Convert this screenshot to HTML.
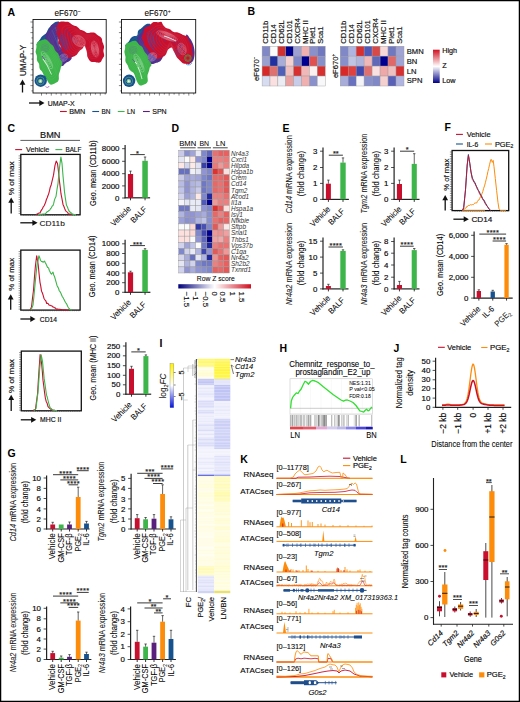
<!DOCTYPE html>
<html><head><meta charset="utf-8"><style>
html,body{margin:0;padding:0;background:#fff;}
svg{display:block;}
text{font-family:"Liberation Sans", sans-serif;}
</style></head><body>
<svg width="520" height="702" viewBox="0 0 520 702">
<rect x="0" y="0" width="520" height="702" fill="#fff"/>
<text x="7.50" y="15.80" font-size="10.5" fill="#000" font-weight="bold" >A</text>
<text x="67.50" y="15.90" font-size="8.2" text-anchor="middle" stroke="#222" stroke-width="0.08" >eF670<tspan font-size="5" dy="-3.2">−</tspan></text>
<text x="157.50" y="15.90" font-size="8.2" text-anchor="middle" stroke="#222" stroke-width="0.08" >eF670<tspan font-size="5" dy="-3.2">+</tspan></text>
<rect x="33.00" y="19.50" width="73.20" height="73.50" fill="#fff" stroke="#111" stroke-width="0.9" />
<line x1="30.40" y1="22.00" x2="33.00" y2="22.00" stroke="#111" stroke-width="0.5" />
<line x1="31.40" y1="27.30" x2="33.00" y2="27.30" stroke="#111" stroke-width="0.5" />
<line x1="30.40" y1="32.60" x2="33.00" y2="32.60" stroke="#111" stroke-width="0.5" />
<line x1="31.40" y1="37.90" x2="33.00" y2="37.90" stroke="#111" stroke-width="0.5" />
<line x1="30.40" y1="43.20" x2="33.00" y2="43.20" stroke="#111" stroke-width="0.5" />
<line x1="31.40" y1="48.50" x2="33.00" y2="48.50" stroke="#111" stroke-width="0.5" />
<line x1="30.40" y1="53.80" x2="33.00" y2="53.80" stroke="#111" stroke-width="0.5" />
<line x1="31.40" y1="59.10" x2="33.00" y2="59.10" stroke="#111" stroke-width="0.5" />
<line x1="30.40" y1="64.40" x2="33.00" y2="64.40" stroke="#111" stroke-width="0.5" />
<line x1="31.40" y1="69.70" x2="33.00" y2="69.70" stroke="#111" stroke-width="0.5" />
<line x1="30.40" y1="75.00" x2="33.00" y2="75.00" stroke="#111" stroke-width="0.5" />
<line x1="31.40" y1="80.30" x2="33.00" y2="80.30" stroke="#111" stroke-width="0.5" />
<line x1="30.40" y1="85.60" x2="33.00" y2="85.60" stroke="#111" stroke-width="0.5" />
<line x1="31.40" y1="90.90" x2="33.00" y2="90.90" stroke="#111" stroke-width="0.5" />
<line x1="41.50" y1="93.00" x2="41.50" y2="95.60" stroke="#111" stroke-width="0.5" />
<line x1="46.40" y1="93.00" x2="46.40" y2="94.60" stroke="#111" stroke-width="0.5" />
<line x1="51.30" y1="93.00" x2="51.30" y2="95.60" stroke="#111" stroke-width="0.5" />
<line x1="56.20" y1="93.00" x2="56.20" y2="94.60" stroke="#111" stroke-width="0.5" />
<line x1="61.10" y1="93.00" x2="61.10" y2="95.60" stroke="#111" stroke-width="0.5" />
<line x1="66.00" y1="93.00" x2="66.00" y2="94.60" stroke="#111" stroke-width="0.5" />
<line x1="70.90" y1="93.00" x2="70.90" y2="95.60" stroke="#111" stroke-width="0.5" />
<line x1="75.80" y1="93.00" x2="75.80" y2="94.60" stroke="#111" stroke-width="0.5" />
<line x1="80.70" y1="93.00" x2="80.70" y2="95.60" stroke="#111" stroke-width="0.5" />
<line x1="85.60" y1="93.00" x2="85.60" y2="94.60" stroke="#111" stroke-width="0.5" />
<line x1="90.50" y1="93.00" x2="90.50" y2="95.60" stroke="#111" stroke-width="0.5" />
<line x1="95.40" y1="93.00" x2="95.40" y2="94.60" stroke="#111" stroke-width="0.5" />
<line x1="100.30" y1="93.00" x2="100.30" y2="95.60" stroke="#111" stroke-width="0.5" />
<line x1="105.20" y1="93.00" x2="105.20" y2="94.60" stroke="#111" stroke-width="0.5" />
<path d="M36.68,45.20 C36.55,44.89 36.45,44.71 36.56,44.25 C36.67,43.79 36.88,43.48 37.24,42.91 C37.61,42.35 37.93,42.00 38.39,41.43 C38.85,40.86 39.15,40.56 39.53,40.05 C39.92,39.55 40.05,39.34 40.31,38.92 C40.58,38.50 40.60,38.34 40.85,37.95 C41.09,37.56 41.19,37.38 41.53,36.98 C41.87,36.59 42.08,36.37 42.55,35.97 C43.02,35.57 43.34,35.36 43.88,34.99 C44.41,34.61 44.74,34.45 45.21,34.09 C45.68,33.73 45.89,33.59 46.23,33.18 C46.57,32.77 46.66,32.55 46.90,32.04 C47.15,31.52 47.22,31.19 47.46,30.62 C47.71,30.04 47.84,29.69 48.13,29.19 C48.42,28.68 48.57,28.50 48.92,28.08 C49.27,27.66 49.52,27.45 49.88,27.09 C50.24,26.73 50.38,26.62 50.71,26.28 C51.04,25.93 51.17,25.77 51.52,25.38 C51.87,24.99 52.03,24.76 52.45,24.32 C52.86,23.88 53.11,23.60 53.60,23.18 C54.09,22.76 54.39,22.51 54.90,22.22 C55.40,21.92 55.68,21.81 56.11,21.69 C56.55,21.58 56.54,21.67 57.06,21.66 C57.59,21.64 58.19,21.38 58.73,21.62 C59.27,21.86 59.52,22.46 59.75,22.87 C59.97,23.27 59.82,23.32 59.87,23.65 C59.93,23.98 59.99,24.13 60.03,24.53 C60.08,24.93 60.12,25.13 60.10,25.65 C60.09,26.17 60.06,26.49 59.95,27.14 C59.83,27.78 59.72,28.19 59.52,28.89 C59.33,29.60 59.17,30.01 58.98,30.67 C58.80,31.33 58.68,31.66 58.60,32.20 C58.52,32.74 58.54,32.89 58.60,33.37 C58.66,33.84 58.78,34.06 58.91,34.57 C59.03,35.08 59.15,35.37 59.22,35.92 C59.29,36.47 59.30,36.79 59.24,37.33 C59.17,37.88 59.06,38.15 58.89,38.64 C58.72,39.12 58.57,39.32 58.39,39.75 C58.21,40.17 58.11,40.35 57.98,40.76 C57.85,41.17 57.87,41.31 57.74,41.80 C57.61,42.29 57.56,42.67 57.34,43.21 C57.13,43.75 57.01,44.06 56.67,44.52 C56.33,44.98 56.10,45.19 55.65,45.50 C55.19,45.80 54.90,45.88 54.39,46.03 C53.89,46.19 53.60,46.19 53.11,46.29 C52.62,46.39 52.41,46.42 51.94,46.56 C51.46,46.70 51.26,46.80 50.76,46.99 C50.26,47.17 50.00,47.32 49.44,47.49 C48.89,47.65 48.57,47.75 47.98,47.81 C47.40,47.86 47.08,47.84 46.53,47.74 C45.98,47.64 45.71,47.50 45.23,47.32 C44.75,47.13 44.58,46.97 44.12,46.80 C43.66,46.63 43.46,46.55 42.92,46.47 C42.39,46.39 42.07,46.40 41.44,46.39 C40.81,46.37 40.42,46.43 39.78,46.40 C39.15,46.38 38.78,46.39 38.27,46.28 C37.75,46.16 37.55,46.05 37.23,45.84 C36.91,45.62 36.82,45.52 36.68,45.20 Z" fill="#16528e" />
<path d="M41.55,41.85 C41.12,40.98 42.63,39.14 43.50,37.95 C44.37,36.76 45.77,35.84 46.75,34.70 C47.73,33.56 48.54,32.21 49.35,31.12 C50.16,30.04 50.76,28.93 51.62,28.20 C52.49,27.47 53.74,26.93 54.55,26.77 C55.36,26.61 56.28,26.12 56.50,27.23 C56.72,28.33 56.07,31.29 55.85,33.40 C55.63,35.51 55.96,38.27 55.20,39.90 C54.44,41.52 52.82,42.61 51.30,43.15 C49.78,43.69 47.73,43.37 46.10,43.15 C44.48,42.93 41.98,42.72 41.55,41.85 Z" fill="none" stroke="#fff" stroke-width="0.35" opacity="0.13"/>
<path d="M43.83,40.27 C43.51,39.64 44.62,38.30 45.25,37.42 C45.88,36.55 46.91,35.88 47.62,35.05 C48.34,34.22 48.93,33.23 49.52,32.44 C50.12,31.65 50.55,30.83 51.19,30.30 C51.82,29.77 52.73,29.37 53.33,29.25 C53.92,29.14 54.59,28.78 54.75,29.59 C54.91,30.39 54.43,32.56 54.27,34.10 C54.12,35.64 54.35,37.66 53.80,38.85 C53.25,40.04 52.06,40.83 50.95,41.23 C49.84,41.62 48.34,41.38 47.15,41.23 C45.96,41.07 44.14,40.91 43.83,40.27 Z" fill="none" stroke="#fff" stroke-width="0.35" opacity="0.13"/>
<path d="M46.10,38.70 C45.90,38.30 46.60,37.45 47.00,36.90 C47.40,36.35 48.05,35.92 48.50,35.40 C48.95,34.88 49.33,34.25 49.70,33.75 C50.08,33.25 50.35,32.73 50.75,32.40 C51.15,32.06 51.73,31.81 52.10,31.74 C52.48,31.66 52.90,31.44 53.00,31.95 C53.10,32.46 52.80,33.82 52.70,34.80 C52.60,35.77 52.75,37.05 52.40,37.80 C52.05,38.55 51.30,39.05 50.60,39.30 C49.90,39.55 48.95,39.40 48.20,39.30 C47.45,39.20 46.30,39.10 46.10,38.70 Z" fill="none" stroke="#fff" stroke-width="0.35" opacity="0.13"/>
<path d="M48.69,30.33 C48.93,29.90 49.13,29.65 49.37,29.15 C49.60,28.65 49.68,28.34 49.89,27.81 C50.10,27.27 50.17,26.94 50.41,26.46 C50.65,25.97 50.77,25.72 51.07,25.37 C51.37,25.01 51.49,24.93 51.92,24.69 C52.34,24.45 52.67,24.35 53.20,24.16 C53.73,23.97 54.04,23.93 54.58,23.75 C55.11,23.57 55.40,23.47 55.88,23.25 C56.37,23.03 56.40,22.88 57.00,22.65 C57.60,22.43 58.28,22.06 58.89,22.14 C59.50,22.22 59.81,22.68 60.06,23.06 C60.30,23.44 60.13,23.55 60.11,24.04 C60.09,24.53 60.04,24.89 59.96,25.51 C59.87,26.12 59.80,26.51 59.70,27.12 C59.59,27.74 59.53,28.05 59.42,28.57 C59.32,29.09 59.27,29.30 59.19,29.74 C59.11,30.18 59.09,30.36 59.03,30.77 C58.97,31.18 58.96,31.29 58.88,31.78 C58.80,32.27 58.74,32.58 58.64,33.20 C58.53,33.82 58.46,34.23 58.36,34.90 C58.25,35.58 58.19,35.97 58.11,36.58 C58.03,37.19 57.99,37.48 57.95,37.95 C57.91,38.43 57.90,38.60 57.92,38.96 C57.93,39.32 57.94,39.38 58.04,39.77 C58.13,40.15 58.22,40.37 58.38,40.88 C58.54,41.38 58.68,41.70 58.83,42.28 C58.99,42.86 59.04,43.25 59.15,43.77 C59.26,44.30 59.23,44.49 59.40,44.91 C59.57,45.32 59.69,45.44 59.99,45.85 C60.28,46.25 60.48,46.44 60.86,46.93 C61.25,47.42 61.52,47.77 61.91,48.29 C62.31,48.80 62.51,49.07 62.83,49.49 C63.15,49.92 63.27,50.09 63.52,50.41 C63.78,50.73 63.85,50.83 64.09,51.10 C64.33,51.37 64.40,51.46 64.72,51.75 C65.03,52.03 65.22,52.18 65.67,52.52 C66.11,52.86 66.42,53.06 66.96,53.43 C67.49,53.80 67.83,54.02 68.35,54.36 C68.86,54.70 69.14,54.87 69.52,55.14 C69.90,55.41 69.94,55.43 70.25,55.70 C70.56,55.98 70.81,56.19 71.08,56.51 C71.35,56.82 71.48,56.93 71.60,57.27 C71.72,57.61 71.74,57.84 71.68,58.21 C71.63,58.58 71.55,58.74 71.34,59.12 C71.12,59.50 70.96,59.73 70.59,60.11 C70.22,60.50 69.97,60.70 69.48,61.03 C69.00,61.37 68.66,61.52 68.18,61.77 C67.69,62.02 67.50,62.05 67.04,62.29 C66.59,62.52 66.34,62.64 65.91,62.95 C65.48,63.27 65.28,63.47 64.89,63.85 C64.50,64.24 64.33,64.52 63.97,64.89 C63.60,65.26 63.49,65.48 63.06,65.73 C62.64,65.97 62.35,66.08 61.85,66.10 C61.34,66.12 61.07,66.05 60.55,65.82 C60.03,65.58 59.76,65.36 59.25,64.92 C58.73,64.48 58.37,64.05 57.98,63.62 C57.59,63.20 57.57,63.10 57.29,62.79 C57.02,62.48 56.89,62.38 56.61,62.09 C56.33,61.81 56.18,61.71 55.89,61.36 C55.60,61.02 55.44,60.84 55.15,60.35 C54.86,59.87 54.71,59.56 54.44,58.94 C54.16,58.32 54.04,57.92 53.78,57.26 C53.52,56.60 53.38,56.18 53.14,55.65 C52.89,55.11 52.82,54.96 52.54,54.58 C52.26,54.20 52.09,54.08 51.74,53.74 C51.39,53.41 51.15,53.29 50.78,52.92 C50.40,52.55 50.18,52.35 49.86,51.89 C49.54,51.42 49.40,51.13 49.18,50.60 C48.97,50.07 48.93,49.76 48.78,49.24 C48.63,48.72 48.61,48.46 48.44,48.00 C48.27,47.55 48.17,47.35 47.91,46.95 C47.66,46.54 47.51,46.47 47.15,45.99 C46.80,45.50 46.49,45.12 46.14,44.54 C45.79,43.97 45.60,43.66 45.39,43.11 C45.18,42.56 45.14,42.29 45.09,41.79 C45.05,41.29 45.11,41.07 45.15,40.61 C45.20,40.14 45.27,39.95 45.31,39.47 C45.35,38.99 45.36,38.72 45.37,38.21 C45.38,37.70 45.33,37.46 45.34,36.92 C45.35,36.37 45.33,36.04 45.42,35.48 C45.51,34.92 45.58,34.61 45.79,34.11 C46.01,33.61 46.18,33.38 46.50,32.98 C46.81,32.58 47.03,32.44 47.37,32.10 C47.70,31.77 47.90,31.66 48.16,31.30 C48.42,30.95 48.45,30.76 48.69,30.33 Z" fill="#52308e" />
<path d="M50.48,33.27 C51.38,31.61 52.08,30.39 53.17,29.43 C54.25,28.47 55.98,27.71 57.00,27.52 C58.02,27.32 59.04,27.20 59.30,28.28 C59.56,29.37 58.79,31.92 58.53,34.03 C58.28,36.14 57.51,38.89 57.77,40.93 C58.02,42.98 59.17,44.77 60.07,46.30 C60.96,47.83 61.98,49.05 63.13,50.13 C64.28,51.22 66.07,51.99 66.97,52.82 C67.86,53.65 68.76,54.35 68.50,55.12 C68.24,55.88 66.58,56.52 65.43,57.42 C64.28,58.31 62.88,60.16 61.60,60.48 C60.32,60.80 59.04,60.55 57.77,59.33 C56.49,58.12 55.34,55.50 53.93,53.20 C52.53,50.90 50.36,47.83 49.33,45.53 C48.31,43.23 47.61,41.44 47.80,39.40 C47.99,37.36 49.59,34.93 50.48,33.27 Z" fill="none" stroke="#fff" stroke-width="0.35" opacity="0.13"/>
<path d="M51.48,34.90 C52.23,33.49 52.83,32.46 53.75,31.65 C54.67,30.84 56.13,30.19 57.00,30.02 C57.87,29.86 58.73,29.75 58.95,30.67 C59.17,31.60 58.52,33.76 58.30,35.55 C58.08,37.34 57.43,39.67 57.65,41.40 C57.87,43.13 58.84,44.65 59.60,45.95 C60.36,47.25 61.23,48.28 62.20,49.20 C63.18,50.12 64.69,50.77 65.45,51.48 C66.21,52.18 66.97,52.78 66.75,53.43 C66.53,54.08 65.12,54.62 64.15,55.38 C63.18,56.13 61.98,57.70 60.90,57.98 C59.82,58.25 58.73,58.03 57.65,57.00 C56.57,55.97 55.59,53.75 54.40,51.80 C53.21,49.85 51.37,47.25 50.50,45.30 C49.63,43.35 49.04,41.83 49.20,40.10 C49.36,38.37 50.72,36.31 51.48,34.90 Z" fill="none" stroke="#fff" stroke-width="0.35" opacity="0.13"/>
<path d="M52.47,36.53 C53.09,35.38 53.58,34.53 54.33,33.87 C55.09,33.20 56.29,32.67 57.00,32.53 C57.71,32.40 58.42,32.31 58.60,33.07 C58.78,33.82 58.24,35.60 58.07,37.07 C57.89,38.53 57.36,40.44 57.53,41.87 C57.71,43.29 58.51,44.53 59.13,45.60 C59.76,46.67 60.47,47.51 61.27,48.27 C62.07,49.02 63.31,49.56 63.93,50.13 C64.56,50.71 65.18,51.20 65.00,51.73 C64.82,52.27 63.67,52.71 62.87,53.33 C62.07,53.96 61.09,55.24 60.20,55.47 C59.31,55.69 58.42,55.51 57.53,54.67 C56.64,53.82 55.84,52.00 54.87,50.40 C53.89,48.80 52.38,46.67 51.67,45.07 C50.96,43.47 50.47,42.22 50.60,40.80 C50.73,39.38 51.84,37.69 52.47,36.53 Z" fill="none" stroke="#fff" stroke-width="0.35" opacity="0.13"/>
<path d="M53.46,38.17 C53.94,37.26 54.33,36.60 54.92,36.08 C55.51,35.56 56.44,35.15 57.00,35.04 C57.56,34.94 58.11,34.87 58.25,35.46 C58.39,36.05 57.97,37.44 57.83,38.58 C57.69,39.73 57.28,41.22 57.42,42.33 C57.56,43.44 58.18,44.42 58.67,45.25 C59.15,46.08 59.71,46.74 60.33,47.33 C60.96,47.92 61.93,48.34 62.42,48.79 C62.90,49.24 63.39,49.62 63.25,50.04 C63.11,50.46 62.21,50.81 61.58,51.29 C60.96,51.78 60.19,52.78 59.50,52.96 C58.81,53.13 58.11,52.99 57.42,52.33 C56.72,51.67 56.10,50.25 55.33,49.00 C54.57,47.75 53.39,46.08 52.83,44.83 C52.28,43.58 51.90,42.61 52.00,41.50 C52.10,40.39 52.97,39.07 53.46,38.17 Z" fill="none" stroke="#fff" stroke-width="0.35" opacity="0.13"/>
<path d="M54.45,39.80 C54.80,39.15 55.08,38.67 55.50,38.30 C55.92,37.92 56.60,37.62 57.00,37.55 C57.40,37.47 57.80,37.42 57.90,37.85 C58.00,38.27 57.70,39.27 57.60,40.10 C57.50,40.92 57.20,42.00 57.30,42.80 C57.40,43.60 57.85,44.30 58.20,44.90 C58.55,45.50 58.95,45.97 59.40,46.40 C59.85,46.83 60.55,47.12 60.90,47.45 C61.25,47.78 61.60,48.05 61.50,48.35 C61.40,48.65 60.75,48.90 60.30,49.25 C59.85,49.60 59.30,50.33 58.80,50.45 C58.30,50.58 57.80,50.48 57.30,50.00 C56.80,49.52 56.35,48.50 55.80,47.60 C55.25,46.70 54.40,45.50 54.00,44.60 C53.60,43.70 53.33,43.00 53.40,42.20 C53.47,41.40 54.10,40.45 54.45,39.80 Z" fill="none" stroke="#fff" stroke-width="0.35" opacity="0.13"/>
<path d="M52,30 C55,36 57,44 60,50" fill="none" stroke="#3a6fb5" stroke-width="0.6" opacity="0.8"/>
<path d="M55,27 C58,34 61,42 64,48" fill="none" stroke="#3a6fb5" stroke-width="0.6" opacity="0.8"/>
<path d="M57,40 C60,44 62,47 66,50" fill="none" stroke="#3a6fb5" stroke-width="0.6" opacity="0.8"/>
<path d="M56.73,27.16 C56.83,26.66 57.01,26.18 57.21,25.61 C57.41,25.04 57.49,24.79 57.72,24.31 C57.94,23.82 58.03,23.58 58.33,23.16 C58.62,22.74 58.82,22.51 59.21,22.22 C59.60,21.92 59.78,21.84 60.28,21.70 C60.78,21.57 61.12,21.56 61.72,21.54 C62.33,21.53 62.70,21.58 63.32,21.61 C63.94,21.64 64.26,21.68 64.83,21.71 C65.40,21.73 65.72,21.74 66.16,21.74 C66.59,21.73 66.63,21.67 66.99,21.69 C67.34,21.71 67.50,21.71 67.91,21.84 C68.32,21.97 68.55,22.08 69.02,22.35 C69.50,22.63 69.78,22.85 70.29,23.21 C70.80,23.58 71.09,23.84 71.58,24.19 C72.08,24.55 72.32,24.74 72.76,25.00 C73.20,25.25 73.39,25.32 73.80,25.47 C74.20,25.61 74.38,25.60 74.80,25.73 C75.22,25.86 75.43,25.90 75.89,26.11 C76.35,26.33 76.60,26.47 77.09,26.81 C77.57,27.15 77.83,27.40 78.30,27.81 C78.78,28.23 79.01,28.50 79.44,28.88 C79.87,29.25 80.07,29.44 80.45,29.68 C80.84,29.93 80.91,29.90 81.37,30.08 C81.84,30.26 82.25,30.38 82.77,30.57 C83.29,30.77 83.51,30.82 83.97,31.05 C84.42,31.27 84.61,31.41 85.03,31.68 C85.44,31.95 85.63,32.16 86.05,32.41 C86.47,32.66 86.67,32.79 87.14,32.91 C87.60,33.02 87.83,33.01 88.37,32.98 C88.91,32.95 89.22,32.84 89.84,32.75 C90.46,32.66 90.82,32.57 91.47,32.53 C92.12,32.49 92.49,32.49 93.10,32.55 C93.71,32.62 94.02,32.68 94.53,32.85 C95.04,33.03 95.24,33.16 95.65,33.42 C96.05,33.67 96.19,33.84 96.55,34.13 C96.92,34.43 97.07,34.59 97.49,34.89 C97.91,35.20 98.15,35.34 98.63,35.66 C99.11,35.98 99.41,36.13 99.89,36.47 C100.36,36.82 100.63,37.01 100.99,37.39 C101.36,37.78 101.50,37.98 101.71,38.39 C101.92,38.81 101.94,39.01 102.03,39.46 C102.13,39.92 102.10,40.14 102.18,40.65 C102.26,41.16 102.31,41.53 102.45,42.02 C102.59,42.51 102.66,42.64 102.86,43.11 C103.06,43.59 103.24,43.85 103.45,44.38 C103.66,44.92 103.80,45.22 103.91,45.78 C104.03,46.34 104.06,46.64 104.04,47.19 C104.03,47.74 103.94,48.01 103.84,48.52 C103.73,49.03 103.62,49.24 103.53,49.72 C103.45,50.20 103.40,50.42 103.42,50.92 C103.43,51.42 103.50,51.70 103.61,52.24 C103.71,52.79 103.84,53.09 103.95,53.65 C104.06,54.20 104.15,54.50 104.17,55.00 C104.19,55.51 104.16,55.75 104.05,56.16 C103.93,56.57 103.83,56.64 103.59,57.05 C103.35,57.47 103.14,57.78 102.86,58.24 C102.58,58.70 102.43,58.92 102.18,59.37 C101.94,59.82 101.86,60.07 101.63,60.51 C101.41,60.95 101.36,61.20 101.07,61.57 C100.79,61.93 100.64,62.11 100.22,62.32 C99.79,62.54 99.50,62.59 98.94,62.64 C98.37,62.68 98.00,62.62 97.38,62.55 C96.75,62.48 96.41,62.38 95.82,62.28 C95.24,62.19 94.96,62.14 94.43,62.09 C93.91,62.04 93.67,62.05 93.22,62.05 C92.76,62.04 92.56,62.10 92.16,62.06 C91.76,62.02 91.64,62.07 91.20,61.85 C90.77,61.62 90.45,61.41 89.98,60.93 C89.51,60.45 89.26,60.10 88.84,59.46 C88.42,58.83 88.17,58.36 87.87,57.75 C87.57,57.14 87.50,56.92 87.35,56.42 C87.20,55.92 87.18,55.69 87.12,55.25 C87.07,54.82 87.10,54.65 87.08,54.26 C87.06,53.88 87.11,53.89 87.02,53.34 C86.94,52.78 86.86,52.24 86.66,51.49 C86.47,50.74 86.32,50.30 86.07,49.58 C85.81,48.85 85.65,48.51 85.39,47.85 C85.12,47.20 84.96,46.74 84.74,46.30 C84.51,45.86 84.44,45.66 84.26,45.65 C84.09,45.63 84.08,45.84 83.87,46.22 C83.66,46.61 83.55,47.04 83.20,47.57 C82.85,48.10 82.50,48.52 82.13,48.89 C81.75,49.25 81.64,49.19 81.31,49.40 C80.99,49.61 80.82,49.67 80.50,49.94 C80.17,50.21 80.03,50.35 79.70,50.74 C79.38,51.12 79.21,51.38 78.87,51.86 C78.52,52.33 78.37,52.59 77.98,53.10 C77.59,53.60 77.32,53.94 76.91,54.39 C76.50,54.84 76.31,55.05 75.93,55.35 C75.55,55.66 75.39,55.74 75.03,55.92 C74.67,56.10 74.52,56.10 74.12,56.25 C73.72,56.39 73.51,56.44 73.03,56.63 C72.55,56.82 72.27,56.98 71.71,57.20 C71.15,57.41 70.81,57.58 70.22,57.71 C69.63,57.83 69.25,57.87 68.75,57.82 C68.25,57.77 68.09,57.68 67.71,57.45 C67.33,57.22 67.18,57.02 66.86,56.67 C66.53,56.31 66.42,56.07 66.10,55.68 C65.78,55.29 65.63,55.09 65.26,54.72 C64.88,54.35 64.64,54.16 64.23,53.84 C63.83,53.52 63.62,53.44 63.23,53.11 C62.85,52.78 62.63,52.61 62.33,52.18 C62.02,51.76 61.90,51.51 61.72,51.01 C61.54,50.50 61.53,50.20 61.44,49.65 C61.35,49.09 61.38,48.80 61.28,48.25 C61.18,47.70 61.12,47.40 60.94,46.91 C60.76,46.42 60.63,46.25 60.36,45.80 C60.09,45.34 59.88,45.12 59.59,44.64 C59.29,44.16 59.11,43.91 58.90,43.40 C58.69,42.88 58.62,42.61 58.54,42.09 C58.46,41.56 58.50,41.29 58.51,40.77 C58.52,40.24 58.59,39.99 58.57,39.45 C58.56,38.92 58.55,38.61 58.44,38.10 C58.33,37.59 58.24,37.42 58.04,36.90 C57.83,36.39 57.65,36.10 57.42,35.53 C57.19,34.97 57.04,34.66 56.88,34.10 C56.73,33.54 56.68,33.25 56.65,32.73 C56.61,32.21 56.67,31.98 56.71,31.51 C56.76,31.04 56.84,30.84 56.88,30.39 C56.91,29.94 56.93,29.73 56.90,29.27 C56.86,28.82 56.74,28.52 56.70,28.10 C56.67,27.68 56.63,27.65 56.73,27.16 Z" fill="#c8102e" />
<path d="M62.00,30.00 C62.20,27.93 63.13,27.13 64.40,26.40 C65.67,25.67 67.71,25.24 69.60,25.60 C71.49,25.96 73.71,27.45 75.76,28.56 C77.81,29.67 80.28,31.27 81.92,32.24 C83.56,33.21 84.27,34.03 85.60,34.40 C86.93,34.77 88.48,34.28 89.92,34.48 C91.36,34.68 93.01,34.95 94.24,35.60 C95.47,36.25 96.47,37.33 97.28,38.40 C98.09,39.47 98.69,40.36 99.12,42.00 C99.55,43.64 99.76,46.24 99.84,48.24 C99.92,50.24 99.97,52.44 99.60,54.00 C99.23,55.56 98.60,56.87 97.60,57.60 C96.60,58.33 94.93,58.40 93.60,58.40 C92.27,58.40 90.67,58.20 89.60,57.60 C88.53,57.00 87.76,55.93 87.20,54.80 C86.64,53.67 86.51,51.93 86.24,50.80 C85.97,49.67 85.91,48.96 85.60,48.00 C85.29,47.04 84.93,45.17 84.40,45.04 C83.87,44.91 83.27,46.24 82.40,47.20 C81.53,48.16 80.27,49.73 79.20,50.80 C78.13,51.87 77.20,53.00 76.00,53.60 C74.80,54.20 73.33,54.73 72.00,54.40 C70.67,54.07 69.13,53.00 68.00,51.60 C66.87,50.20 66.00,48.13 65.20,46.00 C64.40,43.87 63.73,41.47 63.20,38.80 C62.67,36.13 61.80,32.07 62.00,30.00 Z" fill="none" stroke="#fff" stroke-width="0.35" opacity="0.13"/>
<path d="M64.75,31.50 C64.92,29.69 65.74,28.99 66.85,28.35 C67.96,27.71 69.74,27.33 71.40,27.65 C73.06,27.96 74.99,29.27 76.79,30.24 C78.59,31.21 80.75,32.61 82.18,33.46 C83.62,34.31 84.23,35.02 85.40,35.35 C86.57,35.68 87.92,35.25 89.18,35.42 C90.44,35.59 91.89,35.83 92.96,36.40 C94.03,36.97 94.91,37.92 95.62,38.85 C96.33,39.78 96.86,40.56 97.23,42.00 C97.60,43.44 97.79,45.71 97.86,47.46 C97.93,49.21 97.98,51.13 97.65,52.50 C97.32,53.87 96.78,55.01 95.90,55.65 C95.03,56.29 93.57,56.35 92.40,56.35 C91.23,56.35 89.83,56.18 88.90,55.65 C87.97,55.13 87.29,54.19 86.80,53.20 C86.31,52.21 86.19,50.69 85.96,49.70 C85.73,48.71 85.67,48.09 85.40,47.25 C85.13,46.41 84.82,44.78 84.35,44.66 C83.88,44.54 83.36,45.71 82.60,46.55 C81.84,47.39 80.73,48.77 79.80,49.70 C78.87,50.63 78.05,51.62 77.00,52.15 C75.95,52.67 74.67,53.14 73.50,52.85 C72.33,52.56 70.99,51.62 70.00,50.40 C69.01,49.17 68.25,47.37 67.55,45.50 C66.85,43.63 66.27,41.53 65.80,39.20 C65.33,36.87 64.58,33.31 64.75,31.50 Z" fill="none" stroke="#fff" stroke-width="0.35" opacity="0.13"/>
<path d="M67.50,33.00 C67.65,31.45 68.35,30.85 69.30,30.30 C70.25,29.75 71.78,29.43 73.20,29.70 C74.62,29.97 76.28,31.09 77.82,31.92 C79.36,32.75 81.21,33.95 82.44,34.68 C83.67,35.41 84.20,36.02 85.20,36.30 C86.20,36.58 87.36,36.21 88.44,36.36 C89.52,36.51 90.76,36.71 91.68,37.20 C92.60,37.69 93.35,38.50 93.96,39.30 C94.57,40.10 95.02,40.77 95.34,42.00 C95.66,43.23 95.82,45.18 95.88,46.68 C95.94,48.18 95.98,49.83 95.70,51.00 C95.42,52.17 94.95,53.15 94.20,53.70 C93.45,54.25 92.20,54.30 91.20,54.30 C90.20,54.30 89.00,54.15 88.20,53.70 C87.40,53.25 86.82,52.45 86.40,51.60 C85.98,50.75 85.88,49.45 85.68,48.60 C85.48,47.75 85.43,47.22 85.20,46.50 C84.97,45.78 84.70,44.38 84.30,44.28 C83.90,44.18 83.45,45.18 82.80,45.90 C82.15,46.62 81.20,47.80 80.40,48.60 C79.60,49.40 78.90,50.25 78.00,50.70 C77.10,51.15 76.00,51.55 75.00,51.30 C74.00,51.05 72.85,50.25 72.00,49.20 C71.15,48.15 70.50,46.60 69.90,45.00 C69.30,43.40 68.80,41.60 68.40,39.60 C68.00,37.60 67.35,34.55 67.50,33.00 Z" fill="none" stroke="#fff" stroke-width="0.35" opacity="0.13"/>
<path d="M70.25,34.50 C70.38,33.21 70.96,32.71 71.75,32.25 C72.54,31.79 73.82,31.52 75.00,31.75 C76.18,31.98 77.57,32.91 78.85,33.60 C80.13,34.29 81.67,35.29 82.70,35.90 C83.73,36.51 84.17,37.02 85.00,37.25 C85.83,37.48 86.80,37.17 87.70,37.30 C88.60,37.42 89.63,37.59 90.40,38.00 C91.17,38.41 91.79,39.08 92.30,39.75 C92.81,40.42 93.18,40.98 93.45,42.00 C93.72,43.02 93.85,44.65 93.90,45.90 C93.95,47.15 93.98,48.52 93.75,49.50 C93.52,50.48 93.12,51.29 92.50,51.75 C91.88,52.21 90.83,52.25 90.00,52.25 C89.17,52.25 88.17,52.12 87.50,51.75 C86.83,51.38 86.35,50.71 86.00,50.00 C85.65,49.29 85.57,48.21 85.40,47.50 C85.23,46.79 85.19,46.35 85.00,45.75 C84.81,45.15 84.58,43.98 84.25,43.90 C83.92,43.82 83.54,44.65 83.00,45.25 C82.46,45.85 81.67,46.83 81.00,47.50 C80.33,48.17 79.75,48.88 79.00,49.25 C78.25,49.62 77.33,49.96 76.50,49.75 C75.67,49.54 74.71,48.88 74.00,48.00 C73.29,47.12 72.75,45.83 72.25,44.50 C71.75,43.17 71.33,41.67 71.00,40.00 C70.67,38.33 70.12,35.79 70.25,34.50 Z" fill="none" stroke="#fff" stroke-width="0.35" opacity="0.13"/>
<path d="M73.00,36.00 C73.10,34.97 73.57,34.57 74.20,34.20 C74.83,33.83 75.85,33.62 76.80,33.80 C77.75,33.98 78.85,34.73 79.88,35.28 C80.91,35.83 82.14,36.63 82.96,37.12 C83.78,37.61 84.13,38.01 84.80,38.20 C85.47,38.39 86.24,38.14 86.96,38.24 C87.68,38.34 88.51,38.47 89.12,38.80 C89.73,39.13 90.23,39.67 90.64,40.20 C91.05,40.73 91.35,41.18 91.56,42.00 C91.77,42.82 91.88,44.12 91.92,45.12 C91.96,46.12 91.99,47.22 91.80,48.00 C91.61,48.78 91.30,49.43 90.80,49.80 C90.30,50.17 89.47,50.20 88.80,50.20 C88.13,50.20 87.33,50.10 86.80,49.80 C86.27,49.50 85.88,48.97 85.60,48.40 C85.32,47.83 85.25,46.97 85.12,46.40 C84.99,45.83 84.95,45.48 84.80,45.00 C84.65,44.52 84.47,43.59 84.20,43.52 C83.93,43.45 83.63,44.12 83.20,44.60 C82.77,45.08 82.13,45.87 81.60,46.40 C81.07,46.93 80.60,47.50 80.00,47.80 C79.40,48.10 78.67,48.37 78.00,48.20 C77.33,48.03 76.57,47.50 76.00,46.80 C75.43,46.10 75.00,45.07 74.60,44.00 C74.20,42.93 73.87,41.73 73.60,40.40 C73.33,39.07 72.90,37.03 73.00,36.00 Z" fill="none" stroke="#fff" stroke-width="0.35" opacity="0.13"/>
<path d="M75.75,37.50 C75.83,36.73 76.18,36.42 76.65,36.15 C77.12,35.88 77.89,35.72 78.60,35.85 C79.31,35.98 80.14,36.55 80.91,36.96 C81.68,37.38 82.61,37.98 83.22,38.34 C83.83,38.71 84.10,39.01 84.60,39.15 C85.10,39.29 85.68,39.10 86.22,39.18 C86.76,39.26 87.38,39.36 87.84,39.60 C88.30,39.84 88.68,40.25 88.98,40.65 C89.28,41.05 89.51,41.38 89.67,42.00 C89.83,42.62 89.91,43.59 89.94,44.34 C89.97,45.09 89.99,45.91 89.85,46.50 C89.71,47.09 89.47,47.58 89.10,47.85 C88.72,48.12 88.10,48.15 87.60,48.15 C87.10,48.15 86.50,48.08 86.10,47.85 C85.70,47.62 85.41,47.22 85.20,46.80 C84.99,46.38 84.94,45.72 84.84,45.30 C84.74,44.88 84.71,44.61 84.60,44.25 C84.48,43.89 84.35,43.19 84.15,43.14 C83.95,43.09 83.73,43.59 83.40,43.95 C83.08,44.31 82.60,44.90 82.20,45.30 C81.80,45.70 81.45,46.12 81.00,46.35 C80.55,46.58 80.00,46.77 79.50,46.65 C79.00,46.52 78.42,46.12 78.00,45.60 C77.58,45.08 77.25,44.30 76.95,43.50 C76.65,42.70 76.40,41.80 76.20,40.80 C76.00,39.80 75.67,38.27 75.75,37.50 Z" fill="none" stroke="#fff" stroke-width="0.35" opacity="0.13"/>
<path d="M62,33 C63,40 65,46 69,50" fill="none" stroke="#4a3aa8" stroke-width="0.55" opacity="0.75"/>
<path d="M64,30 C66,38 68,44 72,48" fill="none" stroke="#4a3aa8" stroke-width="0.55" opacity="0.75"/>
<path d="M60,36 C61,42 63,46 67,50" fill="none" stroke="#4a3aa8" stroke-width="0.55" opacity="0.75"/>
<path d="M59,28 C61,36 62,44 66,52" fill="none" stroke="#4a3aa8" stroke-width="0.55" opacity="0.75"/>
<path d="M66,28 C69,34 71,40 75,44" fill="none" stroke="#4a3aa8" stroke-width="0.55" opacity="0.75"/>
<path d="M68,32 C72,36 74,40 78,42" fill="none" stroke="#4a3aa8" stroke-width="0.55" opacity="0.75"/>
<path d="M61,50 C64,54 68,56 72,56" fill="none" stroke="#4a3aa8" stroke-width="0.55" opacity="0.75"/>
<ellipse cx="79" cy="41" rx="1.17" ry="0.83" transform="rotate(35 79 41)" fill="none" stroke="#fff" stroke-width="0.5" opacity="0.4"/>
<ellipse cx="79" cy="41" rx="2.33" ry="1.67" transform="rotate(35 79 41)" fill="none" stroke="#fff" stroke-width="0.5" opacity="0.4"/>
<ellipse cx="79" cy="41" rx="3.50" ry="2.50" transform="rotate(35 79 41)" fill="none" stroke="#fff" stroke-width="0.5" opacity="0.4"/>
<ellipse cx="79" cy="41" rx="4.67" ry="3.33" transform="rotate(35 79 41)" fill="none" stroke="#fff" stroke-width="0.5" opacity="0.4"/>
<ellipse cx="79" cy="41" rx="5.83" ry="4.17" transform="rotate(35 79 41)" fill="none" stroke="#fff" stroke-width="0.5" opacity="0.4"/>
<ellipse cx="79" cy="41" rx="7.00" ry="5.00" transform="rotate(35 79 41)" fill="none" stroke="#fff" stroke-width="0.5" opacity="0.4"/>
<ellipse cx="95" cy="49" rx="0.70" ry="1.60" transform="rotate(-10 95 49)" fill="none" stroke="#fff" stroke-width="0.5" opacity="0.45"/>
<ellipse cx="95" cy="49" rx="1.40" ry="3.20" transform="rotate(-10 95 49)" fill="none" stroke="#fff" stroke-width="0.5" opacity="0.45"/>
<ellipse cx="95" cy="49" rx="2.10" ry="4.80" transform="rotate(-10 95 49)" fill="none" stroke="#fff" stroke-width="0.5" opacity="0.45"/>
<ellipse cx="95" cy="49" rx="2.80" ry="6.40" transform="rotate(-10 95 49)" fill="none" stroke="#fff" stroke-width="0.5" opacity="0.45"/>
<ellipse cx="95" cy="49" rx="3.50" ry="8.00" transform="rotate(-10 95 49)" fill="none" stroke="#fff" stroke-width="0.5" opacity="0.45"/>
<ellipse cx="64" cy="42" rx="0.75" ry="2.00" transform="rotate(-20 64 42)" fill="none" stroke="#4050b0" stroke-width="0.5" opacity="0.6"/>
<ellipse cx="64" cy="42" rx="1.50" ry="4.00" transform="rotate(-20 64 42)" fill="none" stroke="#4050b0" stroke-width="0.5" opacity="0.6"/>
<ellipse cx="64" cy="42" rx="2.25" ry="6.00" transform="rotate(-20 64 42)" fill="none" stroke="#4050b0" stroke-width="0.5" opacity="0.6"/>
<ellipse cx="64" cy="42" rx="3.00" ry="8.00" transform="rotate(-20 64 42)" fill="none" stroke="#4050b0" stroke-width="0.5" opacity="0.6"/>
<ellipse cx="63" cy="58" rx="1.25" ry="0.88" transform="rotate(-30 63 58)" fill="none" stroke="#d8c8e8" stroke-width="0.5" opacity="0.5"/>
<ellipse cx="63" cy="58" rx="2.50" ry="1.75" transform="rotate(-30 63 58)" fill="none" stroke="#d8c8e8" stroke-width="0.5" opacity="0.5"/>
<ellipse cx="63" cy="58" rx="3.75" ry="2.62" transform="rotate(-30 63 58)" fill="none" stroke="#d8c8e8" stroke-width="0.5" opacity="0.5"/>
<ellipse cx="63" cy="58" rx="5.00" ry="3.50" transform="rotate(-30 63 58)" fill="none" stroke="#d8c8e8" stroke-width="0.5" opacity="0.5"/>
<path d="M35.71,50.92 C35.80,50.47 35.90,50.11 36.01,49.55 C36.13,49.00 36.20,48.75 36.28,48.17 C36.37,47.59 36.38,47.27 36.43,46.65 C36.49,46.03 36.48,45.66 36.55,45.07 C36.62,44.47 36.57,44.26 36.78,43.67 C37.00,43.08 37.22,42.61 37.63,42.12 C38.03,41.64 38.31,41.52 38.81,41.24 C39.30,40.97 39.58,40.93 40.10,40.75 C40.62,40.56 40.88,40.50 41.40,40.31 C41.93,40.13 42.19,40.02 42.71,39.84 C43.22,39.66 43.47,39.52 43.98,39.42 C44.50,39.32 44.74,39.25 45.27,39.33 C45.80,39.41 46.08,39.50 46.63,39.81 C47.17,40.12 47.52,40.43 48.00,40.88 C48.47,41.33 48.60,41.59 49.00,42.04 C49.39,42.50 49.58,42.76 49.97,43.17 C50.36,43.58 50.55,43.74 50.96,44.09 C51.37,44.44 51.65,44.64 52.02,44.92 C52.38,45.20 52.48,45.19 52.77,45.50 C53.06,45.81 53.22,46.00 53.48,46.46 C53.74,46.91 53.85,47.22 54.07,47.76 C54.30,48.31 54.38,48.65 54.59,49.17 C54.80,49.69 54.89,49.95 55.14,50.37 C55.39,50.78 55.50,50.89 55.83,51.24 C56.16,51.60 56.41,51.76 56.80,52.13 C57.18,52.49 57.42,52.66 57.76,53.09 C58.11,53.52 58.27,53.77 58.51,54.29 C58.75,54.81 58.81,55.13 58.96,55.69 C59.11,56.25 59.13,56.59 59.26,57.11 C59.39,57.62 59.40,57.80 59.61,58.26 C59.81,58.72 59.98,58.94 60.30,59.40 C60.61,59.86 60.86,60.09 61.19,60.57 C61.53,61.04 61.74,61.31 61.98,61.77 C62.21,62.24 62.30,62.49 62.37,62.90 C62.44,63.31 62.41,63.31 62.32,63.82 C62.23,64.32 62.15,64.83 61.91,65.43 C61.66,66.03 61.32,66.32 61.08,66.83 C60.85,67.34 60.87,67.47 60.73,67.99 C60.59,68.50 60.55,68.82 60.40,69.42 C60.25,70.02 60.17,70.38 59.99,70.99 C59.80,71.61 59.67,71.97 59.49,72.49 C59.32,73.01 59.24,73.14 59.12,73.59 C58.99,74.04 58.92,74.24 58.86,74.73 C58.79,75.22 58.78,75.47 58.78,76.04 C58.78,76.60 58.83,76.94 58.84,77.55 C58.86,78.15 58.91,78.46 58.84,79.07 C58.77,79.68 58.69,80.08 58.47,80.61 C58.26,81.14 58.10,81.36 57.78,81.71 C57.46,82.06 57.24,82.14 56.87,82.35 C56.50,82.56 56.35,82.54 55.91,82.75 C55.48,82.96 55.18,83.12 54.69,83.38 C54.19,83.64 53.94,83.82 53.44,84.06 C52.95,84.30 52.71,84.46 52.21,84.58 C51.72,84.70 51.48,84.76 50.98,84.65 C50.47,84.55 50.21,84.45 49.69,84.04 C49.18,83.64 48.78,83.15 48.40,82.62 C48.01,82.09 48.02,81.89 47.77,81.41 C47.52,80.92 47.40,80.64 47.14,80.20 C46.88,79.76 46.76,79.58 46.49,79.21 C46.21,78.85 46.07,78.73 45.78,78.38 C45.50,78.04 45.34,77.90 45.06,77.50 C44.78,77.10 44.66,76.91 44.38,76.40 C44.11,75.88 43.95,75.51 43.68,74.92 C43.41,74.32 43.31,73.99 43.05,73.44 C42.80,72.89 42.69,72.63 42.40,72.16 C42.10,71.69 41.94,71.52 41.59,71.08 C41.24,70.64 40.97,70.34 40.64,69.96 C40.32,69.58 40.20,69.54 39.97,69.16 C39.74,68.78 39.63,68.55 39.51,68.07 C39.38,67.58 39.37,67.28 39.32,66.76 C39.28,66.23 39.32,65.94 39.27,65.43 C39.22,64.92 39.21,64.68 39.07,64.21 C38.93,63.74 38.81,63.53 38.56,63.07 C38.31,62.61 38.11,62.38 37.84,61.90 C37.57,61.42 37.40,61.16 37.20,60.66 C37.01,60.17 36.95,59.90 36.89,59.41 C36.82,58.92 36.86,58.68 36.87,58.21 C36.89,57.75 36.95,57.54 36.94,57.08 C36.94,56.62 36.93,56.40 36.84,55.91 C36.74,55.42 36.63,55.15 36.45,54.61 C36.27,54.07 36.12,53.75 35.94,53.20 C35.76,52.65 35.60,52.30 35.56,51.85 C35.51,51.39 35.62,51.38 35.71,50.92 Z" fill="#3db54a" />
<path d="M38.88,53.57 C38.80,51.43 39.26,49.54 39.80,48.20 C40.34,46.86 41.21,46.09 42.10,45.52 C42.99,44.94 44.14,44.69 45.17,44.75 C46.19,44.81 47.21,45.20 48.23,45.90 C49.26,46.60 50.28,47.69 51.30,48.97 C52.32,50.24 53.41,52.03 54.37,53.57 C55.33,55.10 56.26,56.53 57.05,58.17 C57.84,59.80 58.86,62.10 59.12,63.38 C59.38,64.66 58.97,64.76 58.58,65.83 C58.20,66.91 57.16,68.29 56.82,69.82 C56.48,71.35 56.92,73.65 56.51,75.03 C56.10,76.41 55.21,77.40 54.37,78.10 C53.52,78.80 52.42,79.31 51.45,79.25 C50.48,79.19 49.52,78.80 48.54,77.72 C47.56,76.63 46.53,74.34 45.55,72.73 C44.57,71.12 43.52,70.01 42.64,68.06 C41.76,66.10 40.89,63.42 40.26,61.00 C39.63,58.59 38.96,55.70 38.88,53.57 Z" fill="none" stroke="#fff" stroke-width="0.35" opacity="0.13"/>
<path d="M40.42,54.85 C40.35,53.04 40.74,51.44 41.20,50.30 C41.65,49.16 42.39,48.51 43.15,48.02 C43.91,47.54 44.88,47.32 45.75,47.38 C46.62,47.43 47.48,47.75 48.35,48.35 C49.22,48.95 50.08,49.87 50.95,50.95 C51.82,52.03 52.74,53.55 53.55,54.85 C54.36,56.15 55.15,57.36 55.83,58.75 C56.50,60.14 57.36,62.09 57.58,63.17 C57.80,64.25 57.45,64.34 57.12,65.25 C56.80,66.16 55.92,67.33 55.63,68.63 C55.34,69.93 55.72,71.88 55.37,73.05 C55.02,74.22 54.26,75.05 53.55,75.65 C52.84,76.25 51.90,76.68 51.08,76.62 C50.26,76.57 49.44,76.25 48.61,75.33 C47.78,74.40 46.91,72.46 46.08,71.10 C45.24,69.73 44.35,68.79 43.61,67.14 C42.86,65.48 42.12,63.20 41.59,61.16 C41.06,59.11 40.48,56.66 40.42,54.85 Z" fill="none" stroke="#fff" stroke-width="0.35" opacity="0.13"/>
<path d="M41.96,56.13 C41.91,54.65 42.23,53.33 42.60,52.40 C42.97,51.47 43.58,50.93 44.20,50.53 C44.82,50.13 45.62,49.96 46.33,50.00 C47.04,50.04 47.76,50.31 48.47,50.80 C49.18,51.29 49.89,52.04 50.60,52.93 C51.31,53.82 52.07,55.07 52.73,56.13 C53.40,57.20 54.05,58.20 54.60,59.33 C55.15,60.47 55.86,62.07 56.04,62.96 C56.22,63.85 55.93,63.92 55.67,64.67 C55.40,65.41 54.68,66.37 54.44,67.44 C54.20,68.51 54.51,70.11 54.23,71.07 C53.94,72.03 53.32,72.71 52.73,73.20 C52.15,73.69 51.38,74.04 50.71,74.00 C50.03,73.96 49.36,73.69 48.68,72.93 C48.00,72.18 47.28,70.59 46.60,69.47 C45.92,68.35 45.19,67.57 44.57,66.21 C43.96,64.85 43.36,62.99 42.92,61.31 C42.48,59.63 42.01,57.62 41.96,56.13 Z" fill="none" stroke="#fff" stroke-width="0.35" opacity="0.13"/>
<path d="M43.50,57.42 C43.46,56.26 43.71,55.23 44.00,54.50 C44.29,53.77 44.76,53.35 45.25,53.04 C45.74,52.73 46.36,52.59 46.92,52.62 C47.47,52.66 48.03,52.87 48.58,53.25 C49.14,53.63 49.69,54.22 50.25,54.92 C50.81,55.61 51.40,56.58 51.92,57.42 C52.44,58.25 52.94,59.03 53.38,59.92 C53.81,60.81 54.36,62.06 54.50,62.75 C54.64,63.44 54.42,63.50 54.21,64.08 C54.00,64.67 53.44,65.42 53.25,66.25 C53.06,67.08 53.31,68.33 53.08,69.08 C52.86,69.83 52.38,70.37 51.92,70.75 C51.46,71.13 50.86,71.41 50.33,71.38 C49.81,71.34 49.28,71.13 48.75,70.54 C48.22,69.95 47.66,68.71 47.12,67.83 C46.59,66.96 46.02,66.35 45.54,65.29 C45.06,64.23 44.59,62.77 44.25,61.46 C43.91,60.15 43.54,58.58 43.50,57.42 Z" fill="none" stroke="#fff" stroke-width="0.35" opacity="0.13"/>
<path d="M45.04,58.70 C45.01,57.86 45.19,57.12 45.40,56.60 C45.61,56.07 45.95,55.77 46.30,55.55 C46.65,55.32 47.10,55.23 47.50,55.25 C47.90,55.27 48.30,55.42 48.70,55.70 C49.10,55.97 49.50,56.40 49.90,56.90 C50.30,57.40 50.73,58.10 51.10,58.70 C51.48,59.30 51.84,59.86 52.15,60.50 C52.46,61.14 52.86,62.04 52.96,62.54 C53.06,63.04 52.90,63.08 52.75,63.50 C52.60,63.92 52.20,64.46 52.06,65.06 C51.93,65.66 52.10,66.56 51.94,67.10 C51.78,67.64 51.43,68.03 51.10,68.30 C50.77,68.57 50.34,68.78 49.96,68.75 C49.58,68.72 49.20,68.58 48.82,68.15 C48.44,67.73 48.03,66.83 47.65,66.20 C47.27,65.57 46.85,65.14 46.51,64.37 C46.16,63.61 45.82,62.55 45.58,61.61 C45.34,60.66 45.07,59.53 45.04,58.70 Z" fill="none" stroke="#fff" stroke-width="0.35" opacity="0.13"/>
<ellipse cx="47" cy="60" rx="0.75" ry="2.50" transform="rotate(-30 47 60)" fill="none" stroke="#fff" stroke-width="0.5" opacity="0.45"/>
<ellipse cx="47" cy="60" rx="1.50" ry="5.00" transform="rotate(-30 47 60)" fill="none" stroke="#fff" stroke-width="0.5" opacity="0.45"/>
<ellipse cx="47" cy="60" rx="2.25" ry="7.50" transform="rotate(-30 47 60)" fill="none" stroke="#fff" stroke-width="0.5" opacity="0.45"/>
<ellipse cx="47" cy="60" rx="3.00" ry="10.00" transform="rotate(-30 47 60)" fill="none" stroke="#fff" stroke-width="0.5" opacity="0.45"/>
<ellipse cx="45" cy="48" rx="1.33" ry="1.33" transform="rotate(0 45 48)" fill="none" stroke="#6a5aa8" stroke-width="0.5" opacity="0.5"/>
<ellipse cx="45" cy="48" rx="2.67" ry="2.67" transform="rotate(0 45 48)" fill="none" stroke="#6a5aa8" stroke-width="0.5" opacity="0.5"/>
<ellipse cx="45" cy="48" rx="4.00" ry="4.00" transform="rotate(0 45 48)" fill="none" stroke="#6a5aa8" stroke-width="0.5" opacity="0.5"/>
<path d="M43,59 L47,65 L51.5,74.5" fill="none" stroke="#fff" stroke-width="0.9" opacity="0.8"/>
<path d="M42,56 L45,60" fill="none" stroke="#5a3a9a" stroke-width="0.8" />
<circle cx="40.7" cy="80.7" r="6.2" fill="#16528e"/>
<circle cx="40.400000000000006" cy="80.9" r="3.844" fill="none" stroke="#7fbf8f" stroke-width="0.6" opacity="0.8"/>
<circle cx="40.400000000000006" cy="81.10000000000001" r="2.17" fill="#8fcf8f"/>
<circle cx="40.400000000000006" cy="81.10000000000001" r="0.9299999999999999" fill="#e8f8e8"/>
<path d="M45.5,86.5 C47,88 49,87.5 49,86" fill="none" stroke="#9a4ab0" stroke-width="0.7" />
<rect x="121.50" y="19.50" width="74.20" height="73.50" fill="#fff" stroke="#111" stroke-width="0.9" />
<line x1="118.90" y1="22.00" x2="121.50" y2="22.00" stroke="#111" stroke-width="0.5" />
<line x1="119.90" y1="27.30" x2="121.50" y2="27.30" stroke="#111" stroke-width="0.5" />
<line x1="118.90" y1="32.60" x2="121.50" y2="32.60" stroke="#111" stroke-width="0.5" />
<line x1="119.90" y1="37.90" x2="121.50" y2="37.90" stroke="#111" stroke-width="0.5" />
<line x1="118.90" y1="43.20" x2="121.50" y2="43.20" stroke="#111" stroke-width="0.5" />
<line x1="119.90" y1="48.50" x2="121.50" y2="48.50" stroke="#111" stroke-width="0.5" />
<line x1="118.90" y1="53.80" x2="121.50" y2="53.80" stroke="#111" stroke-width="0.5" />
<line x1="119.90" y1="59.10" x2="121.50" y2="59.10" stroke="#111" stroke-width="0.5" />
<line x1="118.90" y1="64.40" x2="121.50" y2="64.40" stroke="#111" stroke-width="0.5" />
<line x1="119.90" y1="69.70" x2="121.50" y2="69.70" stroke="#111" stroke-width="0.5" />
<line x1="118.90" y1="75.00" x2="121.50" y2="75.00" stroke="#111" stroke-width="0.5" />
<line x1="119.90" y1="80.30" x2="121.50" y2="80.30" stroke="#111" stroke-width="0.5" />
<line x1="118.90" y1="85.60" x2="121.50" y2="85.60" stroke="#111" stroke-width="0.5" />
<line x1="119.90" y1="90.90" x2="121.50" y2="90.90" stroke="#111" stroke-width="0.5" />
<line x1="130.00" y1="93.00" x2="130.00" y2="95.60" stroke="#111" stroke-width="0.5" />
<line x1="134.90" y1="93.00" x2="134.90" y2="94.60" stroke="#111" stroke-width="0.5" />
<line x1="139.80" y1="93.00" x2="139.80" y2="95.60" stroke="#111" stroke-width="0.5" />
<line x1="144.70" y1="93.00" x2="144.70" y2="94.60" stroke="#111" stroke-width="0.5" />
<line x1="149.60" y1="93.00" x2="149.60" y2="95.60" stroke="#111" stroke-width="0.5" />
<line x1="154.50" y1="93.00" x2="154.50" y2="94.60" stroke="#111" stroke-width="0.5" />
<line x1="159.40" y1="93.00" x2="159.40" y2="95.60" stroke="#111" stroke-width="0.5" />
<line x1="164.30" y1="93.00" x2="164.30" y2="94.60" stroke="#111" stroke-width="0.5" />
<line x1="169.20" y1="93.00" x2="169.20" y2="95.60" stroke="#111" stroke-width="0.5" />
<line x1="174.10" y1="93.00" x2="174.10" y2="94.60" stroke="#111" stroke-width="0.5" />
<line x1="179.00" y1="93.00" x2="179.00" y2="95.60" stroke="#111" stroke-width="0.5" />
<line x1="183.90" y1="93.00" x2="183.90" y2="94.60" stroke="#111" stroke-width="0.5" />
<line x1="188.80" y1="93.00" x2="188.80" y2="95.60" stroke="#111" stroke-width="0.5" />
<line x1="193.70" y1="93.00" x2="193.70" y2="94.60" stroke="#111" stroke-width="0.5" />
<path d="M125.23,46.22 C125.12,45.88 125.19,45.64 125.50,45.10 C125.80,44.56 126.21,44.17 126.77,43.53 C127.34,42.88 127.83,42.41 128.31,41.88 C128.80,41.35 128.88,41.28 129.18,40.88 C129.49,40.47 129.60,40.28 129.85,39.87 C130.09,39.47 130.16,39.27 130.41,38.86 C130.67,38.46 130.78,38.23 131.12,37.86 C131.47,37.49 131.62,37.30 132.13,37.00 C132.65,36.69 133.07,36.54 133.71,36.35 C134.36,36.15 134.78,36.15 135.37,36.04 C135.96,35.92 136.26,35.93 136.66,35.75 C137.07,35.57 137.18,35.55 137.38,35.11 C137.59,34.68 137.59,34.23 137.69,33.55 C137.78,32.87 137.66,32.39 137.84,31.71 C138.03,31.03 138.27,30.58 138.60,30.15 C138.93,29.71 139.12,29.78 139.50,29.53 C139.88,29.28 140.09,29.20 140.51,28.90 C140.93,28.60 141.14,28.43 141.59,28.03 C142.05,27.62 142.30,27.35 142.79,26.89 C143.28,26.43 143.53,26.16 144.05,25.73 C144.57,25.30 144.86,25.08 145.39,24.73 C145.93,24.39 146.24,24.23 146.75,24.02 C147.26,23.82 147.50,23.77 147.94,23.69 C148.37,23.62 148.57,23.63 148.93,23.66 C149.29,23.69 149.44,23.73 149.75,23.86 C150.05,23.99 150.19,24.07 150.45,24.31 C150.72,24.55 150.87,24.67 151.07,25.06 C151.26,25.46 151.37,25.69 151.44,26.27 C151.51,26.85 151.50,27.23 151.42,27.97 C151.33,28.71 151.18,29.34 151.02,29.99 C150.85,30.63 150.73,30.71 150.59,31.18 C150.46,31.66 150.39,31.90 150.34,32.37 C150.29,32.84 150.32,33.04 150.35,33.52 C150.38,34.00 150.47,34.23 150.50,34.75 C150.53,35.27 150.57,35.56 150.49,36.11 C150.42,36.67 150.33,36.99 150.12,37.53 C149.90,38.07 149.71,38.34 149.42,38.82 C149.13,39.30 148.92,39.50 148.67,39.91 C148.41,40.33 148.29,40.51 148.12,40.90 C147.96,41.29 147.99,41.44 147.82,41.88 C147.65,42.33 147.55,42.68 147.27,43.13 C146.99,43.59 146.82,43.82 146.41,44.15 C146.00,44.47 145.73,44.58 145.22,44.74 C144.70,44.90 144.38,44.89 143.84,44.94 C143.30,44.98 143.01,44.93 142.49,44.98 C141.98,45.04 141.75,45.05 141.25,45.21 C140.75,45.38 140.51,45.54 140.01,45.78 C139.52,46.03 139.30,46.23 138.78,46.45 C138.25,46.68 137.93,46.81 137.38,46.92 C136.82,47.03 136.52,47.03 136.00,47.02 C135.48,47.00 135.24,46.91 134.76,46.83 C134.29,46.75 134.09,46.67 133.62,46.63 C133.16,46.59 132.94,46.58 132.44,46.62 C131.94,46.66 131.66,46.74 131.14,46.84 C130.63,46.94 130.60,47.05 129.87,47.12 C129.15,47.19 128.29,47.25 127.52,47.19 C126.76,47.13 126.51,47.03 126.05,46.83 C125.59,46.64 125.34,46.57 125.23,46.22 Z" fill="#16528e" />
<path d="M130.64,42.50 C130.42,41.96 131.45,40.88 132.20,39.90 C132.95,38.92 134.13,37.41 135.12,36.65 C136.12,35.89 137.51,36.05 138.18,35.35 C138.85,34.65 138.42,33.41 139.16,32.42 C139.89,31.44 141.38,30.19 142.60,29.43 C143.82,28.68 145.74,27.43 146.50,27.88 C147.26,28.32 147.37,30.10 147.15,32.10 C146.93,34.10 146.39,38.17 145.20,39.90 C144.01,41.63 141.95,41.96 140.00,42.50 C138.05,43.04 135.06,43.15 133.50,43.15 C131.94,43.15 130.86,43.04 130.64,42.50 Z" fill="none" stroke="#fff" stroke-width="0.35" opacity="0.13"/>
<path d="M133.16,40.75 C133.00,40.35 133.75,39.56 134.30,38.85 C134.85,38.14 135.71,37.03 136.44,36.48 C137.17,35.92 138.18,36.04 138.67,35.52 C139.16,35.01 138.84,34.11 139.38,33.39 C139.92,32.67 141.01,31.76 141.90,31.20 C142.79,30.65 144.20,29.74 144.75,30.06 C145.30,30.39 145.38,31.69 145.22,33.15 C145.07,34.61 144.67,37.58 143.80,38.85 C142.93,40.12 141.43,40.35 140.00,40.75 C138.57,41.15 136.39,41.23 135.25,41.23 C134.11,41.23 133.32,41.15 133.16,40.75 Z" fill="none" stroke="#fff" stroke-width="0.35" opacity="0.13"/>
<path d="M135.68,39.00 C135.58,38.75 136.06,38.25 136.40,37.80 C136.75,37.35 137.29,36.65 137.75,36.30 C138.21,35.95 138.85,36.03 139.16,35.70 C139.47,35.38 139.27,34.80 139.61,34.35 C139.95,33.90 140.63,33.32 141.20,32.97 C141.76,32.62 142.65,32.05 143.00,32.25 C143.35,32.45 143.40,33.28 143.30,34.20 C143.20,35.12 142.95,37.00 142.40,37.80 C141.85,38.60 140.90,38.75 140.00,39.00 C139.10,39.25 137.72,39.30 137.00,39.30 C136.28,39.30 135.78,39.25 135.68,39.00 Z" fill="none" stroke="#fff" stroke-width="0.35" opacity="0.13"/>
<path d="M137.40,40.21 C137.52,39.79 137.33,39.33 137.36,38.75 C137.39,38.17 137.41,37.87 137.56,37.31 C137.70,36.75 137.82,36.46 138.10,35.96 C138.38,35.47 138.60,35.25 138.97,34.84 C139.35,34.44 139.60,34.26 139.96,33.93 C140.31,33.61 140.45,33.55 140.74,33.23 C141.03,32.91 141.17,32.74 141.41,32.31 C141.66,31.89 141.75,31.61 141.97,31.09 C142.19,30.57 142.28,30.23 142.52,29.70 C142.76,29.17 142.88,28.87 143.16,28.45 C143.44,28.04 143.55,27.92 143.92,27.61 C144.30,27.30 144.56,27.18 145.04,26.90 C145.51,26.62 145.80,26.51 146.28,26.23 C146.77,25.96 147.03,25.80 147.46,25.51 C147.89,25.22 148.11,25.01 148.42,24.78 C148.73,24.56 148.87,24.39 149.01,24.38 C149.14,24.37 149.14,24.42 149.09,24.74 C149.05,25.06 148.95,25.35 148.78,25.96 C148.60,26.57 148.45,27.03 148.21,27.80 C147.97,28.57 147.81,29.07 147.58,29.80 C147.34,30.53 147.23,30.93 147.02,31.45 C146.81,31.97 146.75,32.06 146.53,32.41 C146.31,32.77 146.17,32.87 145.91,33.22 C145.65,33.56 145.49,33.70 145.23,34.13 C144.97,34.55 144.83,34.80 144.63,35.34 C144.44,35.88 144.35,36.22 144.25,36.81 C144.15,37.39 144.16,37.70 144.13,38.27 C144.10,38.84 144.12,39.17 144.11,39.67 C144.10,40.16 144.09,40.34 144.08,40.73 C144.06,41.13 144.02,41.26 144.04,41.63 C144.06,42.01 144.04,42.18 144.16,42.61 C144.29,43.05 144.36,43.32 144.66,43.80 C144.95,44.29 145.20,44.63 145.65,45.05 C146.10,45.47 146.50,45.59 146.91,45.90 C147.31,46.22 147.31,46.23 147.68,46.60 C148.05,46.98 148.27,47.28 148.75,47.78 C149.23,48.28 149.58,48.61 150.07,49.10 C150.56,49.58 150.78,49.80 151.21,50.21 C151.64,50.61 151.85,50.80 152.22,51.12 C152.58,51.44 152.73,51.55 153.05,51.81 C153.38,52.07 153.50,52.16 153.84,52.41 C154.18,52.66 154.34,52.79 154.74,53.07 C155.13,53.35 155.27,53.51 155.81,53.81 C156.36,54.11 156.83,54.36 157.48,54.58 C158.13,54.80 158.50,54.84 159.07,54.92 C159.63,55.00 159.90,54.95 160.30,54.98 C160.70,55.00 160.66,54.86 161.07,55.05 C161.47,55.23 162.01,55.46 162.32,55.89 C162.64,56.33 162.66,56.75 162.65,57.22 C162.63,57.70 162.47,57.78 162.25,58.26 C162.02,58.73 161.88,59.06 161.52,59.58 C161.17,60.11 160.93,60.44 160.48,60.89 C160.02,61.33 159.76,61.52 159.23,61.82 C158.71,62.12 158.42,62.19 157.85,62.39 C157.28,62.59 156.95,62.65 156.40,62.83 C155.84,63.01 155.56,63.09 155.06,63.28 C154.57,63.46 154.43,63.59 153.91,63.75 C153.39,63.91 153.04,64.06 152.46,64.10 C151.87,64.13 151.57,64.17 150.98,63.93 C150.40,63.68 149.97,63.32 149.55,62.89 C149.13,62.47 149.13,62.29 148.88,61.79 C148.63,61.30 148.52,60.96 148.30,60.43 C148.08,59.90 147.98,59.60 147.77,59.14 C147.56,58.68 147.47,58.49 147.25,58.12 C147.02,57.75 146.91,57.63 146.65,57.29 C146.39,56.95 146.22,56.78 145.94,56.41 C145.66,56.04 145.53,55.88 145.27,55.43 C145.00,54.98 144.87,54.68 144.63,54.17 C144.38,53.66 144.28,53.35 144.04,52.87 C143.79,52.40 143.69,52.17 143.40,51.79 C143.11,51.41 142.94,51.29 142.58,50.96 C142.21,50.64 141.97,50.54 141.58,50.18 C141.19,49.83 140.95,49.62 140.64,49.20 C140.33,48.78 140.22,48.55 140.03,48.08 C139.84,47.61 139.81,47.32 139.69,46.83 C139.56,46.34 139.56,46.10 139.41,45.63 C139.27,45.16 139.19,44.95 138.95,44.49 C138.70,44.02 138.52,43.79 138.20,43.30 C137.89,42.81 137.66,42.54 137.37,42.05 C137.09,41.55 136.77,41.20 136.78,40.83 C136.78,40.46 137.28,40.62 137.40,40.21 Z" fill="#52308e" />
<path d="M139.57,41.87 C139.44,39.95 140.97,38.80 141.87,37.27 C142.76,35.73 143.78,33.88 144.93,32.67 C146.08,31.45 148.38,29.60 148.77,29.98 C149.15,30.37 147.87,33.24 147.23,34.97 C146.59,36.69 145.19,38.67 144.93,40.33 C144.68,41.99 144.93,43.53 145.70,44.93 C146.47,46.34 148.13,47.49 149.53,48.77 C150.94,50.04 152.73,51.83 154.13,52.60 C155.54,53.37 157.07,52.92 157.97,53.37 C158.86,53.81 159.76,54.45 159.50,55.28 C159.24,56.11 157.58,57.52 156.43,58.35 C155.28,59.18 153.81,60.14 152.60,60.27 C151.39,60.39 150.17,60.14 149.15,59.12 C148.13,58.09 147.55,55.86 146.47,54.13 C145.38,52.41 143.78,50.81 142.63,48.77 C141.48,46.72 139.69,43.78 139.57,41.87 Z" fill="none" stroke="#fff" stroke-width="0.35" opacity="0.13"/>
<path d="M140.85,42.80 C140.74,41.17 142.04,40.20 142.80,38.90 C143.56,37.60 144.43,36.03 145.40,35.00 C146.38,33.97 148.33,32.40 148.65,32.72 C148.97,33.05 147.89,35.49 147.35,36.95 C146.81,38.41 145.62,40.09 145.40,41.50 C145.18,42.91 145.40,44.21 146.05,45.40 C146.70,46.59 148.11,47.57 149.30,48.65 C150.49,49.73 152.01,51.25 153.20,51.90 C154.39,52.55 155.69,52.17 156.45,52.55 C157.21,52.93 157.97,53.47 157.75,54.18 C157.53,54.88 156.12,56.07 155.15,56.78 C154.18,57.48 152.93,58.29 151.90,58.40 C150.87,58.51 149.84,58.29 148.97,57.43 C148.11,56.56 147.62,54.66 146.70,53.20 C145.78,51.74 144.42,50.38 143.45,48.65 C142.47,46.92 140.96,44.42 140.85,42.80 Z" fill="none" stroke="#fff" stroke-width="0.35" opacity="0.13"/>
<path d="M142.13,43.73 C142.04,42.40 143.11,41.60 143.73,40.53 C144.36,39.47 145.07,38.18 145.87,37.33 C146.67,36.49 148.27,35.20 148.53,35.47 C148.80,35.73 147.91,37.73 147.47,38.93 C147.02,40.13 146.04,41.51 145.87,42.67 C145.69,43.82 145.87,44.89 146.40,45.87 C146.93,46.84 148.09,47.64 149.07,48.53 C150.04,49.42 151.29,50.67 152.27,51.20 C153.24,51.73 154.31,51.42 154.93,51.73 C155.56,52.04 156.18,52.49 156.00,53.07 C155.82,53.64 154.67,54.62 153.87,55.20 C153.07,55.78 152.04,56.44 151.20,56.53 C150.36,56.62 149.51,56.44 148.80,55.73 C148.09,55.02 147.69,53.47 146.93,52.27 C146.18,51.07 145.07,49.96 144.27,48.53 C143.47,47.11 142.22,45.07 142.13,43.73 Z" fill="none" stroke="#fff" stroke-width="0.35" opacity="0.13"/>
<path d="M143.42,44.67 C143.35,43.62 144.18,43.00 144.67,42.17 C145.15,41.33 145.71,40.33 146.33,39.67 C146.96,39.01 148.21,38.00 148.42,38.21 C148.62,38.42 147.93,39.98 147.58,40.92 C147.24,41.85 146.47,42.93 146.33,43.83 C146.19,44.74 146.33,45.57 146.75,46.33 C147.17,47.10 148.07,47.72 148.83,48.42 C149.60,49.11 150.57,50.08 151.33,50.50 C152.10,50.92 152.93,50.67 153.42,50.92 C153.90,51.16 154.39,51.51 154.25,51.96 C154.11,52.41 153.21,53.17 152.58,53.62 C151.96,54.08 151.16,54.60 150.50,54.67 C149.84,54.74 149.18,54.60 148.62,54.04 C148.07,53.49 147.76,52.27 147.17,51.33 C146.58,50.40 145.71,49.53 145.08,48.42 C144.46,47.31 143.49,45.71 143.42,44.67 Z" fill="none" stroke="#fff" stroke-width="0.35" opacity="0.13"/>
<path d="M144.70,45.60 C144.65,44.85 145.25,44.40 145.60,43.80 C145.95,43.20 146.35,42.48 146.80,42.00 C147.25,41.52 148.15,40.80 148.30,40.95 C148.45,41.10 147.95,42.22 147.70,42.90 C147.45,43.58 146.90,44.35 146.80,45.00 C146.70,45.65 146.80,46.25 147.10,46.80 C147.40,47.35 148.05,47.80 148.60,48.30 C149.15,48.80 149.85,49.50 150.40,49.80 C150.95,50.10 151.55,49.93 151.90,50.10 C152.25,50.27 152.60,50.52 152.50,50.85 C152.40,51.18 151.75,51.73 151.30,52.05 C150.85,52.38 150.28,52.75 149.80,52.80 C149.33,52.85 148.85,52.75 148.45,52.35 C148.05,51.95 147.82,51.08 147.40,50.40 C146.98,49.72 146.35,49.10 145.90,48.30 C145.45,47.50 144.75,46.35 144.70,45.60 Z" fill="none" stroke="#fff" stroke-width="0.35" opacity="0.13"/>
<path d="M186.00,36.00 C186.50,32.08 188.83,37.17 190.00,38.50 C191.17,39.83 192.23,41.75 193.00,44.00 C193.77,46.25 194.52,49.33 194.60,52.00 C194.68,54.67 194.27,58.08 193.50,60.00 C192.73,61.92 191.08,63.17 190.00,63.50 C188.92,63.83 187.67,66.58 187.00,62.00 C186.33,57.42 185.50,39.92 186.00,36.00 Z" fill="#52308e" />
<path d="M149.81,25.52 C150.26,25.17 150.39,24.90 150.75,24.42 C151.12,23.94 151.17,23.58 151.64,23.13 C152.10,22.67 152.54,22.39 153.06,22.15 C153.58,21.90 153.68,21.95 154.22,21.92 C154.75,21.88 155.11,21.93 155.74,21.97 C156.37,22.01 156.74,22.09 157.36,22.13 C157.98,22.17 158.30,22.19 158.83,22.17 C159.37,22.15 159.62,22.08 160.04,22.02 C160.46,21.96 160.57,21.75 160.95,21.85 C161.34,21.95 161.66,22.10 161.97,22.54 C162.28,22.97 162.17,23.36 162.52,24.02 C162.86,24.69 163.27,25.29 163.69,25.86 C164.11,26.43 164.22,26.50 164.61,26.86 C165.01,27.22 165.22,27.41 165.65,27.67 C166.07,27.93 166.29,28.01 166.75,28.17 C167.21,28.34 167.46,28.35 167.95,28.49 C168.44,28.64 168.71,28.69 169.20,28.91 C169.69,29.12 169.96,29.28 170.40,29.59 C170.84,29.90 170.97,30.09 171.41,30.46 C171.85,30.83 172.15,31.11 172.62,31.42 C173.10,31.74 173.31,31.86 173.80,32.02 C174.29,32.18 174.54,32.19 175.07,32.24 C175.60,32.29 175.90,32.25 176.44,32.29 C176.98,32.34 177.23,32.34 177.77,32.47 C178.32,32.60 178.67,32.74 179.18,32.95 C179.69,33.16 179.89,33.29 180.32,33.52 C180.76,33.76 180.92,33.88 181.36,34.11 C181.80,34.33 182.01,34.44 182.53,34.64 C183.04,34.85 183.35,34.93 183.94,35.14 C184.54,35.34 184.91,35.42 185.49,35.67 C186.08,35.92 186.40,36.05 186.88,36.39 C187.35,36.74 187.55,36.94 187.86,37.38 C188.17,37.81 188.23,38.08 188.42,38.57 C188.62,39.07 188.65,39.33 188.84,39.85 C189.04,40.37 189.13,40.63 189.42,41.16 C189.70,41.69 189.92,42.02 190.27,42.52 C190.62,43.02 190.83,43.19 191.16,43.66 C191.49,44.13 191.68,44.38 191.91,44.89 C192.14,45.39 192.21,45.65 192.29,46.18 C192.37,46.71 192.32,46.97 192.30,47.52 C192.28,48.07 192.21,48.42 192.18,48.94 C192.15,49.45 192.11,49.58 192.16,50.09 C192.21,50.59 192.29,50.88 192.42,51.45 C192.54,52.03 192.67,52.36 192.78,52.97 C192.89,53.58 192.97,53.92 192.98,54.49 C192.99,55.07 192.95,55.35 192.83,55.84 C192.71,56.34 192.58,56.55 192.40,56.95 C192.22,57.35 192.10,57.37 191.92,57.84 C191.73,58.30 191.61,58.72 191.47,59.27 C191.33,59.81 191.31,60.07 191.19,60.57 C191.08,61.07 191.08,61.33 190.90,61.77 C190.73,62.21 190.66,62.43 190.33,62.77 C190.00,63.12 189.77,63.27 189.26,63.49 C188.75,63.70 188.38,63.76 187.78,63.85 C187.17,63.94 186.80,63.93 186.23,63.93 C185.65,63.93 185.38,63.92 184.91,63.86 C184.44,63.80 184.27,63.76 183.87,63.62 C183.48,63.49 183.32,63.41 182.93,63.17 C182.55,62.94 182.37,62.80 181.95,62.46 C181.53,62.13 181.30,61.93 180.82,61.50 C180.35,61.08 180.07,60.82 179.58,60.34 C179.09,59.85 178.81,59.55 178.37,59.08 C177.93,58.61 177.72,58.37 177.38,57.98 C177.04,57.58 176.90,57.43 176.67,57.11 C176.44,56.78 176.39,56.68 176.23,56.35 C176.06,56.02 176.03,55.87 175.85,55.45 C175.67,55.02 175.58,54.77 175.32,54.23 C175.05,53.68 174.84,53.32 174.52,52.73 C174.21,52.15 174.03,51.86 173.73,51.29 C173.43,50.72 173.27,50.39 173.03,49.89 C172.78,49.39 172.69,49.15 172.52,48.78 C172.34,48.40 172.31,48.25 172.15,48.01 C171.99,47.77 172.03,47.66 171.71,47.59 C171.40,47.53 171.05,47.54 170.57,47.70 C170.09,47.86 169.78,48.06 169.32,48.38 C168.87,48.69 168.62,48.89 168.28,49.28 C167.95,49.66 167.90,49.76 167.64,50.28 C167.38,50.80 167.27,51.20 166.99,51.87 C166.71,52.55 166.57,53.01 166.25,53.66 C165.93,54.30 165.75,54.64 165.40,55.12 C165.05,55.59 164.84,55.74 164.47,56.03 C164.11,56.32 163.92,56.38 163.56,56.56 C163.19,56.74 163.02,56.77 162.65,56.93 C162.27,57.10 162.16,57.15 161.69,57.40 C161.23,57.65 160.90,57.89 160.33,58.18 C159.76,58.47 159.46,58.69 158.86,58.84 C158.27,59.00 157.87,59.03 157.35,58.95 C156.83,58.87 156.67,58.74 156.27,58.45 C155.87,58.15 155.71,57.90 155.34,57.47 C154.97,57.05 154.83,56.77 154.44,56.32 C154.04,55.87 153.77,55.57 153.36,55.23 C152.94,54.89 152.80,54.86 152.37,54.60 C151.94,54.34 151.65,54.24 151.19,53.94 C150.73,53.65 150.47,53.49 150.08,53.12 C149.69,52.76 149.53,52.53 149.26,52.11 C148.99,51.68 148.93,51.43 148.74,50.99 C148.55,50.55 148.52,50.32 148.31,49.91 C148.10,49.50 148.00,49.31 147.68,48.93 C147.37,48.54 147.14,48.37 146.73,48.00 C146.33,47.62 146.04,47.44 145.64,47.05 C145.23,46.66 145.00,46.46 144.70,46.05 C144.40,45.65 144.29,45.43 144.15,45.02 C144.00,44.61 144.03,44.44 143.96,44.00 C143.89,43.56 143.89,43.29 143.79,42.83 C143.69,42.37 143.64,42.16 143.46,41.69 C143.28,41.23 143.13,41.00 142.89,40.50 C142.65,40.01 142.46,39.76 142.26,39.23 C142.06,38.71 141.94,38.45 141.88,37.90 C141.83,37.35 141.86,37.06 141.97,36.50 C142.09,35.94 142.25,35.65 142.47,35.09 C142.69,34.53 142.88,34.26 143.09,33.72 C143.30,33.18 143.41,32.91 143.53,32.38 C143.66,31.86 143.60,31.70 143.70,31.11 C143.81,30.52 143.87,30.03 144.07,29.45 C144.26,28.87 144.36,28.64 144.69,28.21 C145.02,27.77 145.23,27.59 145.70,27.27 C146.17,26.96 146.49,26.85 147.05,26.63 C147.61,26.41 147.96,26.40 148.51,26.17 C149.07,25.95 149.36,25.87 149.81,25.52 Z" fill="#c8102e" />
<path d="M153.60,28.16 C154.57,27.49 155.11,26.43 156.64,26.00 C158.17,25.57 161.41,25.15 162.80,25.60 C164.19,26.05 163.57,27.59 164.96,28.72 C166.35,29.85 169.28,31.48 171.12,32.40 C172.96,33.32 174.47,33.72 176.00,34.24 C177.53,34.76 178.99,34.89 180.32,35.52 C181.65,36.15 182.99,36.92 184.00,38.00 C185.01,39.08 185.73,40.47 186.40,42.00 C187.07,43.53 187.77,45.13 188.00,47.20 C188.23,49.27 188.09,52.60 187.76,54.40 C187.43,56.20 186.93,57.17 186.00,58.00 C185.07,58.83 183.41,59.53 182.16,59.36 C180.91,59.19 179.60,57.88 178.48,56.96 C177.36,56.04 176.25,54.97 175.44,53.84 C174.63,52.71 174.32,51.49 173.60,50.16 C172.88,48.83 171.95,46.25 171.12,45.84 C170.29,45.43 169.43,46.69 168.64,47.68 C167.85,48.67 167.31,50.67 166.40,51.76 C165.49,52.85 164.25,53.72 163.20,54.24 C162.15,54.76 161.21,55.19 160.08,54.88 C158.95,54.57 157.68,53.55 156.40,52.40 C155.12,51.25 153.60,49.53 152.40,48.00 C151.20,46.47 149.96,44.80 149.20,43.20 C148.44,41.60 147.91,40.13 147.84,38.40 C147.77,36.67 148.31,34.20 148.80,32.80 C149.29,31.40 150.00,30.77 150.80,30.00 C151.60,29.23 152.63,28.83 153.60,28.16 Z" fill="none" stroke="#fff" stroke-width="0.35" opacity="0.13"/>
<path d="M155.65,29.64 C156.50,29.06 156.97,28.12 158.31,27.75 C159.65,27.38 162.49,27.00 163.70,27.40 C164.91,27.80 164.38,29.14 165.59,30.13 C166.80,31.12 169.37,32.55 170.98,33.35 C172.59,34.16 173.91,34.50 175.25,34.96 C176.59,35.41 177.86,35.53 179.03,36.08 C180.20,36.63 181.36,37.30 182.25,38.25 C183.14,39.20 183.77,40.41 184.35,41.75 C184.93,43.09 185.55,44.49 185.75,46.30 C185.95,48.11 185.83,51.02 185.54,52.60 C185.25,54.18 184.82,55.03 184.00,55.75 C183.18,56.47 181.74,57.09 180.64,56.94 C179.54,56.79 178.40,55.65 177.42,54.84 C176.44,54.04 175.47,53.10 174.76,52.11 C174.05,51.12 173.78,50.06 173.15,48.89 C172.52,47.72 171.70,45.47 170.98,45.11 C170.26,44.75 169.50,45.86 168.81,46.72 C168.12,47.58 167.64,49.33 166.85,50.29 C166.06,51.25 164.97,52.01 164.05,52.46 C163.13,52.91 162.31,53.29 161.32,53.02 C160.33,52.75 159.22,51.85 158.10,50.85 C156.98,49.85 155.65,48.34 154.60,47.00 C153.55,45.66 152.47,44.20 151.80,42.80 C151.14,41.40 150.67,40.12 150.61,38.60 C150.55,37.08 151.02,34.93 151.45,33.70 C151.88,32.48 152.50,31.93 153.20,31.25 C153.90,30.57 154.80,30.22 155.65,29.64 Z" fill="none" stroke="#fff" stroke-width="0.35" opacity="0.13"/>
<path d="M157.70,31.12 C158.43,30.62 158.83,29.82 159.98,29.50 C161.13,29.18 163.56,28.86 164.60,29.20 C165.64,29.54 165.18,30.69 166.22,31.54 C167.26,32.39 169.46,33.61 170.84,34.30 C172.22,34.99 173.35,35.29 174.50,35.68 C175.65,36.07 176.74,36.17 177.74,36.64 C178.74,37.11 179.74,37.69 180.50,38.50 C181.26,39.31 181.80,40.35 182.30,41.50 C182.80,42.65 183.33,43.85 183.50,45.40 C183.67,46.95 183.57,49.45 183.32,50.80 C183.07,52.15 182.70,52.88 182.00,53.50 C181.30,54.12 180.06,54.65 179.12,54.52 C178.18,54.39 177.20,53.41 176.36,52.72 C175.52,52.03 174.69,51.23 174.08,50.38 C173.47,49.53 173.24,48.62 172.70,47.62 C172.16,46.62 171.46,44.69 170.84,44.38 C170.22,44.07 169.57,45.02 168.98,45.76 C168.39,46.50 167.98,48.00 167.30,48.82 C166.62,49.64 165.69,50.29 164.90,50.68 C164.11,51.07 163.41,51.39 162.56,51.16 C161.71,50.93 160.76,50.16 159.80,49.30 C158.84,48.44 157.70,47.15 156.80,46.00 C155.90,44.85 154.97,43.60 154.40,42.40 C153.83,41.20 153.43,40.10 153.38,38.80 C153.33,37.50 153.73,35.65 154.10,34.60 C154.47,33.55 155.00,33.08 155.60,32.50 C156.20,31.92 156.97,31.62 157.70,31.12 Z" fill="none" stroke="#fff" stroke-width="0.35" opacity="0.13"/>
<path d="M159.75,32.60 C160.36,32.18 160.69,31.52 161.65,31.25 C162.61,30.98 164.63,30.72 165.50,31.00 C166.37,31.28 165.98,32.24 166.85,32.95 C167.72,33.66 169.55,34.67 170.70,35.25 C171.85,35.83 172.79,36.07 173.75,36.40 C174.71,36.73 175.62,36.81 176.45,37.20 C177.28,37.59 178.12,38.08 178.75,38.75 C179.38,39.42 179.83,40.29 180.25,41.25 C180.67,42.21 181.11,43.21 181.25,44.50 C181.39,45.79 181.31,47.88 181.10,49.00 C180.89,50.12 180.58,50.73 180.00,51.25 C179.42,51.77 178.38,52.21 177.60,52.10 C176.82,51.99 176.00,51.18 175.30,50.60 C174.60,50.02 173.91,49.36 173.40,48.65 C172.89,47.94 172.70,47.18 172.25,46.35 C171.80,45.52 171.22,43.91 170.70,43.65 C170.18,43.39 169.64,44.18 169.15,44.80 C168.66,45.42 168.32,46.67 167.75,47.35 C167.18,48.03 166.41,48.58 165.75,48.90 C165.09,49.22 164.51,49.49 163.80,49.30 C163.09,49.11 162.30,48.47 161.50,47.75 C160.70,47.03 159.75,45.96 159.00,45.00 C158.25,44.04 157.47,43.00 157.00,42.00 C156.53,41.00 156.19,40.08 156.15,39.00 C156.11,37.92 156.44,36.38 156.75,35.50 C157.06,34.62 157.50,34.23 158.00,33.75 C158.50,33.27 159.14,33.02 159.75,32.60 Z" fill="none" stroke="#fff" stroke-width="0.35" opacity="0.13"/>
<path d="M161.80,34.08 C162.29,33.75 162.55,33.21 163.32,33.00 C164.09,32.79 165.71,32.57 166.40,32.80 C167.09,33.03 166.79,33.79 167.48,34.36 C168.17,34.93 169.64,35.74 170.56,36.20 C171.48,36.66 172.23,36.86 173.00,37.12 C173.77,37.38 174.49,37.45 175.16,37.76 C175.83,38.07 176.49,38.46 177.00,39.00 C177.51,39.54 177.87,40.23 178.20,41.00 C178.53,41.77 178.89,42.57 179.00,43.60 C179.11,44.63 179.05,46.30 178.88,47.20 C178.71,48.10 178.47,48.59 178.00,49.00 C177.53,49.41 176.71,49.77 176.08,49.68 C175.45,49.59 174.80,48.94 174.24,48.48 C173.68,48.02 173.13,47.49 172.72,46.92 C172.31,46.35 172.16,45.75 171.80,45.08 C171.44,44.41 170.97,43.13 170.56,42.92 C170.15,42.71 169.71,43.35 169.32,43.84 C168.93,44.33 168.65,45.33 168.20,45.88 C167.75,46.43 167.13,46.86 166.60,47.12 C166.07,47.38 165.61,47.59 165.04,47.44 C164.47,47.29 163.84,46.77 163.20,46.20 C162.56,45.63 161.80,44.77 161.20,44.00 C160.60,43.23 159.98,42.40 159.60,41.60 C159.22,40.80 158.95,40.07 158.92,39.20 C158.89,38.33 159.15,37.10 159.40,36.40 C159.65,35.70 160.00,35.39 160.40,35.00 C160.80,34.61 161.31,34.41 161.80,34.08 Z" fill="none" stroke="#fff" stroke-width="0.35" opacity="0.13"/>
<path d="M163.85,35.56 C164.22,35.31 164.42,34.91 164.99,34.75 C165.56,34.59 166.78,34.43 167.30,34.60 C167.82,34.77 167.59,35.34 168.11,35.77 C168.63,36.19 169.73,36.80 170.42,37.15 C171.11,37.49 171.68,37.64 172.25,37.84 C172.82,38.03 173.37,38.09 173.87,38.32 C174.37,38.55 174.87,38.84 175.25,39.25 C175.63,39.66 175.90,40.17 176.15,40.75 C176.40,41.33 176.66,41.93 176.75,42.70 C176.84,43.48 176.78,44.73 176.66,45.40 C176.53,46.07 176.35,46.44 176.00,46.75 C175.65,47.06 175.03,47.33 174.56,47.26 C174.09,47.20 173.60,46.70 173.18,46.36 C172.76,46.02 172.34,45.61 172.04,45.19 C171.73,44.77 171.62,44.31 171.35,43.81 C171.08,43.31 170.73,42.34 170.42,42.19 C170.11,42.03 169.79,42.51 169.49,42.88 C169.19,43.25 168.99,44.00 168.65,44.41 C168.31,44.82 167.84,45.15 167.45,45.34 C167.05,45.54 166.70,45.70 166.28,45.58 C165.86,45.46 165.38,45.08 164.90,44.65 C164.42,44.22 163.85,43.58 163.40,43.00 C162.95,42.42 162.48,41.80 162.20,41.20 C161.91,40.60 161.72,40.05 161.69,39.40 C161.66,38.75 161.87,37.82 162.05,37.30 C162.24,36.77 162.50,36.54 162.80,36.25 C163.10,35.96 163.48,35.81 163.85,35.56 Z" fill="none" stroke="#fff" stroke-width="0.35" opacity="0.13"/>
<path d="M147,32 C148,38 150,44 153,50" fill="none" stroke="#4a3aa8" stroke-width="0.55" opacity="0.75"/>
<path d="M150,30 C152,36 154,42 158,47" fill="none" stroke="#4a3aa8" stroke-width="0.55" opacity="0.75"/>
<path d="M166,36 C172,38 178,42 184,46" fill="none" stroke="#4a3aa8" stroke-width="0.55" opacity="0.75"/>
<path d="M180,44 C182,48 184,52 186,54" fill="none" stroke="#4a3aa8" stroke-width="0.55" opacity="0.75"/>
<path d="M152,27 C155,33 157,40 161,46" fill="none" stroke="#4a3aa8" stroke-width="0.55" opacity="0.75"/>
<path d="M156,28 C160,33 163,38 166,42" fill="none" stroke="#4a3aa8" stroke-width="0.55" opacity="0.75"/>
<path d="M149,40 C151,46 154,52 158,56" fill="none" stroke="#4a3aa8" stroke-width="0.55" opacity="0.75"/>
<path d="M170,40 C174,43 178,45 182,48" fill="none" stroke="#4a3aa8" stroke-width="0.55" opacity="0.75"/>
<path d="M164,36 C168,37 172,39 176,41" fill="none" stroke="#fff" stroke-width="1.0" opacity="0.8"/>
<ellipse cx="167" cy="36" rx="1.83" ry="0.58" transform="rotate(22 167 36)" fill="none" stroke="#fff" stroke-width="0.5" opacity="0.4"/>
<ellipse cx="167" cy="36" rx="3.67" ry="1.17" transform="rotate(22 167 36)" fill="none" stroke="#fff" stroke-width="0.5" opacity="0.4"/>
<ellipse cx="167" cy="36" rx="5.50" ry="1.75" transform="rotate(22 167 36)" fill="none" stroke="#fff" stroke-width="0.5" opacity="0.4"/>
<ellipse cx="167" cy="36" rx="7.33" ry="2.33" transform="rotate(22 167 36)" fill="none" stroke="#fff" stroke-width="0.5" opacity="0.4"/>
<ellipse cx="167" cy="36" rx="9.17" ry="2.92" transform="rotate(22 167 36)" fill="none" stroke="#fff" stroke-width="0.5" opacity="0.4"/>
<ellipse cx="167" cy="36" rx="11.00" ry="3.50" transform="rotate(22 167 36)" fill="none" stroke="#fff" stroke-width="0.5" opacity="0.4"/>
<ellipse cx="182" cy="49" rx="1.00" ry="1.50" transform="rotate(-20 182 49)" fill="none" stroke="#fff" stroke-width="0.5" opacity="0.4"/>
<ellipse cx="182" cy="49" rx="2.00" ry="3.00" transform="rotate(-20 182 49)" fill="none" stroke="#fff" stroke-width="0.5" opacity="0.4"/>
<ellipse cx="182" cy="49" rx="3.00" ry="4.50" transform="rotate(-20 182 49)" fill="none" stroke="#fff" stroke-width="0.5" opacity="0.4"/>
<ellipse cx="182" cy="49" rx="4.00" ry="6.00" transform="rotate(-20 182 49)" fill="none" stroke="#fff" stroke-width="0.5" opacity="0.4"/>
<ellipse cx="151" cy="40" rx="0.75" ry="2.25" transform="rotate(-15 151 40)" fill="none" stroke="#4050b0" stroke-width="0.5" opacity="0.6"/>
<ellipse cx="151" cy="40" rx="1.50" ry="4.50" transform="rotate(-15 151 40)" fill="none" stroke="#4050b0" stroke-width="0.5" opacity="0.6"/>
<ellipse cx="151" cy="40" rx="2.25" ry="6.75" transform="rotate(-15 151 40)" fill="none" stroke="#4050b0" stroke-width="0.5" opacity="0.6"/>
<ellipse cx="151" cy="40" rx="3.00" ry="9.00" transform="rotate(-15 151 40)" fill="none" stroke="#4050b0" stroke-width="0.5" opacity="0.6"/>
<ellipse cx="152" cy="57" rx="1.00" ry="0.80" transform="rotate(-30 152 57)" fill="none" stroke="#e0d0ee" stroke-width="0.5" opacity="0.55"/>
<ellipse cx="152" cy="57" rx="2.00" ry="1.60" transform="rotate(-30 152 57)" fill="none" stroke="#e0d0ee" stroke-width="0.5" opacity="0.55"/>
<ellipse cx="152" cy="57" rx="3.00" ry="2.40" transform="rotate(-30 152 57)" fill="none" stroke="#e0d0ee" stroke-width="0.5" opacity="0.55"/>
<ellipse cx="152" cy="57" rx="4.00" ry="3.20" transform="rotate(-30 152 57)" fill="none" stroke="#e0d0ee" stroke-width="0.5" opacity="0.55"/>
<ellipse cx="152" cy="57" rx="5.00" ry="4.00" transform="rotate(-30 152 57)" fill="none" stroke="#e0d0ee" stroke-width="0.5" opacity="0.55"/>
<ellipse cx="178" cy="52" rx="1.00" ry="1.33" transform="rotate(0 178 52)" fill="none" stroke="#4050b0" stroke-width="0.5" opacity="0.5"/>
<ellipse cx="178" cy="52" rx="2.00" ry="2.67" transform="rotate(0 178 52)" fill="none" stroke="#4050b0" stroke-width="0.5" opacity="0.5"/>
<ellipse cx="178" cy="52" rx="3.00" ry="4.00" transform="rotate(0 178 52)" fill="none" stroke="#4050b0" stroke-width="0.5" opacity="0.5"/>
<path d="M124.78,49.98 C124.89,49.57 124.96,49.27 125.03,48.82 C125.10,48.36 125.10,48.18 125.13,47.70 C125.16,47.23 125.11,46.97 125.19,46.44 C125.26,45.92 125.31,45.56 125.50,45.06 C125.70,44.56 125.81,44.33 126.17,43.93 C126.53,43.53 126.79,43.35 127.29,43.06 C127.79,42.78 128.12,42.70 128.66,42.51 C129.21,42.32 129.52,42.28 130.02,42.13 C130.51,41.97 130.61,41.93 131.14,41.72 C131.66,41.51 132.06,41.29 132.64,41.08 C133.23,40.88 133.49,40.74 134.07,40.70 C134.65,40.66 135.07,40.73 135.56,40.87 C136.04,41.02 136.12,41.11 136.50,41.43 C136.87,41.74 137.07,42.00 137.44,42.44 C137.81,42.88 137.99,43.18 138.35,43.63 C138.71,44.07 138.88,44.30 139.24,44.66 C139.61,45.02 139.81,45.17 140.17,45.42 C140.52,45.67 140.67,45.68 141.02,45.92 C141.36,46.17 141.56,46.28 141.90,46.65 C142.24,47.02 142.41,47.26 142.71,47.76 C143.01,48.26 143.14,48.59 143.39,49.15 C143.64,49.71 143.73,50.04 143.97,50.55 C144.20,51.05 144.28,51.24 144.56,51.68 C144.85,52.11 145.04,52.32 145.39,52.72 C145.73,53.12 145.94,53.27 146.28,53.69 C146.62,54.10 146.82,54.31 147.09,54.79 C147.36,55.27 147.47,55.56 147.64,56.10 C147.81,56.64 147.82,56.95 147.93,57.49 C148.04,58.03 148.04,58.30 148.19,58.80 C148.34,59.29 148.43,59.52 148.69,59.97 C148.95,60.42 149.15,60.62 149.48,61.04 C149.82,61.46 150.07,61.67 150.38,62.07 C150.69,62.46 150.83,62.47 151.03,63.02 C151.23,63.56 151.38,64.20 151.38,64.80 C151.38,65.40 151.22,65.65 151.03,66.01 C150.84,66.37 150.70,66.29 150.45,66.60 C150.20,66.90 149.98,67.12 149.79,67.53 C149.60,67.94 149.61,68.12 149.49,68.63 C149.36,69.15 149.32,69.49 149.16,70.12 C149.01,70.75 148.91,71.13 148.71,71.78 C148.50,72.43 148.34,72.86 148.16,73.37 C147.97,73.87 147.90,73.92 147.77,74.32 C147.64,74.72 147.57,74.90 147.51,75.38 C147.45,75.85 147.45,76.11 147.47,76.68 C147.49,77.26 147.56,77.61 147.62,78.25 C147.67,78.88 147.74,79.27 147.76,79.86 C147.78,80.45 147.86,80.59 147.70,81.18 C147.54,81.77 147.33,82.29 146.96,82.80 C146.60,83.31 146.33,83.43 145.88,83.73 C145.42,84.02 145.17,84.07 144.70,84.28 C144.22,84.50 143.99,84.60 143.50,84.80 C143.02,85.01 142.76,85.16 142.26,85.32 C141.77,85.47 141.46,85.55 141.02,85.57 C140.58,85.59 140.46,85.59 140.06,85.42 C139.66,85.24 139.44,85.09 139.03,84.70 C138.63,84.31 138.42,84.01 138.05,83.46 C137.69,82.92 137.47,82.48 137.21,81.97 C136.95,81.46 136.93,81.30 136.76,80.90 C136.59,80.50 136.52,80.33 136.37,79.98 C136.21,79.62 136.14,79.49 135.98,79.11 C135.83,78.73 135.75,78.55 135.59,78.10 C135.44,77.64 135.36,77.36 135.20,76.82 C135.04,76.29 135.02,76.04 134.79,75.43 C134.56,74.82 134.38,74.36 134.05,73.79 C133.73,73.23 133.56,73.01 133.17,72.60 C132.78,72.20 132.55,72.10 132.10,71.76 C131.64,71.43 131.33,71.26 130.89,70.93 C130.45,70.60 130.26,70.49 129.90,70.11 C129.54,69.73 129.37,69.50 129.10,69.03 C128.83,68.56 128.75,68.28 128.56,67.78 C128.38,67.28 128.34,67.01 128.15,66.51 C127.96,66.01 127.87,65.74 127.63,65.28 C127.39,64.82 127.25,64.67 126.96,64.22 C126.67,63.76 126.45,63.52 126.17,63.01 C125.89,62.50 125.73,62.21 125.56,61.66 C125.39,61.12 125.35,60.82 125.32,60.29 C125.28,59.75 125.35,59.50 125.39,59.00 C125.43,58.51 125.50,58.30 125.51,57.82 C125.52,57.33 125.51,57.11 125.43,56.58 C125.34,56.04 125.24,55.74 125.10,55.14 C124.95,54.54 124.82,54.18 124.69,53.57 C124.56,52.96 124.48,52.63 124.45,52.09 C124.41,51.55 124.43,51.29 124.50,50.87 C124.57,50.45 124.67,50.39 124.78,49.98 Z" fill="#3db54a" />
<path d="M128.11,52.33 C128.16,50.74 127.93,49.77 128.73,48.65 C129.52,47.54 131.59,46.16 132.87,45.66 C134.14,45.16 135.22,45.16 136.39,45.66 C137.57,46.16 138.74,47.38 139.92,48.65 C141.10,49.93 142.46,51.76 143.45,53.33 C144.43,54.90 145.08,56.59 145.82,58.08 C146.56,59.58 147.50,61.21 147.89,62.30 C148.29,63.39 148.25,64.00 148.20,64.60 C148.15,65.20 147.98,65.00 147.59,65.90 C147.19,66.81 146.17,68.37 145.82,70.04 C145.48,71.72 145.91,74.48 145.52,75.95 C145.12,77.42 144.28,78.27 143.45,78.86 C142.62,79.45 141.50,79.77 140.53,79.47 C139.56,79.18 138.41,78.37 137.62,77.10 C136.83,75.82 136.57,73.28 135.78,71.81 C134.99,70.34 133.84,69.56 132.87,68.28 C131.90,67.00 130.69,65.81 129.95,64.14 C129.21,62.47 128.73,60.20 128.42,58.24 C128.11,56.27 128.06,53.93 128.11,52.33 Z" fill="none" stroke="#fff" stroke-width="0.35" opacity="0.13"/>
<path d="M129.77,53.50 C129.81,52.15 129.62,51.32 130.29,50.38 C130.96,49.44 132.72,48.27 133.80,47.84 C134.88,47.42 135.79,47.42 136.79,47.84 C137.79,48.27 138.78,49.30 139.78,50.38 C140.78,51.46 141.94,53.01 142.77,54.34 C143.60,55.68 144.16,57.11 144.78,58.38 C145.41,59.64 146.20,61.03 146.54,61.95 C146.88,62.87 146.84,63.39 146.80,63.90 C146.76,64.41 146.62,64.24 146.28,65.00 C145.94,65.77 145.08,67.10 144.78,68.52 C144.49,69.93 144.86,72.27 144.53,73.52 C144.19,74.77 143.47,75.49 142.77,75.99 C142.07,76.49 141.12,76.76 140.30,76.51 C139.48,76.26 138.50,75.58 137.83,74.50 C137.16,73.41 136.94,71.26 136.27,70.01 C135.60,68.76 134.62,68.10 133.80,67.02 C132.98,65.94 131.96,64.93 131.33,63.51 C130.70,62.09 130.29,60.17 130.03,58.51 C129.77,56.84 129.73,54.85 129.77,53.50 Z" fill="none" stroke="#fff" stroke-width="0.35" opacity="0.13"/>
<path d="M131.43,54.67 C131.46,53.56 131.30,52.88 131.85,52.11 C132.40,51.33 133.84,50.37 134.73,50.03 C135.62,49.68 136.37,49.68 137.19,50.03 C138.00,50.37 138.82,51.22 139.64,52.11 C140.46,53.00 141.41,54.27 142.09,55.36 C142.78,56.45 143.23,57.63 143.75,58.67 C144.26,59.71 144.91,60.84 145.19,61.60 C145.46,62.36 145.44,62.78 145.40,63.20 C145.36,63.62 145.25,63.48 144.97,64.11 C144.70,64.74 143.99,65.82 143.75,66.99 C143.51,68.15 143.81,70.07 143.53,71.09 C143.26,72.12 142.67,72.71 142.09,73.12 C141.52,73.53 140.74,73.75 140.07,73.55 C139.39,73.34 138.59,72.78 138.04,71.89 C137.49,71.00 137.31,69.24 136.76,68.21 C136.21,67.19 135.41,66.65 134.73,65.76 C134.06,64.87 133.22,64.04 132.71,62.88 C132.19,61.72 131.85,60.14 131.64,58.77 C131.43,57.40 131.39,55.78 131.43,54.67 Z" fill="none" stroke="#fff" stroke-width="0.35" opacity="0.13"/>
<path d="M133.08,55.83 C133.11,54.97 132.99,54.44 133.42,53.83 C133.85,53.23 134.97,52.48 135.67,52.21 C136.36,51.94 136.94,51.94 137.58,52.21 C138.22,52.48 138.86,53.14 139.50,53.83 C140.14,54.53 140.88,55.52 141.42,56.38 C141.95,57.23 142.31,58.15 142.71,58.96 C143.11,59.77 143.62,60.66 143.83,61.25 C144.05,61.84 144.03,62.17 144.00,62.50 C143.97,62.83 143.88,62.72 143.67,63.21 C143.45,63.70 142.90,64.55 142.71,65.46 C142.52,66.37 142.76,67.87 142.54,68.67 C142.33,69.47 141.87,69.93 141.42,70.25 C140.97,70.57 140.36,70.74 139.83,70.58 C139.31,70.42 138.68,69.99 138.25,69.29 C137.82,68.60 137.68,67.22 137.25,66.42 C136.82,65.62 136.19,65.19 135.67,64.50 C135.14,63.81 134.49,63.16 134.08,62.25 C133.68,61.34 133.42,60.11 133.25,59.04 C133.08,57.97 133.06,56.70 133.08,55.83 Z" fill="none" stroke="#fff" stroke-width="0.35" opacity="0.13"/>
<path d="M134.74,57.00 C134.76,56.38 134.67,56.00 134.98,55.56 C135.29,55.12 136.10,54.58 136.60,54.39 C137.10,54.19 137.52,54.19 137.98,54.39 C138.44,54.58 138.90,55.06 139.36,55.56 C139.82,56.06 140.36,56.77 140.74,57.39 C141.12,58.01 141.38,58.66 141.67,59.25 C141.96,59.84 142.32,60.47 142.48,60.90 C142.63,61.33 142.62,61.57 142.60,61.80 C142.58,62.04 142.51,61.96 142.36,62.31 C142.20,62.66 141.81,63.27 141.67,63.93 C141.54,64.59 141.71,65.67 141.55,66.24 C141.40,66.82 141.06,67.15 140.74,67.38 C140.42,67.61 139.98,67.73 139.60,67.62 C139.22,67.51 138.77,67.19 138.46,66.69 C138.15,66.19 138.05,65.20 137.74,64.62 C137.43,64.05 136.98,63.74 136.60,63.24 C136.22,62.74 135.75,62.28 135.46,61.62 C135.17,60.97 134.98,60.08 134.86,59.31 C134.74,58.54 134.72,57.62 134.74,57.00 Z" fill="none" stroke="#fff" stroke-width="0.35" opacity="0.13"/>
<ellipse cx="139" cy="63" rx="0.75" ry="2.50" transform="rotate(-25 139 63)" fill="none" stroke="#fff" stroke-width="0.5" opacity="0.45"/>
<ellipse cx="139" cy="63" rx="1.50" ry="5.00" transform="rotate(-25 139 63)" fill="none" stroke="#fff" stroke-width="0.5" opacity="0.45"/>
<ellipse cx="139" cy="63" rx="2.25" ry="7.50" transform="rotate(-25 139 63)" fill="none" stroke="#fff" stroke-width="0.5" opacity="0.45"/>
<ellipse cx="139" cy="63" rx="3.00" ry="10.00" transform="rotate(-25 139 63)" fill="none" stroke="#fff" stroke-width="0.5" opacity="0.45"/>
<ellipse cx="133" cy="50" rx="1.33" ry="1.33" transform="rotate(0 133 50)" fill="none" stroke="#6a5aa8" stroke-width="0.5" opacity="0.5"/>
<ellipse cx="133" cy="50" rx="2.67" ry="2.67" transform="rotate(0 133 50)" fill="none" stroke="#6a5aa8" stroke-width="0.5" opacity="0.5"/>
<ellipse cx="133" cy="50" rx="4.00" ry="4.00" transform="rotate(0 133 50)" fill="none" stroke="#6a5aa8" stroke-width="0.5" opacity="0.5"/>
<path d="M133,60 L137,64 M138,67 L140.5,73.5 L142,79" fill="none" stroke="#fff" stroke-width="0.9" opacity="0.8"/>
<path d="M132.5,59.5 L135,62" fill="none" stroke="#5a3a9a" stroke-width="0.8" />
<circle cx="129.1" cy="80.8" r="6.2" fill="#16528e"/>
<circle cx="128.79999999999998" cy="81.0" r="3.844" fill="none" stroke="#7fbf8f" stroke-width="0.6" opacity="0.8"/>
<circle cx="128.79999999999998" cy="81.2" r="2.17" fill="#8fcf8f"/>
<circle cx="128.79999999999998" cy="81.2" r="0.9299999999999999" fill="#e8f8e8"/>
<circle cx="187.9" cy="58.1" r="3.8" fill="#c8102e"/>
<circle cx="187.9" cy="58.1" r="3.3" fill="none" stroke="#3db54a" stroke-width="0.7"/>
<circle cx="187.9" cy="58.1" r="2.2" fill="none" stroke="#3db54a" stroke-width="0.5"/>
<path d="M186,64.3 C188,65.5 191,65 192,63" fill="none" stroke="#3a8fd0" stroke-width="0.7" />
<text x="25.60" y="60.50" font-size="8.2" text-anchor="middle" fill="#111" stroke="#111" stroke-width="0.18" textLength="31.00" lengthAdjust="spacingAndGlyphs" transform="rotate(-90 25.60 60.50)" >UMAP-Y</text>
<line x1="22.50" y1="92.50" x2="22.50" y2="82.50" stroke="#111" stroke-width="1.3" />
<path d="M22.50,79.50 L19.60,84.70 L25.40,84.70 Z" fill="#111" />
<line x1="29.00" y1="103.00" x2="41.50" y2="103.00" stroke="#111" stroke-width="1.3" />
<path d="M44.50,103.00 L39.30,100.10 L39.30,105.90 Z" fill="#111" />
<text x="47.70" y="105.80" font-size="7.6" fill="#111" stroke="#111" stroke-width="0.18" textLength="27.00" lengthAdjust="spacingAndGlyphs" >UMAP-X</text>
<line x1="60.00" y1="111.50" x2="66.80" y2="111.50" stroke="#c8102e" stroke-width="1.1" />
<text x="69.20" y="114.40" font-size="7.8" fill="#111" stroke="#111" stroke-width="0.18" textLength="16.20" lengthAdjust="spacingAndGlyphs" >BMN</text>
<line x1="92.30" y1="111.50" x2="99.10" y2="111.50" stroke="#16528e" stroke-width="1.1" />
<text x="101.50" y="114.40" font-size="7.8" fill="#111" stroke="#111" stroke-width="0.18" textLength="9.00" lengthAdjust="spacingAndGlyphs" >BN</text>
<line x1="117.80" y1="111.50" x2="124.60" y2="111.50" stroke="#3db54a" stroke-width="1.1" />
<text x="127.00" y="114.40" font-size="7.8" fill="#111" stroke="#111" stroke-width="0.18" textLength="8.00" lengthAdjust="spacingAndGlyphs" >LN</text>
<line x1="143.00" y1="111.50" x2="149.80" y2="111.50" stroke="#5a1f7c" stroke-width="1.1" />
<text x="152.20" y="114.40" font-size="7.8" fill="#111" stroke="#111" stroke-width="0.18" textLength="14.50" lengthAdjust="spacingAndGlyphs" >SPN</text>
<text x="247.40" y="15.30" font-size="10.5" fill="#000" font-weight="bold" >B</text>
<rect x="262.10" y="46.20" width="7.89" height="9.95" fill="#8088c8" stroke="#999" stroke-width="0.4" />
<rect x="269.99" y="46.20" width="7.89" height="9.95" fill="#fbfbfb" stroke="#999" stroke-width="0.4" />
<rect x="277.88" y="46.20" width="7.89" height="9.95" fill="#d23030" stroke="#999" stroke-width="0.4" />
<rect x="285.76" y="46.20" width="7.89" height="9.95" fill="#000090" stroke="#999" stroke-width="0.4" />
<rect x="293.65" y="46.20" width="7.89" height="9.95" fill="#9da0d0" stroke="#999" stroke-width="0.4" />
<rect x="301.54" y="46.20" width="7.89" height="9.95" fill="#f0b0b0" stroke="#999" stroke-width="0.4" />
<rect x="309.43" y="46.20" width="7.89" height="9.95" fill="#8a90cc" stroke="#999" stroke-width="0.4" />
<rect x="317.31" y="46.20" width="7.89" height="9.95" fill="#7078c0" stroke="#999" stroke-width="0.4" />
<rect x="262.10" y="56.15" width="7.89" height="9.95" fill="#9aa0d0" stroke="#999" stroke-width="0.4" />
<rect x="269.99" y="56.15" width="7.89" height="9.95" fill="#2030a0" stroke="#999" stroke-width="0.4" />
<rect x="277.88" y="56.15" width="7.89" height="9.95" fill="#a8acd8" stroke="#999" stroke-width="0.4" />
<rect x="285.76" y="56.15" width="7.89" height="9.95" fill="#f5d0d0" stroke="#999" stroke-width="0.4" />
<rect x="293.65" y="56.15" width="7.89" height="9.95" fill="#8088c8" stroke="#999" stroke-width="0.4" />
<rect x="301.54" y="56.15" width="7.89" height="9.95" fill="#000090" stroke="#999" stroke-width="0.4" />
<rect x="309.43" y="56.15" width="7.89" height="9.95" fill="#e05050" stroke="#999" stroke-width="0.4" />
<rect x="317.31" y="56.15" width="7.89" height="9.95" fill="#8890cc" stroke="#999" stroke-width="0.4" />
<rect x="262.10" y="66.10" width="7.89" height="9.95" fill="#d82828" stroke="#999" stroke-width="0.4" />
<rect x="269.99" y="66.10" width="7.89" height="9.95" fill="#e07070" stroke="#999" stroke-width="0.4" />
<rect x="277.88" y="66.10" width="7.89" height="9.95" fill="#5060b8" stroke="#999" stroke-width="0.4" />
<rect x="285.76" y="66.10" width="7.89" height="9.95" fill="#f0c0c0" stroke="#999" stroke-width="0.4" />
<rect x="293.65" y="66.10" width="7.89" height="9.95" fill="#d83030" stroke="#999" stroke-width="0.4" />
<rect x="301.54" y="66.10" width="7.89" height="9.95" fill="#f0b8b8" stroke="#999" stroke-width="0.4" />
<rect x="309.43" y="66.10" width="7.89" height="9.95" fill="#fdf0f0" stroke="#999" stroke-width="0.4" />
<rect x="317.31" y="66.10" width="7.89" height="9.95" fill="#d83030" stroke="#999" stroke-width="0.4" />
<rect x="262.10" y="76.05" width="7.89" height="9.95" fill="#d8dcf0" stroke="#999" stroke-width="0.4" />
<rect x="269.99" y="76.05" width="7.89" height="9.95" fill="#fae0e0" stroke="#999" stroke-width="0.4" />
<rect x="277.88" y="76.05" width="7.89" height="9.95" fill="#ececf5" stroke="#999" stroke-width="0.4" />
<rect x="285.76" y="76.05" width="7.89" height="9.95" fill="#eba0a0" stroke="#999" stroke-width="0.4" />
<rect x="293.65" y="76.05" width="7.89" height="9.95" fill="#c8cce8" stroke="#999" stroke-width="0.4" />
<rect x="301.54" y="76.05" width="7.89" height="9.95" fill="#f0b0b0" stroke="#999" stroke-width="0.4" />
<rect x="309.43" y="76.05" width="7.89" height="9.95" fill="#8a90cc" stroke="#999" stroke-width="0.4" />
<rect x="317.31" y="76.05" width="7.89" height="9.95" fill="#f8f8fa" stroke="#999" stroke-width="0.4" />
<text x="268.14" y="43.80" font-size="7.6" fill="#111" stroke="#111" stroke-width="0.18" transform="rotate(-90 268.14 43.80)" >CD11b</text>
<text x="276.03" y="43.80" font-size="7.6" fill="#111" stroke="#111" stroke-width="0.18" transform="rotate(-90 276.03 43.80)" >CD14</text>
<text x="283.92" y="43.80" font-size="7.6" fill="#111" stroke="#111" stroke-width="0.18" transform="rotate(-90 283.92 43.80)" >CD62L</text>
<text x="291.81" y="43.80" font-size="7.6" fill="#111" stroke="#111" stroke-width="0.18" transform="rotate(-90 291.81 43.80)" >CD101</text>
<text x="299.69" y="43.80" font-size="7.6" fill="#111" stroke="#111" stroke-width="0.18" transform="rotate(-90 299.69 43.80)" >CXCR4</text>
<text x="307.58" y="43.80" font-size="7.6" fill="#111" stroke="#111" stroke-width="0.18" transform="rotate(-90 307.58 43.80)" >MHC II</text>
<text x="315.47" y="43.80" font-size="7.6" fill="#111" stroke="#111" stroke-width="0.18" transform="rotate(-90 315.47 43.80)" >Plet1</text>
<text x="323.36" y="43.80" font-size="7.6" fill="#111" stroke="#111" stroke-width="0.18" transform="rotate(-90 323.36 43.80)" >Sca1</text>
<rect x="340.20" y="46.20" width="7.98" height="9.95" fill="#8088c8" stroke="#999" stroke-width="0.4" />
<rect x="348.18" y="46.20" width="7.98" height="9.95" fill="#b0b4e0" stroke="#999" stroke-width="0.4" />
<rect x="356.15" y="46.20" width="7.98" height="9.95" fill="#d83030" stroke="#999" stroke-width="0.4" />
<rect x="364.12" y="46.20" width="7.98" height="9.95" fill="#5058b8" stroke="#999" stroke-width="0.4" />
<rect x="372.10" y="46.20" width="7.98" height="9.95" fill="#d84848" stroke="#999" stroke-width="0.4" />
<rect x="380.07" y="46.20" width="7.98" height="9.95" fill="#f8d8d8" stroke="#999" stroke-width="0.4" />
<rect x="388.05" y="46.20" width="7.98" height="9.95" fill="#7078c0" stroke="#999" stroke-width="0.4" />
<rect x="396.02" y="46.20" width="7.98" height="9.95" fill="#a0a4d4" stroke="#999" stroke-width="0.4" />
<rect x="340.20" y="56.15" width="7.98" height="9.95" fill="#8890cc" stroke="#999" stroke-width="0.4" />
<rect x="348.18" y="56.15" width="7.98" height="9.95" fill="#c0c4e4" stroke="#999" stroke-width="0.4" />
<rect x="356.15" y="56.15" width="7.98" height="9.95" fill="#b0b4dc" stroke="#999" stroke-width="0.4" />
<rect x="364.12" y="56.15" width="7.98" height="9.95" fill="#f0b8b8" stroke="#999" stroke-width="0.4" />
<rect x="372.10" y="56.15" width="7.98" height="9.95" fill="#6068b8" stroke="#999" stroke-width="0.4" />
<rect x="380.07" y="56.15" width="7.98" height="9.95" fill="#000090" stroke="#999" stroke-width="0.4" />
<rect x="388.05" y="56.15" width="7.98" height="9.95" fill="#e06868" stroke="#999" stroke-width="0.4" />
<rect x="396.02" y="56.15" width="7.98" height="9.95" fill="#a0a4d4" stroke="#999" stroke-width="0.4" />
<rect x="340.20" y="66.10" width="7.98" height="9.95" fill="#d82828" stroke="#999" stroke-width="0.4" />
<rect x="348.18" y="66.10" width="7.98" height="9.95" fill="#e04040" stroke="#999" stroke-width="0.4" />
<rect x="356.15" y="66.10" width="7.98" height="9.95" fill="#4048b0" stroke="#999" stroke-width="0.4" />
<rect x="364.12" y="66.10" width="7.98" height="9.95" fill="#e07070" stroke="#999" stroke-width="0.4" />
<rect x="372.10" y="66.10" width="7.98" height="9.95" fill="#fae0e0" stroke="#999" stroke-width="0.4" />
<rect x="380.07" y="66.10" width="7.98" height="9.95" fill="#eea8a8" stroke="#999" stroke-width="0.4" />
<rect x="388.05" y="66.10" width="7.98" height="9.95" fill="#f0c0c0" stroke="#999" stroke-width="0.4" />
<rect x="396.02" y="66.10" width="7.98" height="9.95" fill="#d83030" stroke="#999" stroke-width="0.4" />
<rect x="340.20" y="76.05" width="7.98" height="9.95" fill="#a8acd8" stroke="#999" stroke-width="0.4" />
<rect x="348.18" y="76.05" width="7.98" height="9.95" fill="#6870c0" stroke="#999" stroke-width="0.4" />
<rect x="356.15" y="76.05" width="7.98" height="9.95" fill="#f4f4f8" stroke="#999" stroke-width="0.4" />
<rect x="364.12" y="76.05" width="7.98" height="9.95" fill="#8890cc" stroke="#999" stroke-width="0.4" />
<rect x="372.10" y="76.05" width="7.98" height="9.95" fill="#8088c8" stroke="#999" stroke-width="0.4" />
<rect x="380.07" y="76.05" width="7.98" height="9.95" fill="#f5d0d0" stroke="#999" stroke-width="0.4" />
<rect x="388.05" y="76.05" width="7.98" height="9.95" fill="#5860b8" stroke="#999" stroke-width="0.4" />
<rect x="396.02" y="76.05" width="7.98" height="9.95" fill="#b0b4e0" stroke="#999" stroke-width="0.4" />
<text x="346.29" y="43.80" font-size="7.6" fill="#111" stroke="#111" stroke-width="0.18" transform="rotate(-90 346.29 43.80)" >CD11b</text>
<text x="354.26" y="43.80" font-size="7.6" fill="#111" stroke="#111" stroke-width="0.18" transform="rotate(-90 354.26 43.80)" >CD14</text>
<text x="362.24" y="43.80" font-size="7.6" fill="#111" stroke="#111" stroke-width="0.18" transform="rotate(-90 362.24 43.80)" >CD62L</text>
<text x="370.21" y="43.80" font-size="7.6" fill="#111" stroke="#111" stroke-width="0.18" transform="rotate(-90 370.21 43.80)" >CD101</text>
<text x="378.19" y="43.80" font-size="7.6" fill="#111" stroke="#111" stroke-width="0.18" transform="rotate(-90 378.19 43.80)" >CXCR4</text>
<text x="386.16" y="43.80" font-size="7.6" fill="#111" stroke="#111" stroke-width="0.18" transform="rotate(-90 386.16 43.80)" >MHC II</text>
<text x="394.14" y="43.80" font-size="7.6" fill="#111" stroke="#111" stroke-width="0.18" transform="rotate(-90 394.14 43.80)" >Plet1</text>
<text x="402.11" y="43.80" font-size="7.6" fill="#111" stroke="#111" stroke-width="0.18" transform="rotate(-90 402.11 43.80)" >Sca1</text>
<text x="258.90" y="68.80" font-size="7.6" text-anchor="middle" fill="#111" stroke="#111" stroke-width="0.18" transform="rotate(-90 258.90 68.80)" >eF670<tspan font-size="4.5" dy="-3">−</tspan></text>
<text x="338.20" y="66.00" font-size="7.6" text-anchor="middle" fill="#111" stroke="#111" stroke-width="0.18" transform="rotate(-90 338.20 66.00)" >eF670<tspan font-size="4.5" dy="-3">+</tspan></text>
<text x="406.80" y="53.90" font-size="7.6" fill="#111" stroke="#111" stroke-width="0.18" >BMN</text>
<text x="406.80" y="63.90" font-size="7.6" fill="#111" stroke="#111" stroke-width="0.18" >BN</text>
<text x="406.80" y="73.70" font-size="7.6" fill="#111" stroke="#111" stroke-width="0.18" >LN</text>
<text x="406.80" y="83.30" font-size="7.6" fill="#111" stroke="#111" stroke-width="0.18" >SPN</text>
<defs><linearGradient id="gB" x1="0" y1="0" x2="0" y2="1"><stop offset="0" stop-color="#d01020"/><stop offset="0.5" stop-color="#ffffff"/><stop offset="1" stop-color="#000088"/></linearGradient></defs>
<rect x="433.00" y="49.70" width="6.70" height="33.30" fill="url(#gB)" />
<text x="442.30" y="52.60" font-size="7.2" fill="#111" stroke="#111" stroke-width="0.18" >High</text>
<text x="442.30" y="68.40" font-size="7.2" fill="#111" stroke="#111" stroke-width="0.18" >Z</text>
<text x="442.30" y="83.20" font-size="7.2" fill="#111" stroke="#111" stroke-width="0.18" >Low</text>
<text x="7.60" y="131.60" font-size="10.5" fill="#000" font-weight="bold" >C</text>
<text x="50.30" y="137.60" font-size="9.2" text-anchor="middle" fill="#111" stroke="#111" stroke-width="0.18" >BMN</text>
<line x1="20.40" y1="140.40" x2="80.00" y2="140.40" stroke="#333" stroke-width="0.8" />
<line x1="15.20" y1="149.60" x2="22.10" y2="149.60" stroke="#c8102e" stroke-width="1.1" />
<text x="26.00" y="152.20" font-size="7.4" fill="#111" stroke="#111" stroke-width="0.18" textLength="23.30" lengthAdjust="spacingAndGlyphs" >Vehicle</text>
<line x1="55.40" y1="149.60" x2="62.30" y2="149.60" stroke="#3db54a" stroke-width="1.1" />
<text x="65.40" y="152.20" font-size="7.4" fill="#111" stroke="#111" stroke-width="0.18" textLength="15.90" lengthAdjust="spacingAndGlyphs" >BALF</text>
<rect x="20.80" y="154.40" width="59.30" height="60.40" fill="#fff" stroke="#111" stroke-width="1.3" />
<line x1="18.60" y1="155.90" x2="20.80" y2="155.90" stroke="#333" stroke-width="0.55" />
<line x1="18.60" y1="158.20" x2="20.80" y2="158.20" stroke="#333" stroke-width="0.55" />
<line x1="18.60" y1="160.50" x2="20.80" y2="160.50" stroke="#333" stroke-width="0.55" />
<line x1="18.60" y1="162.80" x2="20.80" y2="162.80" stroke="#333" stroke-width="0.55" />
<line x1="18.60" y1="165.10" x2="20.80" y2="165.10" stroke="#333" stroke-width="0.55" />
<line x1="18.60" y1="167.40" x2="20.80" y2="167.40" stroke="#333" stroke-width="0.55" />
<line x1="18.60" y1="169.70" x2="20.80" y2="169.70" stroke="#333" stroke-width="0.55" />
<line x1="18.60" y1="172.00" x2="20.80" y2="172.00" stroke="#333" stroke-width="0.55" />
<line x1="18.60" y1="174.30" x2="20.80" y2="174.30" stroke="#333" stroke-width="0.55" />
<line x1="18.60" y1="176.60" x2="20.80" y2="176.60" stroke="#333" stroke-width="0.55" />
<line x1="18.60" y1="178.90" x2="20.80" y2="178.90" stroke="#333" stroke-width="0.55" />
<line x1="18.60" y1="181.20" x2="20.80" y2="181.20" stroke="#333" stroke-width="0.55" />
<line x1="18.60" y1="183.50" x2="20.80" y2="183.50" stroke="#333" stroke-width="0.55" />
<line x1="18.60" y1="185.80" x2="20.80" y2="185.80" stroke="#333" stroke-width="0.55" />
<line x1="18.60" y1="188.10" x2="20.80" y2="188.10" stroke="#333" stroke-width="0.55" />
<line x1="18.60" y1="190.40" x2="20.80" y2="190.40" stroke="#333" stroke-width="0.55" />
<line x1="18.60" y1="192.70" x2="20.80" y2="192.70" stroke="#333" stroke-width="0.55" />
<line x1="18.60" y1="195.00" x2="20.80" y2="195.00" stroke="#333" stroke-width="0.55" />
<line x1="18.60" y1="197.30" x2="20.80" y2="197.30" stroke="#333" stroke-width="0.55" />
<line x1="18.60" y1="199.60" x2="20.80" y2="199.60" stroke="#333" stroke-width="0.55" />
<line x1="18.60" y1="201.90" x2="20.80" y2="201.90" stroke="#333" stroke-width="0.55" />
<line x1="18.60" y1="204.20" x2="20.80" y2="204.20" stroke="#333" stroke-width="0.55" />
<line x1="18.60" y1="206.50" x2="20.80" y2="206.50" stroke="#333" stroke-width="0.55" />
<line x1="18.60" y1="208.80" x2="20.80" y2="208.80" stroke="#333" stroke-width="0.55" />
<line x1="18.60" y1="211.10" x2="20.80" y2="211.10" stroke="#333" stroke-width="0.55" />
<line x1="18.60" y1="213.40" x2="20.80" y2="213.40" stroke="#333" stroke-width="0.55" />
<line x1="23.80" y1="214.80" x2="23.80" y2="216.00" stroke="#333" stroke-width="0.4" />
<line x1="26.00" y1="214.80" x2="26.00" y2="216.00" stroke="#333" stroke-width="0.4" />
<line x1="28.20" y1="214.80" x2="28.20" y2="216.00" stroke="#333" stroke-width="0.4" />
<line x1="30.40" y1="214.80" x2="30.40" y2="216.00" stroke="#333" stroke-width="0.4" />
<line x1="32.60" y1="214.80" x2="32.60" y2="216.00" stroke="#333" stroke-width="0.4" />
<line x1="34.80" y1="214.80" x2="34.80" y2="216.00" stroke="#333" stroke-width="0.4" />
<line x1="37.00" y1="214.80" x2="37.00" y2="216.00" stroke="#333" stroke-width="0.4" />
<line x1="39.20" y1="214.80" x2="39.20" y2="216.00" stroke="#333" stroke-width="0.4" />
<line x1="41.40" y1="214.80" x2="41.40" y2="216.00" stroke="#333" stroke-width="0.4" />
<line x1="43.60" y1="214.80" x2="43.60" y2="216.00" stroke="#333" stroke-width="0.4" />
<line x1="45.80" y1="214.80" x2="45.80" y2="216.00" stroke="#333" stroke-width="0.4" />
<line x1="48.00" y1="214.80" x2="48.00" y2="216.00" stroke="#333" stroke-width="0.4" />
<line x1="50.20" y1="214.80" x2="50.20" y2="216.00" stroke="#333" stroke-width="0.4" />
<line x1="52.40" y1="214.80" x2="52.40" y2="216.00" stroke="#333" stroke-width="0.4" />
<line x1="54.60" y1="214.80" x2="54.60" y2="216.00" stroke="#333" stroke-width="0.4" />
<line x1="56.80" y1="214.80" x2="56.80" y2="216.00" stroke="#333" stroke-width="0.4" />
<line x1="59.00" y1="214.80" x2="59.00" y2="216.00" stroke="#333" stroke-width="0.4" />
<line x1="61.20" y1="214.80" x2="61.20" y2="216.00" stroke="#333" stroke-width="0.4" />
<line x1="63.40" y1="214.80" x2="63.40" y2="216.00" stroke="#333" stroke-width="0.4" />
<line x1="65.60" y1="214.80" x2="65.60" y2="216.00" stroke="#333" stroke-width="0.4" />
<line x1="67.80" y1="214.80" x2="67.80" y2="216.00" stroke="#333" stroke-width="0.4" />
<line x1="70.00" y1="214.80" x2="70.00" y2="216.00" stroke="#333" stroke-width="0.4" />
<line x1="72.20" y1="214.80" x2="72.20" y2="216.00" stroke="#333" stroke-width="0.4" />
<line x1="74.40" y1="214.80" x2="74.40" y2="216.00" stroke="#333" stroke-width="0.4" />
<line x1="76.60" y1="214.80" x2="76.60" y2="216.00" stroke="#333" stroke-width="0.4" />
<line x1="78.80" y1="214.80" x2="78.80" y2="216.00" stroke="#333" stroke-width="0.4" />
<path d="M36.00,214.60 L36.80,214.18 L37.60,213.76 L38.40,213.28 L39.20,212.99 L40.00,213.01 L40.80,211.16 L41.60,209.91 L42.40,208.70 L43.20,206.92 L44.00,206.01 L44.80,204.16 L45.60,202.35 L46.40,199.51 L47.20,197.76 L48.00,195.51 L48.75,193.62 L49.50,190.73 L50.25,187.20 L51.00,185.58 L51.83,182.22 L52.67,178.52 L53.50,175.14 L54.25,170.09 L55.00,165.42 L56.20,161.03 L57.50,163.47 L58.50,171.63 L59.50,181.69 L60.25,187.44 L61.00,193.96 L62.00,198.93 L63.00,204.41 L63.83,206.19 L64.67,208.50 L65.50,210.50 L66.20,211.39 L66.90,211.85 L67.60,212.33 L68.30,213.90 L69.00,214.00 L69.75,214.15 L70.50,214.30 L71.25,214.45 L72.00,214.60" fill="none" stroke="#c8102e" stroke-width="1.1" stroke-linejoin="round"/>
<path d="M38.00,214.60 L38.75,214.53 L39.50,214.45 L40.25,214.38 L41.00,214.30 L41.75,214.22 L42.50,214.15 L43.25,214.07 L44.00,214.00 L44.71,214.17 L45.43,213.55 L46.14,212.96 L46.86,212.06 L47.57,211.53 L48.29,211.18 L49.00,210.48 L49.80,210.12 L50.60,208.48 L51.40,207.82 L52.20,206.06 L53.00,205.55 L53.75,203.17 L54.50,199.90 L55.25,197.90 L56.00,196.49 L57.00,189.46 L58.00,183.58 L58.75,175.38 L59.50,167.49 L60.90,157.16 L62.00,163.33 L63.00,175.72 L63.75,183.50 L64.50,191.80 L65.50,199.06 L66.50,205.31 L67.33,206.71 L68.17,209.03 L69.00,211.02 L69.74,211.53 L70.48,212.98 L71.22,212.79 L71.96,213.74 L72.70,214.30 L73.53,214.38 L74.35,214.45 L75.17,214.53 L76.00,214.60" fill="none" stroke="#3db54a" stroke-width="1.1" stroke-linejoin="round"/>
<text x="14.10" y="178.40" font-size="8.0" text-anchor="middle" fill="#111" stroke="#111" stroke-width="0.18" textLength="33.80" lengthAdjust="spacingAndGlyphs" transform="rotate(-90 14.10 178.40)" >% of max</text>
<line x1="11.20" y1="213.60" x2="11.20" y2="200.50" stroke="#111" stroke-width="1.3" />
<path d="M11.20,197.50 L8.30,202.70 L14.10,202.70 Z" fill="#111" />
<line x1="20.30" y1="222.80" x2="34.60" y2="222.80" stroke="#111" stroke-width="1.3" />
<path d="M37.60,222.80 L32.40,219.90 L32.40,225.70 Z" fill="#111" />
<text x="39.60" y="225.60" font-size="7.8" fill="#111" stroke="#111" stroke-width="0.1" textLength="25.30" lengthAdjust="spacingAndGlyphs" >CD11b</text>
<rect x="20.80" y="250.10" width="59.30" height="60.00" fill="#fff" stroke="#111" stroke-width="1.3" />
<line x1="18.60" y1="251.60" x2="20.80" y2="251.60" stroke="#333" stroke-width="0.55" />
<line x1="18.60" y1="253.90" x2="20.80" y2="253.90" stroke="#333" stroke-width="0.55" />
<line x1="18.60" y1="256.20" x2="20.80" y2="256.20" stroke="#333" stroke-width="0.55" />
<line x1="18.60" y1="258.50" x2="20.80" y2="258.50" stroke="#333" stroke-width="0.55" />
<line x1="18.60" y1="260.80" x2="20.80" y2="260.80" stroke="#333" stroke-width="0.55" />
<line x1="18.60" y1="263.10" x2="20.80" y2="263.10" stroke="#333" stroke-width="0.55" />
<line x1="18.60" y1="265.40" x2="20.80" y2="265.40" stroke="#333" stroke-width="0.55" />
<line x1="18.60" y1="267.70" x2="20.80" y2="267.70" stroke="#333" stroke-width="0.55" />
<line x1="18.60" y1="270.00" x2="20.80" y2="270.00" stroke="#333" stroke-width="0.55" />
<line x1="18.60" y1="272.30" x2="20.80" y2="272.30" stroke="#333" stroke-width="0.55" />
<line x1="18.60" y1="274.60" x2="20.80" y2="274.60" stroke="#333" stroke-width="0.55" />
<line x1="18.60" y1="276.90" x2="20.80" y2="276.90" stroke="#333" stroke-width="0.55" />
<line x1="18.60" y1="279.20" x2="20.80" y2="279.20" stroke="#333" stroke-width="0.55" />
<line x1="18.60" y1="281.50" x2="20.80" y2="281.50" stroke="#333" stroke-width="0.55" />
<line x1="18.60" y1="283.80" x2="20.80" y2="283.80" stroke="#333" stroke-width="0.55" />
<line x1="18.60" y1="286.10" x2="20.80" y2="286.10" stroke="#333" stroke-width="0.55" />
<line x1="18.60" y1="288.40" x2="20.80" y2="288.40" stroke="#333" stroke-width="0.55" />
<line x1="18.60" y1="290.70" x2="20.80" y2="290.70" stroke="#333" stroke-width="0.55" />
<line x1="18.60" y1="293.00" x2="20.80" y2="293.00" stroke="#333" stroke-width="0.55" />
<line x1="18.60" y1="295.30" x2="20.80" y2="295.30" stroke="#333" stroke-width="0.55" />
<line x1="18.60" y1="297.60" x2="20.80" y2="297.60" stroke="#333" stroke-width="0.55" />
<line x1="18.60" y1="299.90" x2="20.80" y2="299.90" stroke="#333" stroke-width="0.55" />
<line x1="18.60" y1="302.20" x2="20.80" y2="302.20" stroke="#333" stroke-width="0.55" />
<line x1="18.60" y1="304.50" x2="20.80" y2="304.50" stroke="#333" stroke-width="0.55" />
<line x1="18.60" y1="306.80" x2="20.80" y2="306.80" stroke="#333" stroke-width="0.55" />
<line x1="18.60" y1="309.10" x2="20.80" y2="309.10" stroke="#333" stroke-width="0.55" />
<line x1="23.80" y1="310.10" x2="23.80" y2="311.30" stroke="#333" stroke-width="0.4" />
<line x1="26.00" y1="310.10" x2="26.00" y2="311.30" stroke="#333" stroke-width="0.4" />
<line x1="28.20" y1="310.10" x2="28.20" y2="311.30" stroke="#333" stroke-width="0.4" />
<line x1="30.40" y1="310.10" x2="30.40" y2="311.30" stroke="#333" stroke-width="0.4" />
<line x1="32.60" y1="310.10" x2="32.60" y2="311.30" stroke="#333" stroke-width="0.4" />
<line x1="34.80" y1="310.10" x2="34.80" y2="311.30" stroke="#333" stroke-width="0.4" />
<line x1="37.00" y1="310.10" x2="37.00" y2="311.30" stroke="#333" stroke-width="0.4" />
<line x1="39.20" y1="310.10" x2="39.20" y2="311.30" stroke="#333" stroke-width="0.4" />
<line x1="41.40" y1="310.10" x2="41.40" y2="311.30" stroke="#333" stroke-width="0.4" />
<line x1="43.60" y1="310.10" x2="43.60" y2="311.30" stroke="#333" stroke-width="0.4" />
<line x1="45.80" y1="310.10" x2="45.80" y2="311.30" stroke="#333" stroke-width="0.4" />
<line x1="48.00" y1="310.10" x2="48.00" y2="311.30" stroke="#333" stroke-width="0.4" />
<line x1="50.20" y1="310.10" x2="50.20" y2="311.30" stroke="#333" stroke-width="0.4" />
<line x1="52.40" y1="310.10" x2="52.40" y2="311.30" stroke="#333" stroke-width="0.4" />
<line x1="54.60" y1="310.10" x2="54.60" y2="311.30" stroke="#333" stroke-width="0.4" />
<line x1="56.80" y1="310.10" x2="56.80" y2="311.30" stroke="#333" stroke-width="0.4" />
<line x1="59.00" y1="310.10" x2="59.00" y2="311.30" stroke="#333" stroke-width="0.4" />
<line x1="61.20" y1="310.10" x2="61.20" y2="311.30" stroke="#333" stroke-width="0.4" />
<line x1="63.40" y1="310.10" x2="63.40" y2="311.30" stroke="#333" stroke-width="0.4" />
<line x1="65.60" y1="310.10" x2="65.60" y2="311.30" stroke="#333" stroke-width="0.4" />
<line x1="67.80" y1="310.10" x2="67.80" y2="311.30" stroke="#333" stroke-width="0.4" />
<line x1="70.00" y1="310.10" x2="70.00" y2="311.30" stroke="#333" stroke-width="0.4" />
<line x1="72.20" y1="310.10" x2="72.20" y2="311.30" stroke="#333" stroke-width="0.4" />
<line x1="74.40" y1="310.10" x2="74.40" y2="311.30" stroke="#333" stroke-width="0.4" />
<line x1="76.60" y1="310.10" x2="76.60" y2="311.30" stroke="#333" stroke-width="0.4" />
<line x1="78.80" y1="310.10" x2="78.80" y2="311.30" stroke="#333" stroke-width="0.4" />
<path d="M30.00,310.00 L30.75,308.57 L31.50,306.94 L32.50,298.13 L33.50,290.28 L34.35,278.56 L35.20,268.17 L35.95,261.44 L36.70,255.70 L37.45,260.06 L38.20,264.72 L39.10,274.07 L40.00,282.36 L40.75,286.11 L41.50,291.16 L42.33,292.79 L43.17,295.44 L44.00,298.43 L44.90,299.80 L45.80,300.79 L46.70,303.49 L47.53,303.21 L48.35,303.91 L49.17,305.18 L50.00,305.29 L50.70,305.61 L51.40,305.69 L52.10,306.06 L52.80,307.00 L53.50,306.94 L54.20,307.72 L54.90,307.80 L55.60,308.24 L56.30,309.20 L57.00,309.00 L57.75,309.10 L58.50,309.20 L59.25,309.30 L60.00,309.40 L60.75,309.50 L61.50,309.60 L62.25,309.70 L63.00,309.80 L63.77,309.82 L64.55,309.85 L65.33,309.88 L66.10,309.90 L66.88,309.93 L67.65,309.95 L68.42,309.98 L69.20,310.00" fill="none" stroke="#c8102e" stroke-width="1.1" stroke-linejoin="round"/>
<path d="M31.00,310.00 L32.00,307.48 L33.00,305.09 L34.00,295.44 L35.00,284.62 L36.00,274.58 L37.00,265.49 L37.95,260.93 L38.90,255.80 L39.70,257.68 L40.50,260.29 L41.45,261.53 L42.40,261.64 L43.10,262.21 L43.80,261.79 L44.50,261.12 L45.23,262.57 L45.97,263.86 L46.70,265.45 L47.60,267.56 L48.50,267.69 L49.25,270.25 L50.00,271.71 L50.75,273.39 L51.50,274.12 L52.25,273.00 L53.00,272.11 L53.75,275.01 L54.50,276.48 L55.33,279.34 L56.17,282.40 L57.00,285.42 L57.75,286.89 L58.50,288.24 L59.25,290.75 L60.00,291.64 L60.80,293.02 L61.60,294.92 L62.40,296.73 L63.20,297.87 L64.00,299.61 L64.75,301.09 L65.50,302.59 L66.25,303.31 L67.00,304.83 L67.75,306.59 L68.50,307.83 L69.25,308.56 L70.00,309.50 L71.00,309.75 L72.00,310.00" fill="none" stroke="#3db54a" stroke-width="1.1" stroke-linejoin="round"/>
<text x="14.10" y="274.30" font-size="8.0" text-anchor="middle" fill="#111" stroke="#111" stroke-width="0.18" textLength="32.80" lengthAdjust="spacingAndGlyphs" transform="rotate(-90 14.10 274.30)" >% of max</text>
<line x1="10.70" y1="309.80" x2="10.70" y2="297.20" stroke="#111" stroke-width="1.3" />
<path d="M10.70,294.20 L7.80,299.40 L13.60,299.40 Z" fill="#111" />
<line x1="20.40" y1="319.00" x2="32.50" y2="319.00" stroke="#111" stroke-width="1.3" />
<path d="M35.50,319.00 L30.30,316.10 L30.30,321.90 Z" fill="#111" />
<text x="39.80" y="321.60" font-size="7.4" fill="#111" stroke="#111" stroke-width="0.18" textLength="17.30" lengthAdjust="spacingAndGlyphs" >CD14</text>
<rect x="21.30" y="351.10" width="60.00" height="59.70" fill="#fff" stroke="#111" stroke-width="1.3" />
<line x1="19.10" y1="352.60" x2="21.30" y2="352.60" stroke="#333" stroke-width="0.55" />
<line x1="19.10" y1="354.90" x2="21.30" y2="354.90" stroke="#333" stroke-width="0.55" />
<line x1="19.10" y1="357.20" x2="21.30" y2="357.20" stroke="#333" stroke-width="0.55" />
<line x1="19.10" y1="359.50" x2="21.30" y2="359.50" stroke="#333" stroke-width="0.55" />
<line x1="19.10" y1="361.80" x2="21.30" y2="361.80" stroke="#333" stroke-width="0.55" />
<line x1="19.10" y1="364.10" x2="21.30" y2="364.10" stroke="#333" stroke-width="0.55" />
<line x1="19.10" y1="366.40" x2="21.30" y2="366.40" stroke="#333" stroke-width="0.55" />
<line x1="19.10" y1="368.70" x2="21.30" y2="368.70" stroke="#333" stroke-width="0.55" />
<line x1="19.10" y1="371.00" x2="21.30" y2="371.00" stroke="#333" stroke-width="0.55" />
<line x1="19.10" y1="373.30" x2="21.30" y2="373.30" stroke="#333" stroke-width="0.55" />
<line x1="19.10" y1="375.60" x2="21.30" y2="375.60" stroke="#333" stroke-width="0.55" />
<line x1="19.10" y1="377.90" x2="21.30" y2="377.90" stroke="#333" stroke-width="0.55" />
<line x1="19.10" y1="380.20" x2="21.30" y2="380.20" stroke="#333" stroke-width="0.55" />
<line x1="19.10" y1="382.50" x2="21.30" y2="382.50" stroke="#333" stroke-width="0.55" />
<line x1="19.10" y1="384.80" x2="21.30" y2="384.80" stroke="#333" stroke-width="0.55" />
<line x1="19.10" y1="387.10" x2="21.30" y2="387.10" stroke="#333" stroke-width="0.55" />
<line x1="19.10" y1="389.40" x2="21.30" y2="389.40" stroke="#333" stroke-width="0.55" />
<line x1="19.10" y1="391.70" x2="21.30" y2="391.70" stroke="#333" stroke-width="0.55" />
<line x1="19.10" y1="394.00" x2="21.30" y2="394.00" stroke="#333" stroke-width="0.55" />
<line x1="19.10" y1="396.30" x2="21.30" y2="396.30" stroke="#333" stroke-width="0.55" />
<line x1="19.10" y1="398.60" x2="21.30" y2="398.60" stroke="#333" stroke-width="0.55" />
<line x1="19.10" y1="400.90" x2="21.30" y2="400.90" stroke="#333" stroke-width="0.55" />
<line x1="19.10" y1="403.20" x2="21.30" y2="403.20" stroke="#333" stroke-width="0.55" />
<line x1="19.10" y1="405.50" x2="21.30" y2="405.50" stroke="#333" stroke-width="0.55" />
<line x1="19.10" y1="407.80" x2="21.30" y2="407.80" stroke="#333" stroke-width="0.55" />
<line x1="19.10" y1="410.10" x2="21.30" y2="410.10" stroke="#333" stroke-width="0.55" />
<line x1="24.30" y1="410.80" x2="24.30" y2="412.00" stroke="#333" stroke-width="0.4" />
<line x1="26.50" y1="410.80" x2="26.50" y2="412.00" stroke="#333" stroke-width="0.4" />
<line x1="28.70" y1="410.80" x2="28.70" y2="412.00" stroke="#333" stroke-width="0.4" />
<line x1="30.90" y1="410.80" x2="30.90" y2="412.00" stroke="#333" stroke-width="0.4" />
<line x1="33.10" y1="410.80" x2="33.10" y2="412.00" stroke="#333" stroke-width="0.4" />
<line x1="35.30" y1="410.80" x2="35.30" y2="412.00" stroke="#333" stroke-width="0.4" />
<line x1="37.50" y1="410.80" x2="37.50" y2="412.00" stroke="#333" stroke-width="0.4" />
<line x1="39.70" y1="410.80" x2="39.70" y2="412.00" stroke="#333" stroke-width="0.4" />
<line x1="41.90" y1="410.80" x2="41.90" y2="412.00" stroke="#333" stroke-width="0.4" />
<line x1="44.10" y1="410.80" x2="44.10" y2="412.00" stroke="#333" stroke-width="0.4" />
<line x1="46.30" y1="410.80" x2="46.30" y2="412.00" stroke="#333" stroke-width="0.4" />
<line x1="48.50" y1="410.80" x2="48.50" y2="412.00" stroke="#333" stroke-width="0.4" />
<line x1="50.70" y1="410.80" x2="50.70" y2="412.00" stroke="#333" stroke-width="0.4" />
<line x1="52.90" y1="410.80" x2="52.90" y2="412.00" stroke="#333" stroke-width="0.4" />
<line x1="55.10" y1="410.80" x2="55.10" y2="412.00" stroke="#333" stroke-width="0.4" />
<line x1="57.30" y1="410.80" x2="57.30" y2="412.00" stroke="#333" stroke-width="0.4" />
<line x1="59.50" y1="410.80" x2="59.50" y2="412.00" stroke="#333" stroke-width="0.4" />
<line x1="61.70" y1="410.80" x2="61.70" y2="412.00" stroke="#333" stroke-width="0.4" />
<line x1="63.90" y1="410.80" x2="63.90" y2="412.00" stroke="#333" stroke-width="0.4" />
<line x1="66.10" y1="410.80" x2="66.10" y2="412.00" stroke="#333" stroke-width="0.4" />
<line x1="68.30" y1="410.80" x2="68.30" y2="412.00" stroke="#333" stroke-width="0.4" />
<line x1="70.50" y1="410.80" x2="70.50" y2="412.00" stroke="#333" stroke-width="0.4" />
<line x1="72.70" y1="410.80" x2="72.70" y2="412.00" stroke="#333" stroke-width="0.4" />
<line x1="74.90" y1="410.80" x2="74.90" y2="412.00" stroke="#333" stroke-width="0.4" />
<line x1="77.10" y1="410.80" x2="77.10" y2="412.00" stroke="#333" stroke-width="0.4" />
<line x1="79.30" y1="410.80" x2="79.30" y2="412.00" stroke="#333" stroke-width="0.4" />
<path d="M33.00,410.60 L33.83,410.07 L34.67,409.76 L35.50,409.10 L36.50,401.57 L37.50,394.44 L38.25,381.92 L39.00,370.49 L40.10,354.64 L41.50,362.56 L42.25,370.43 L43.00,380.16 L43.77,385.98 L44.53,392.28 L45.30,397.78 L46.20,401.43 L47.10,403.16 L48.00,406.56 L48.80,407.48 L49.60,408.38 L50.40,408.88 L51.20,409.54 L52.00,410.00 L52.80,410.12 L53.60,410.24 L54.40,410.36 L55.20,410.48 L56.00,410.60" fill="none" stroke="#c8102e" stroke-width="1.1" stroke-linejoin="round"/>
<path d="M34.00,410.60 L35.00,409.65 L36.00,408.50 L37.00,399.82 L38.00,392.22 L38.85,380.48 L39.70,368.45 L40.45,361.10 L41.20,354.75 L42.50,361.44 L43.30,369.59 L44.10,378.15 L44.90,383.53 L45.70,389.43 L46.50,395.13 L47.24,397.04 L47.98,400.25 L48.72,403.21 L49.46,405.62 L50.20,407.97 L51.13,408.40 L52.07,409.65 L53.00,410.20 L53.80,410.28 L54.60,410.36 L55.40,410.44 L56.20,410.52 L57.00,410.60" fill="none" stroke="#3db54a" stroke-width="1.1" stroke-linejoin="round"/>
<text x="14.30" y="376.10" font-size="8.0" text-anchor="middle" fill="#111" stroke="#111" stroke-width="0.18" textLength="33.80" lengthAdjust="spacingAndGlyphs" transform="rotate(-90 14.30 376.10)" >% of max</text>
<line x1="11.20" y1="411.00" x2="11.20" y2="397.70" stroke="#111" stroke-width="1.3" />
<path d="M11.20,394.70 L8.30,399.90 L14.10,399.90 Z" fill="#111" />
<line x1="20.80" y1="419.80" x2="33.30" y2="419.80" stroke="#111" stroke-width="1.3" />
<path d="M36.30,419.80 L31.10,416.90 L31.10,422.70 Z" fill="#111" />
<text x="40.10" y="422.30" font-size="7.2" fill="#111" stroke="#111" stroke-width="0.18" textLength="21.30" lengthAdjust="spacingAndGlyphs" >MHC II</text>
<line x1="125.10" y1="145.00" x2="125.10" y2="198.30" stroke="#222" stroke-width="1.2" />
<line x1="124.60" y1="197.80" x2="150.10" y2="197.80" stroke="#222" stroke-width="1.2" />
<line x1="122.10" y1="148.70" x2="125.10" y2="148.70" stroke="#222" stroke-width="0.8" />
<text x="119.50" y="151.30" font-size="7.4" text-anchor="end" stroke="#222" stroke-width="0.18" textLength="17.61" lengthAdjust="spacingAndGlyphs" >8000</text>
<line x1="122.10" y1="161.30" x2="125.10" y2="161.30" stroke="#222" stroke-width="0.8" />
<text x="119.50" y="163.90" font-size="7.4" text-anchor="end" stroke="#222" stroke-width="0.18" textLength="17.61" lengthAdjust="spacingAndGlyphs" >6000</text>
<line x1="122.10" y1="173.70" x2="125.10" y2="173.70" stroke="#222" stroke-width="0.8" />
<text x="119.50" y="176.30" font-size="7.4" text-anchor="end" stroke="#222" stroke-width="0.18" textLength="17.61" lengthAdjust="spacingAndGlyphs" >4000</text>
<line x1="122.10" y1="185.90" x2="125.10" y2="185.90" stroke="#222" stroke-width="0.8" />
<text x="119.50" y="188.50" font-size="7.4" text-anchor="end" stroke="#222" stroke-width="0.18" textLength="17.61" lengthAdjust="spacingAndGlyphs" >2000</text>
<line x1="122.10" y1="198.00" x2="125.10" y2="198.00" stroke="#222" stroke-width="0.8" />
<text x="119.50" y="200.60" font-size="7.4" text-anchor="end" stroke="#222" stroke-width="0.18" textLength="4.40" lengthAdjust="spacingAndGlyphs" >0</text>
<rect x="127.90" y="174.00" width="5.20" height="23.80" fill="#c8102e" />
<line x1="130.50" y1="174.00" x2="130.50" y2="171.10" stroke="#222" stroke-width="0.7" />
<line x1="129.30" y1="171.10" x2="131.70" y2="171.10" stroke="#222" stroke-width="0.7" />
<line x1="130.50" y1="197.80" x2="130.50" y2="200.30" stroke="#222" stroke-width="0.9" />
<rect x="142.30" y="160.80" width="5.50" height="37.00" fill="#3db54a" />
<line x1="145.05" y1="160.80" x2="145.05" y2="157.00" stroke="#222" stroke-width="0.7" />
<line x1="143.85" y1="157.00" x2="146.25" y2="157.00" stroke="#222" stroke-width="0.7" />
<line x1="145.05" y1="197.80" x2="145.05" y2="200.30" stroke="#222" stroke-width="0.9" />
<line x1="130.20" y1="154.60" x2="144.80" y2="154.60" stroke="#222" stroke-width="0.9" />
<text x="137.50" y="155.50" font-size="7.4" text-anchor="middle" fill="#222" stroke="#222" stroke-width="0.2" textLength="2.40" lengthAdjust="spacing">*</text>
<text x="95.70" y="173.15" font-size="9.3" text-anchor="middle" stroke="#222" stroke-width="0.08" textLength="65.70" lengthAdjust="spacingAndGlyphs" transform="rotate(-90 95.70 173.15)" >Geo. mean (CD11b)</text>
<text x="131.60" y="209.30" font-size="8.2" text-anchor="end" stroke="#222" stroke-width="0.06" textLength="24.82" lengthAdjust="spacingAndGlyphs" transform="rotate(-45 131.60 209.30)" >Vehicle</text>
<text x="147.30" y="210.00" font-size="8.2" text-anchor="end" stroke="#222" stroke-width="0.06" textLength="19.25" lengthAdjust="spacingAndGlyphs" transform="rotate(-45 147.30 210.00)" >BALF</text>
<line x1="125.10" y1="239.70" x2="125.10" y2="292.80" stroke="#222" stroke-width="1.2" />
<line x1="124.60" y1="292.30" x2="150.40" y2="292.30" stroke="#222" stroke-width="1.2" />
<line x1="122.10" y1="243.80" x2="125.10" y2="243.80" stroke="#222" stroke-width="0.8" />
<text x="119.50" y="246.40" font-size="7.4" text-anchor="end" stroke="#222" stroke-width="0.18" textLength="17.61" lengthAdjust="spacingAndGlyphs" >1000</text>
<line x1="122.10" y1="253.50" x2="125.10" y2="253.50" stroke="#222" stroke-width="0.8" />
<text x="119.50" y="256.10" font-size="7.4" text-anchor="end" stroke="#222" stroke-width="0.18" textLength="13.21" lengthAdjust="spacingAndGlyphs" >800</text>
<line x1="122.10" y1="263.30" x2="125.10" y2="263.30" stroke="#222" stroke-width="0.8" />
<text x="119.50" y="265.90" font-size="7.4" text-anchor="end" stroke="#222" stroke-width="0.18" textLength="13.21" lengthAdjust="spacingAndGlyphs" >600</text>
<line x1="122.10" y1="273.00" x2="125.10" y2="273.00" stroke="#222" stroke-width="0.8" />
<text x="119.50" y="275.60" font-size="7.4" text-anchor="end" stroke="#222" stroke-width="0.18" textLength="13.21" lengthAdjust="spacingAndGlyphs" >400</text>
<line x1="122.10" y1="282.70" x2="125.10" y2="282.70" stroke="#222" stroke-width="0.8" />
<text x="119.50" y="285.30" font-size="7.4" text-anchor="end" stroke="#222" stroke-width="0.18" textLength="13.21" lengthAdjust="spacingAndGlyphs" >200</text>
<line x1="122.10" y1="292.30" x2="125.10" y2="292.30" stroke="#222" stroke-width="0.8" />
<text x="119.50" y="294.90" font-size="7.4" text-anchor="end" stroke="#222" stroke-width="0.18" textLength="4.40" lengthAdjust="spacingAndGlyphs" >0</text>
<rect x="127.90" y="272.30" width="5.20" height="20.00" fill="#c8102e" />
<line x1="130.50" y1="272.30" x2="130.50" y2="271.20" stroke="#222" stroke-width="0.7" />
<line x1="129.30" y1="271.20" x2="131.70" y2="271.20" stroke="#222" stroke-width="0.7" />
<line x1="130.50" y1="292.30" x2="130.50" y2="294.80" stroke="#222" stroke-width="0.9" />
<rect x="142.30" y="249.90" width="5.50" height="42.40" fill="#3db54a" />
<line x1="145.05" y1="249.90" x2="145.05" y2="248.70" stroke="#222" stroke-width="0.7" />
<line x1="143.85" y1="248.70" x2="146.25" y2="248.70" stroke="#222" stroke-width="0.7" />
<line x1="145.05" y1="292.30" x2="145.05" y2="294.80" stroke="#222" stroke-width="0.9" />
<line x1="130.00" y1="245.60" x2="145.00" y2="245.60" stroke="#222" stroke-width="0.9" />
<text x="137.50" y="246.50" font-size="7.4" text-anchor="middle" fill="#222" stroke="#222" stroke-width="0.2" textLength="9.20" lengthAdjust="spacing">***</text>
<text x="95.50" y="266.40" font-size="9.3" text-anchor="middle" stroke="#222" stroke-width="0.08" textLength="61.80" lengthAdjust="spacingAndGlyphs" transform="rotate(-90 95.50 266.40)" >Geo. mean (CD14)</text>
<text x="131.60" y="302.90" font-size="8.2" text-anchor="end" stroke="#222" stroke-width="0.06" textLength="24.82" lengthAdjust="spacingAndGlyphs" transform="rotate(-45 131.60 302.90)" >Vehicle</text>
<text x="146.50" y="305.20" font-size="8.2" text-anchor="end" stroke="#222" stroke-width="0.06" textLength="19.25" lengthAdjust="spacingAndGlyphs" transform="rotate(-45 146.50 305.20)" >BALF</text>
<line x1="125.90" y1="342.20" x2="125.90" y2="394.70" stroke="#222" stroke-width="1.2" />
<line x1="125.40" y1="394.20" x2="151.20" y2="394.20" stroke="#222" stroke-width="1.2" />
<line x1="122.90" y1="346.00" x2="125.90" y2="346.00" stroke="#222" stroke-width="0.8" />
<text x="120.30" y="348.60" font-size="7.4" text-anchor="end" stroke="#222" stroke-width="0.18" textLength="13.21" lengthAdjust="spacingAndGlyphs" >250</text>
<line x1="122.90" y1="355.80" x2="125.90" y2="355.80" stroke="#222" stroke-width="0.8" />
<text x="120.30" y="358.40" font-size="7.4" text-anchor="end" stroke="#222" stroke-width="0.18" textLength="13.21" lengthAdjust="spacingAndGlyphs" >200</text>
<line x1="122.90" y1="365.70" x2="125.90" y2="365.70" stroke="#222" stroke-width="0.8" />
<text x="120.30" y="368.30" font-size="7.4" text-anchor="end" stroke="#222" stroke-width="0.18" textLength="13.21" lengthAdjust="spacingAndGlyphs" >150</text>
<line x1="122.90" y1="375.30" x2="125.90" y2="375.30" stroke="#222" stroke-width="0.8" />
<text x="120.30" y="377.90" font-size="7.4" text-anchor="end" stroke="#222" stroke-width="0.18" textLength="13.21" lengthAdjust="spacingAndGlyphs" >100</text>
<line x1="122.90" y1="384.80" x2="125.90" y2="384.80" stroke="#222" stroke-width="0.8" />
<text x="120.30" y="387.40" font-size="7.4" text-anchor="end" stroke="#222" stroke-width="0.18" textLength="8.81" lengthAdjust="spacingAndGlyphs" >50</text>
<line x1="122.90" y1="394.20" x2="125.90" y2="394.20" stroke="#222" stroke-width="0.8" />
<text x="120.30" y="396.80" font-size="7.4" text-anchor="end" stroke="#222" stroke-width="0.18" textLength="4.40" lengthAdjust="spacingAndGlyphs" >0</text>
<rect x="129.00" y="368.80" width="5.00" height="25.40" fill="#c8102e" />
<line x1="131.50" y1="368.80" x2="131.50" y2="366.30" stroke="#222" stroke-width="0.7" />
<line x1="130.30" y1="366.30" x2="132.70" y2="366.30" stroke="#222" stroke-width="0.7" />
<line x1="131.50" y1="394.20" x2="131.50" y2="396.70" stroke="#222" stroke-width="0.9" />
<rect x="143.40" y="356.10" width="5.00" height="38.10" fill="#3db54a" />
<line x1="145.90" y1="356.10" x2="145.90" y2="354.90" stroke="#222" stroke-width="0.7" />
<line x1="144.70" y1="354.90" x2="147.10" y2="354.90" stroke="#222" stroke-width="0.7" />
<line x1="145.90" y1="394.20" x2="145.90" y2="396.70" stroke="#222" stroke-width="0.9" />
<line x1="131.30" y1="351.90" x2="145.70" y2="351.90" stroke="#222" stroke-width="0.9" />
<text x="138.50" y="352.80" font-size="7.4" text-anchor="middle" fill="#222" stroke="#222" stroke-width="0.2" textLength="2.40" lengthAdjust="spacing">*</text>
<text x="96.50" y="367.95" font-size="9.3" text-anchor="middle" stroke="#222" stroke-width="0.08" textLength="64.90" lengthAdjust="spacingAndGlyphs" transform="rotate(-90 96.50 367.95)" >Geo. mean (MHC II)</text>
<text x="132.40" y="405.20" font-size="8.2" text-anchor="end" stroke="#222" stroke-width="0.06" textLength="24.82" lengthAdjust="spacingAndGlyphs" transform="rotate(-45 132.40 405.20)" >Vehicle</text>
<text x="147.60" y="406.80" font-size="8.2" text-anchor="end" stroke="#222" stroke-width="0.06" textLength="19.25" lengthAdjust="spacingAndGlyphs" transform="rotate(-45 147.60 406.80)" >BALF</text>
<text x="171.60" y="131.60" font-size="10.5" fill="#000" font-weight="bold" >D</text>
<text x="187.70" y="145.60" font-size="7.6" text-anchor="middle" stroke="#222" stroke-width="0.06" textLength="17.00" lengthAdjust="spacingAndGlyphs" >BMN</text>
<text x="204.20" y="145.60" font-size="7.6" text-anchor="middle" stroke="#222" stroke-width="0.06" textLength="9.60" lengthAdjust="spacingAndGlyphs" >BN</text>
<text x="220.60" y="145.60" font-size="7.6" text-anchor="middle" stroke="#222" stroke-width="0.06" textLength="9.60" lengthAdjust="spacingAndGlyphs" >LN</text>
<line x1="180.20" y1="147.80" x2="195.60" y2="147.80" stroke="#333" stroke-width="0.9" />
<line x1="197.50" y1="147.80" x2="211.00" y2="147.80" stroke="#333" stroke-width="0.9" />
<line x1="212.90" y1="147.80" x2="227.70" y2="147.80" stroke="#333" stroke-width="0.9" />
<rect x="178.70" y="150.20" width="5.62" height="6.14" fill="#c8cae8" stroke="#9a9a9a" stroke-width="0.45" />
<rect x="184.32" y="150.20" width="5.62" height="6.14" fill="#8890d0" stroke="#9a9a9a" stroke-width="0.45" />
<rect x="189.94" y="150.20" width="5.62" height="6.14" fill="#a0a4d8" stroke="#9a9a9a" stroke-width="0.45" />
<rect x="195.57" y="150.20" width="5.62" height="6.14" fill="#e8e8f4" stroke="#9a9a9a" stroke-width="0.45" />
<rect x="201.19" y="150.20" width="5.62" height="6.14" fill="#8088cc" stroke="#9a9a9a" stroke-width="0.45" />
<rect x="206.81" y="150.20" width="5.62" height="6.14" fill="#6068bc" stroke="#9a9a9a" stroke-width="0.45" />
<rect x="212.43" y="150.20" width="5.62" height="6.14" fill="#e87070" stroke="#9a9a9a" stroke-width="0.45" />
<rect x="218.06" y="150.20" width="5.62" height="6.14" fill="#e86060" stroke="#9a9a9a" stroke-width="0.45" />
<rect x="223.68" y="150.20" width="5.62" height="6.14" fill="#e86060" stroke="#9a9a9a" stroke-width="0.45" />
<text x="231.00" y="155.67" font-size="6.9" fill="#333" font-style="italic" textLength="17.48" lengthAdjust="spacingAndGlyphs" >Nr4a3</text>
<rect x="178.70" y="156.34" width="5.62" height="6.14" fill="#e4e6f4" stroke="#9a9a9a" stroke-width="0.45" />
<rect x="184.32" y="156.34" width="5.62" height="6.14" fill="#fafafa" stroke="#9a9a9a" stroke-width="0.45" />
<rect x="189.94" y="156.34" width="5.62" height="6.14" fill="#fde8e6" stroke="#9a9a9a" stroke-width="0.45" />
<rect x="195.57" y="156.34" width="5.62" height="6.14" fill="#9094d4" stroke="#9a9a9a" stroke-width="0.45" />
<rect x="201.19" y="156.34" width="5.62" height="6.14" fill="#8088cc" stroke="#9a9a9a" stroke-width="0.45" />
<rect x="206.81" y="156.34" width="5.62" height="6.14" fill="#000090" stroke="#9a9a9a" stroke-width="0.45" />
<rect x="212.43" y="156.34" width="5.62" height="6.14" fill="#ec8080" stroke="#9a9a9a" stroke-width="0.45" />
<rect x="218.06" y="156.34" width="5.62" height="6.14" fill="#ec8080" stroke="#9a9a9a" stroke-width="0.45" />
<rect x="223.68" y="156.34" width="5.62" height="6.14" fill="#ec7878" stroke="#9a9a9a" stroke-width="0.45" />
<text x="231.00" y="161.81" font-size="6.9" fill="#333" font-style="italic" textLength="16.05" lengthAdjust="spacingAndGlyphs" >Cxcl1</text>
<rect x="178.70" y="162.48" width="5.62" height="6.14" fill="#fde8e6" stroke="#9a9a9a" stroke-width="0.45" />
<rect x="184.32" y="162.48" width="5.62" height="6.14" fill="#d4d6ee" stroke="#9a9a9a" stroke-width="0.45" />
<rect x="189.94" y="162.48" width="5.62" height="6.14" fill="#fdeae8" stroke="#9a9a9a" stroke-width="0.45" />
<rect x="195.57" y="162.48" width="5.62" height="6.14" fill="#e0e2f4" stroke="#9a9a9a" stroke-width="0.45" />
<rect x="201.19" y="162.48" width="5.62" height="6.14" fill="#3840a8" stroke="#9a9a9a" stroke-width="0.45" />
<rect x="206.81" y="162.48" width="5.62" height="6.14" fill="#000090" stroke="#9a9a9a" stroke-width="0.45" />
<rect x="212.43" y="162.48" width="5.62" height="6.14" fill="#ec7878" stroke="#9a9a9a" stroke-width="0.45" />
<rect x="218.06" y="162.48" width="5.62" height="6.14" fill="#f09898" stroke="#9a9a9a" stroke-width="0.45" />
<rect x="223.68" y="162.48" width="5.62" height="6.14" fill="#ec8080" stroke="#9a9a9a" stroke-width="0.45" />
<text x="231.00" y="167.95" font-size="6.9" fill="#333" font-style="italic" textLength="18.19" lengthAdjust="spacingAndGlyphs" >Hilpda</text>
<rect x="178.70" y="168.62" width="5.62" height="6.14" fill="#6870c0" stroke="#9a9a9a" stroke-width="0.45" />
<rect x="184.32" y="168.62" width="5.62" height="6.14" fill="#6870c0" stroke="#9a9a9a" stroke-width="0.45" />
<rect x="189.94" y="168.62" width="5.62" height="6.14" fill="#f0f0f8" stroke="#9a9a9a" stroke-width="0.45" />
<rect x="195.57" y="168.62" width="5.62" height="6.14" fill="#e4e6f4" stroke="#9a9a9a" stroke-width="0.45" />
<rect x="201.19" y="168.62" width="5.62" height="6.14" fill="#9094d4" stroke="#9a9a9a" stroke-width="0.45" />
<rect x="206.81" y="168.62" width="5.62" height="6.14" fill="#8088cc" stroke="#9a9a9a" stroke-width="0.45" />
<rect x="212.43" y="168.62" width="5.62" height="6.14" fill="#e03030" stroke="#9a9a9a" stroke-width="0.45" />
<rect x="218.06" y="168.62" width="5.62" height="6.14" fill="#e85050" stroke="#9a9a9a" stroke-width="0.45" />
<rect x="223.68" y="168.62" width="5.62" height="6.14" fill="#fbe0e0" stroke="#9a9a9a" stroke-width="0.45" />
<text x="231.00" y="174.09" font-size="6.9" fill="#333" font-style="italic" textLength="22.12" lengthAdjust="spacingAndGlyphs" >Hspa1b</text>
<rect x="178.70" y="174.76" width="5.62" height="6.14" fill="#c8cae8" stroke="#9a9a9a" stroke-width="0.45" />
<rect x="184.32" y="174.76" width="5.62" height="6.14" fill="#a0a4d8" stroke="#9a9a9a" stroke-width="0.45" />
<rect x="189.94" y="174.76" width="5.62" height="6.14" fill="#a8acdc" stroke="#9a9a9a" stroke-width="0.45" />
<rect x="195.57" y="174.76" width="5.62" height="6.14" fill="#a0a4d8" stroke="#9a9a9a" stroke-width="0.45" />
<rect x="201.19" y="174.76" width="5.62" height="6.14" fill="#8088cc" stroke="#9a9a9a" stroke-width="0.45" />
<rect x="206.81" y="174.76" width="5.62" height="6.14" fill="#7078c4" stroke="#9a9a9a" stroke-width="0.45" />
<rect x="212.43" y="174.76" width="5.62" height="6.14" fill="#e86868" stroke="#9a9a9a" stroke-width="0.45" />
<rect x="218.06" y="174.76" width="5.62" height="6.14" fill="#e86868" stroke="#9a9a9a" stroke-width="0.45" />
<rect x="223.68" y="174.76" width="5.62" height="6.14" fill="#e45858" stroke="#9a9a9a" stroke-width="0.45" />
<text x="231.00" y="180.23" font-size="6.9" fill="#333" font-style="italic" textLength="15.68" lengthAdjust="spacingAndGlyphs" >Crem</text>
<rect x="178.70" y="180.90" width="5.62" height="6.14" fill="#b8bce4" stroke="#9a9a9a" stroke-width="0.45" />
<rect x="184.32" y="180.90" width="5.62" height="6.14" fill="#9094d4" stroke="#9a9a9a" stroke-width="0.45" />
<rect x="189.94" y="180.90" width="5.62" height="6.14" fill="#b0b4e0" stroke="#9a9a9a" stroke-width="0.45" />
<rect x="195.57" y="180.90" width="5.62" height="6.14" fill="#b8bce4" stroke="#9a9a9a" stroke-width="0.45" />
<rect x="201.19" y="180.90" width="5.62" height="6.14" fill="#7078c4" stroke="#9a9a9a" stroke-width="0.45" />
<rect x="206.81" y="180.90" width="5.62" height="6.14" fill="#8088cc" stroke="#9a9a9a" stroke-width="0.45" />
<rect x="212.43" y="180.90" width="5.62" height="6.14" fill="#e86868" stroke="#9a9a9a" stroke-width="0.45" />
<rect x="218.06" y="180.90" width="5.62" height="6.14" fill="#ec7070" stroke="#9a9a9a" stroke-width="0.45" />
<rect x="223.68" y="180.90" width="5.62" height="6.14" fill="#e45858" stroke="#9a9a9a" stroke-width="0.45" />
<text x="231.00" y="186.37" font-size="6.9" fill="#333" font-style="italic" textLength="15.34" lengthAdjust="spacingAndGlyphs" >Cd14</text>
<rect x="178.70" y="187.04" width="5.62" height="6.14" fill="#c0c4e8" stroke="#9a9a9a" stroke-width="0.45" />
<rect x="184.32" y="187.04" width="5.62" height="6.14" fill="#9094d4" stroke="#9a9a9a" stroke-width="0.45" />
<rect x="189.94" y="187.04" width="5.62" height="6.14" fill="#b0b4e0" stroke="#9a9a9a" stroke-width="0.45" />
<rect x="195.57" y="187.04" width="5.62" height="6.14" fill="#c8cae8" stroke="#9a9a9a" stroke-width="0.45" />
<rect x="201.19" y="187.04" width="5.62" height="6.14" fill="#7078c4" stroke="#9a9a9a" stroke-width="0.45" />
<rect x="206.81" y="187.04" width="5.62" height="6.14" fill="#8088cc" stroke="#9a9a9a" stroke-width="0.45" />
<rect x="212.43" y="187.04" width="5.62" height="6.14" fill="#e86868" stroke="#9a9a9a" stroke-width="0.45" />
<rect x="218.06" y="187.04" width="5.62" height="6.14" fill="#ec7070" stroke="#9a9a9a" stroke-width="0.45" />
<rect x="223.68" y="187.04" width="5.62" height="6.14" fill="#e45858" stroke="#9a9a9a" stroke-width="0.45" />
<text x="231.00" y="192.51" font-size="6.9" fill="#333" font-style="italic" textLength="16.40" lengthAdjust="spacingAndGlyphs" >Tgm2</text>
<rect x="178.70" y="193.18" width="5.62" height="6.14" fill="#d0d2ee" stroke="#9a9a9a" stroke-width="0.45" />
<rect x="184.32" y="193.18" width="5.62" height="6.14" fill="#9ca0d8" stroke="#9a9a9a" stroke-width="0.45" />
<rect x="189.94" y="193.18" width="5.62" height="6.14" fill="#b0b4e0" stroke="#9a9a9a" stroke-width="0.45" />
<rect x="195.57" y="193.18" width="5.62" height="6.14" fill="#fde8e6" stroke="#9a9a9a" stroke-width="0.45" />
<rect x="201.19" y="193.18" width="5.62" height="6.14" fill="#8088cc" stroke="#9a9a9a" stroke-width="0.45" />
<rect x="206.81" y="193.18" width="5.62" height="6.14" fill="#2028a0" stroke="#9a9a9a" stroke-width="0.45" />
<rect x="212.43" y="193.18" width="5.62" height="6.14" fill="#ec8080" stroke="#9a9a9a" stroke-width="0.45" />
<rect x="218.06" y="193.18" width="5.62" height="6.14" fill="#ec8080" stroke="#9a9a9a" stroke-width="0.45" />
<rect x="223.68" y="193.18" width="5.62" height="6.14" fill="#e87070" stroke="#9a9a9a" stroke-width="0.45" />
<text x="231.00" y="198.65" font-size="6.9" fill="#333" font-style="italic" textLength="18.19" lengthAdjust="spacingAndGlyphs" >Acod1</text>
<rect x="178.70" y="199.32" width="5.62" height="6.14" fill="#f4f4fa" stroke="#9a9a9a" stroke-width="0.45" />
<rect x="184.32" y="199.32" width="5.62" height="6.14" fill="#e4e6f4" stroke="#9a9a9a" stroke-width="0.45" />
<rect x="189.94" y="199.32" width="5.62" height="6.14" fill="#e8eaf6" stroke="#9a9a9a" stroke-width="0.45" />
<rect x="195.57" y="199.32" width="5.62" height="6.14" fill="#e8eaf6" stroke="#9a9a9a" stroke-width="0.45" />
<rect x="201.19" y="199.32" width="5.62" height="6.14" fill="#5058b8" stroke="#9a9a9a" stroke-width="0.45" />
<rect x="206.81" y="199.32" width="5.62" height="6.14" fill="#000090" stroke="#9a9a9a" stroke-width="0.45" />
<rect x="212.43" y="199.32" width="5.62" height="6.14" fill="#f09898" stroke="#9a9a9a" stroke-width="0.45" />
<rect x="218.06" y="199.32" width="5.62" height="6.14" fill="#ec8080" stroke="#9a9a9a" stroke-width="0.45" />
<rect x="223.68" y="199.32" width="5.62" height="6.14" fill="#ec8080" stroke="#9a9a9a" stroke-width="0.45" />
<text x="231.00" y="204.79" font-size="6.9" fill="#333" font-style="italic" textLength="10.35" lengthAdjust="spacingAndGlyphs" >Il1a</text>
<rect x="178.70" y="205.46" width="5.62" height="6.14" fill="#7078c4" stroke="#9a9a9a" stroke-width="0.45" />
<rect x="184.32" y="205.46" width="5.62" height="6.14" fill="#7078c4" stroke="#9a9a9a" stroke-width="0.45" />
<rect x="189.94" y="205.46" width="5.62" height="6.14" fill="#e8eaf6" stroke="#9a9a9a" stroke-width="0.45" />
<rect x="195.57" y="205.46" width="5.62" height="6.14" fill="#e4e6f4" stroke="#9a9a9a" stroke-width="0.45" />
<rect x="201.19" y="205.46" width="5.62" height="6.14" fill="#9094d4" stroke="#9a9a9a" stroke-width="0.45" />
<rect x="206.81" y="205.46" width="5.62" height="6.14" fill="#8088cc" stroke="#9a9a9a" stroke-width="0.45" />
<rect x="212.43" y="205.46" width="5.62" height="6.14" fill="#e03030" stroke="#9a9a9a" stroke-width="0.45" />
<rect x="218.06" y="205.46" width="5.62" height="6.14" fill="#e85858" stroke="#9a9a9a" stroke-width="0.45" />
<rect x="223.68" y="205.46" width="5.62" height="6.14" fill="#fbe0e0" stroke="#9a9a9a" stroke-width="0.45" />
<text x="231.00" y="210.93" font-size="6.9" fill="#333" font-style="italic" textLength="22.12" lengthAdjust="spacingAndGlyphs" >Hspa1a</text>
<rect x="178.70" y="211.60" width="5.62" height="6.14" fill="#b0b4e0" stroke="#9a9a9a" stroke-width="0.45" />
<rect x="184.32" y="211.60" width="5.62" height="6.14" fill="#9094d4" stroke="#9a9a9a" stroke-width="0.45" />
<rect x="189.94" y="211.60" width="5.62" height="6.14" fill="#9094d4" stroke="#9a9a9a" stroke-width="0.45" />
<rect x="195.57" y="211.60" width="5.62" height="6.14" fill="#9ca0d8" stroke="#9a9a9a" stroke-width="0.45" />
<rect x="201.19" y="211.60" width="5.62" height="6.14" fill="#a8acdc" stroke="#9a9a9a" stroke-width="0.45" />
<rect x="206.81" y="211.60" width="5.62" height="6.14" fill="#8890d0" stroke="#9a9a9a" stroke-width="0.45" />
<rect x="212.43" y="211.60" width="5.62" height="6.14" fill="#e86868" stroke="#9a9a9a" stroke-width="0.45" />
<rect x="218.06" y="211.60" width="5.62" height="6.14" fill="#ec8080" stroke="#9a9a9a" stroke-width="0.45" />
<rect x="223.68" y="211.60" width="5.62" height="6.14" fill="#e86060" stroke="#9a9a9a" stroke-width="0.45" />
<text x="231.00" y="217.07" font-size="6.9" fill="#333" font-style="italic" textLength="11.77" lengthAdjust="spacingAndGlyphs" >Isy1</text>
<rect x="178.70" y="217.74" width="5.62" height="6.14" fill="#9ca0d8" stroke="#9a9a9a" stroke-width="0.45" />
<rect x="184.32" y="217.74" width="5.62" height="6.14" fill="#8890d0" stroke="#9a9a9a" stroke-width="0.45" />
<rect x="189.94" y="217.74" width="5.62" height="6.14" fill="#9094d4" stroke="#9a9a9a" stroke-width="0.45" />
<rect x="195.57" y="217.74" width="5.62" height="6.14" fill="#b0b4e0" stroke="#9a9a9a" stroke-width="0.45" />
<rect x="201.19" y="217.74" width="5.62" height="6.14" fill="#c0c4e8" stroke="#9a9a9a" stroke-width="0.45" />
<rect x="206.81" y="217.74" width="5.62" height="6.14" fill="#8890d0" stroke="#9a9a9a" stroke-width="0.45" />
<rect x="212.43" y="217.74" width="5.62" height="6.14" fill="#ec7070" stroke="#9a9a9a" stroke-width="0.45" />
<rect x="218.06" y="217.74" width="5.62" height="6.14" fill="#e86060" stroke="#9a9a9a" stroke-width="0.45" />
<rect x="223.68" y="217.74" width="5.62" height="6.14" fill="#e86868" stroke="#9a9a9a" stroke-width="0.45" />
<text x="231.00" y="223.21" font-size="6.9" fill="#333" font-style="italic" textLength="18.19" lengthAdjust="spacingAndGlyphs" >Nfkbie</text>
<rect x="178.70" y="223.88" width="5.62" height="6.14" fill="#fafafa" stroke="#9a9a9a" stroke-width="0.45" />
<rect x="184.32" y="223.88" width="5.62" height="6.14" fill="#fafafa" stroke="#9a9a9a" stroke-width="0.45" />
<rect x="189.94" y="223.88" width="5.62" height="6.14" fill="#fcd8d6" stroke="#9a9a9a" stroke-width="0.45" />
<rect x="195.57" y="223.88" width="5.62" height="6.14" fill="#3038a8" stroke="#9a9a9a" stroke-width="0.45" />
<rect x="201.19" y="223.88" width="5.62" height="6.14" fill="#4850b4" stroke="#9a9a9a" stroke-width="0.45" />
<rect x="206.81" y="223.88" width="5.62" height="6.14" fill="#8088cc" stroke="#9a9a9a" stroke-width="0.45" />
<rect x="212.43" y="223.88" width="5.62" height="6.14" fill="#e45858" stroke="#9a9a9a" stroke-width="0.45" />
<rect x="218.06" y="223.88" width="5.62" height="6.14" fill="#f09898" stroke="#9a9a9a" stroke-width="0.45" />
<rect x="223.68" y="223.88" width="5.62" height="6.14" fill="#fbe8e8" stroke="#9a9a9a" stroke-width="0.45" />
<text x="231.00" y="229.35" font-size="6.9" fill="#333" font-style="italic" textLength="14.98" lengthAdjust="spacingAndGlyphs" >Sftpb</text>
<rect x="178.70" y="230.02" width="5.62" height="6.14" fill="#fde0de" stroke="#9a9a9a" stroke-width="0.45" />
<rect x="184.32" y="230.02" width="5.62" height="6.14" fill="#fde0de" stroke="#9a9a9a" stroke-width="0.45" />
<rect x="189.94" y="230.02" width="5.62" height="6.14" fill="#fcd8d6" stroke="#9a9a9a" stroke-width="0.45" />
<rect x="195.57" y="230.02" width="5.62" height="6.14" fill="#8088cc" stroke="#9a9a9a" stroke-width="0.45" />
<rect x="201.19" y="230.02" width="5.62" height="6.14" fill="#4048b0" stroke="#9a9a9a" stroke-width="0.45" />
<rect x="206.81" y="230.02" width="5.62" height="6.14" fill="#000090" stroke="#9a9a9a" stroke-width="0.45" />
<rect x="212.43" y="230.02" width="5.62" height="6.14" fill="#f09898" stroke="#9a9a9a" stroke-width="0.45" />
<rect x="218.06" y="230.02" width="5.62" height="6.14" fill="#f09090" stroke="#9a9a9a" stroke-width="0.45" />
<rect x="223.68" y="230.02" width="5.62" height="6.14" fill="#f0a0a0" stroke="#9a9a9a" stroke-width="0.45" />
<text x="231.00" y="235.49" font-size="6.9" fill="#333" font-style="italic" textLength="16.41" lengthAdjust="spacingAndGlyphs" >Snai1</text>
<rect x="178.70" y="236.16" width="5.62" height="6.14" fill="#fde0de" stroke="#9a9a9a" stroke-width="0.45" />
<rect x="184.32" y="236.16" width="5.62" height="6.14" fill="#fde0de" stroke="#9a9a9a" stroke-width="0.45" />
<rect x="189.94" y="236.16" width="5.62" height="6.14" fill="#fafafa" stroke="#9a9a9a" stroke-width="0.45" />
<rect x="195.57" y="236.16" width="5.62" height="6.14" fill="#9094d4" stroke="#9a9a9a" stroke-width="0.45" />
<rect x="201.19" y="236.16" width="5.62" height="6.14" fill="#6068bc" stroke="#9a9a9a" stroke-width="0.45" />
<rect x="206.81" y="236.16" width="5.62" height="6.14" fill="#000080" stroke="#9a9a9a" stroke-width="0.45" />
<rect x="212.43" y="236.16" width="5.62" height="6.14" fill="#f0a0a0" stroke="#9a9a9a" stroke-width="0.45" />
<rect x="218.06" y="236.16" width="5.62" height="6.14" fill="#f0a8a8" stroke="#9a9a9a" stroke-width="0.45" />
<rect x="223.68" y="236.16" width="5.62" height="6.14" fill="#ec8080" stroke="#9a9a9a" stroke-width="0.45" />
<text x="231.00" y="241.63" font-size="6.9" fill="#333" font-style="italic" textLength="17.83" lengthAdjust="spacingAndGlyphs" >Thbs1</text>
<rect x="178.70" y="242.30" width="5.62" height="6.14" fill="#d0d2ee" stroke="#9a9a9a" stroke-width="0.45" />
<rect x="184.32" y="242.30" width="5.62" height="6.14" fill="#a0a4d8" stroke="#9a9a9a" stroke-width="0.45" />
<rect x="189.94" y="242.30" width="5.62" height="6.14" fill="#c0c4e8" stroke="#9a9a9a" stroke-width="0.45" />
<rect x="195.57" y="242.30" width="5.62" height="6.14" fill="#fafafa" stroke="#9a9a9a" stroke-width="0.45" />
<rect x="201.19" y="242.30" width="5.62" height="6.14" fill="#7078c4" stroke="#9a9a9a" stroke-width="0.45" />
<rect x="206.81" y="242.30" width="5.62" height="6.14" fill="#2028a0" stroke="#9a9a9a" stroke-width="0.45" />
<rect x="212.43" y="242.30" width="5.62" height="6.14" fill="#ec8080" stroke="#9a9a9a" stroke-width="0.45" />
<rect x="218.06" y="242.30" width="5.62" height="6.14" fill="#ec7070" stroke="#9a9a9a" stroke-width="0.45" />
<rect x="223.68" y="242.30" width="5.62" height="6.14" fill="#ec7070" stroke="#9a9a9a" stroke-width="0.45" />
<text x="231.00" y="247.77" font-size="6.9" fill="#333" font-style="italic" textLength="21.76" lengthAdjust="spacingAndGlyphs" >Vps37b</text>
<rect x="178.70" y="248.44" width="5.62" height="6.14" fill="#8088cc" stroke="#9a9a9a" stroke-width="0.45" />
<rect x="184.32" y="248.44" width="5.62" height="6.14" fill="#d0d2ee" stroke="#9a9a9a" stroke-width="0.45" />
<rect x="189.94" y="248.44" width="5.62" height="6.14" fill="#e8eaf6" stroke="#9a9a9a" stroke-width="0.45" />
<rect x="195.57" y="248.44" width="5.62" height="6.14" fill="#b0b4e0" stroke="#9a9a9a" stroke-width="0.45" />
<rect x="201.19" y="248.44" width="5.62" height="6.14" fill="#4048b0" stroke="#9a9a9a" stroke-width="0.45" />
<rect x="206.81" y="248.44" width="5.62" height="6.14" fill="#9094d4" stroke="#9a9a9a" stroke-width="0.45" />
<rect x="212.43" y="248.44" width="5.62" height="6.14" fill="#e45858" stroke="#9a9a9a" stroke-width="0.45" />
<rect x="218.06" y="248.44" width="5.62" height="6.14" fill="#ec7070" stroke="#9a9a9a" stroke-width="0.45" />
<rect x="223.68" y="248.44" width="5.62" height="6.14" fill="#f09898" stroke="#9a9a9a" stroke-width="0.45" />
<text x="231.00" y="253.91" font-size="6.9" fill="#333" font-style="italic" textLength="15.34" lengthAdjust="spacingAndGlyphs" >C1qa</text>
<rect x="178.70" y="254.58" width="5.62" height="6.14" fill="#d4d6ee" stroke="#9a9a9a" stroke-width="0.45" />
<rect x="184.32" y="254.58" width="5.62" height="6.14" fill="#a8acdc" stroke="#9a9a9a" stroke-width="0.45" />
<rect x="189.94" y="254.58" width="5.62" height="6.14" fill="#6870c0" stroke="#9a9a9a" stroke-width="0.45" />
<rect x="195.57" y="254.58" width="5.62" height="6.14" fill="#e4e6f4" stroke="#9a9a9a" stroke-width="0.45" />
<rect x="201.19" y="254.58" width="5.62" height="6.14" fill="#b0b4e0" stroke="#9a9a9a" stroke-width="0.45" />
<rect x="206.81" y="254.58" width="5.62" height="6.14" fill="#2028a0" stroke="#9a9a9a" stroke-width="0.45" />
<rect x="212.43" y="254.58" width="5.62" height="6.14" fill="#f09090" stroke="#9a9a9a" stroke-width="0.45" />
<rect x="218.06" y="254.58" width="5.62" height="6.14" fill="#e86060" stroke="#9a9a9a" stroke-width="0.45" />
<rect x="223.68" y="254.58" width="5.62" height="6.14" fill="#e45858" stroke="#9a9a9a" stroke-width="0.45" />
<text x="231.00" y="260.05" font-size="6.9" fill="#333" font-style="italic" textLength="17.48" lengthAdjust="spacingAndGlyphs" >Nr4a2</text>
<rect x="178.70" y="260.72" width="5.62" height="6.14" fill="#e4e6f4" stroke="#9a9a9a" stroke-width="0.45" />
<rect x="184.32" y="260.72" width="5.62" height="6.14" fill="#b0b4e0" stroke="#9a9a9a" stroke-width="0.45" />
<rect x="189.94" y="260.72" width="5.62" height="6.14" fill="#d0d2ee" stroke="#9a9a9a" stroke-width="0.45" />
<rect x="195.57" y="260.72" width="5.62" height="6.14" fill="#8088cc" stroke="#9a9a9a" stroke-width="0.45" />
<rect x="201.19" y="260.72" width="5.62" height="6.14" fill="#7078c4" stroke="#9a9a9a" stroke-width="0.45" />
<rect x="206.81" y="260.72" width="5.62" height="6.14" fill="#7078c4" stroke="#9a9a9a" stroke-width="0.45" />
<rect x="212.43" y="260.72" width="5.62" height="6.14" fill="#ec8080" stroke="#9a9a9a" stroke-width="0.45" />
<rect x="218.06" y="260.72" width="5.62" height="6.14" fill="#ec7070" stroke="#9a9a9a" stroke-width="0.45" />
<rect x="223.68" y="260.72" width="5.62" height="6.14" fill="#e86060" stroke="#9a9a9a" stroke-width="0.45" />
<text x="231.00" y="266.19" font-size="6.9" fill="#333" font-style="italic" textLength="18.55" lengthAdjust="spacingAndGlyphs" >Sh2b2</text>
<rect x="178.70" y="266.86" width="5.62" height="6.14" fill="#d0d2ee" stroke="#9a9a9a" stroke-width="0.45" />
<rect x="184.32" y="266.86" width="5.62" height="6.14" fill="#9094d4" stroke="#9a9a9a" stroke-width="0.45" />
<rect x="189.94" y="266.86" width="5.62" height="6.14" fill="#a8acdc" stroke="#9a9a9a" stroke-width="0.45" />
<rect x="195.57" y="266.86" width="5.62" height="6.14" fill="#9094d4" stroke="#9a9a9a" stroke-width="0.45" />
<rect x="201.19" y="266.86" width="5.62" height="6.14" fill="#8890d0" stroke="#9a9a9a" stroke-width="0.45" />
<rect x="206.81" y="266.86" width="5.62" height="6.14" fill="#8088cc" stroke="#9a9a9a" stroke-width="0.45" />
<rect x="212.43" y="266.86" width="5.62" height="6.14" fill="#e86060" stroke="#9a9a9a" stroke-width="0.45" />
<rect x="218.06" y="266.86" width="5.62" height="6.14" fill="#e86868" stroke="#9a9a9a" stroke-width="0.45" />
<rect x="223.68" y="266.86" width="5.62" height="6.14" fill="#e45858" stroke="#9a9a9a" stroke-width="0.45" />
<text x="231.00" y="272.33" font-size="6.9" fill="#333" font-style="italic" textLength="19.97" lengthAdjust="spacingAndGlyphs" >Txnrd1</text>
<text x="215.80" y="281.00" font-size="7.8" text-anchor="middle" stroke="#222" stroke-width="0.08" textLength="38.00" lengthAdjust="spacingAndGlyphs" >Row Z score</text>
<defs><linearGradient id="gD" x1="0" y1="0" x2="1" y2="0"><stop offset="0" stop-color="#00007a"/><stop offset="0.5" stop-color="#ffffff"/><stop offset="1" stop-color="#d01020"/></linearGradient></defs>
<rect x="178.30" y="284.20" width="72.70" height="4.30" fill="url(#gD)" />
<text x="184.30" y="291.60" font-size="7.8" stroke="#222" stroke-width="0.15" transform="rotate(90 184.30 291.60)" >−1.5</text>
<text x="193.30" y="291.60" font-size="7.8" stroke="#222" stroke-width="0.15" transform="rotate(90 193.30 291.60)" >−1</text>
<text x="202.80" y="291.60" font-size="7.8" stroke="#222" stroke-width="0.15" transform="rotate(90 202.80 291.60)" >−0.5</text>
<text x="211.90" y="291.60" font-size="7.8" stroke="#222" stroke-width="0.15" transform="rotate(90 211.90 291.60)" >0</text>
<text x="220.30" y="291.60" font-size="7.8" stroke="#222" stroke-width="0.15" transform="rotate(90 220.30 291.60)" >0.5</text>
<text x="229.60" y="291.60" font-size="7.8" stroke="#222" stroke-width="0.15" transform="rotate(90 229.60 291.60)" >1</text>
<text x="239.10" y="291.60" font-size="7.8" stroke="#222" stroke-width="0.15" transform="rotate(90 239.10 291.60)" >1.5</text>
<text x="282.50" y="131.60" font-size="10.5" fill="#000" font-weight="bold" >E</text>
<line x1="323.00" y1="147.40" x2="323.00" y2="199.90" stroke="#222" stroke-width="1.2" />
<line x1="322.50" y1="199.40" x2="348.90" y2="199.40" stroke="#222" stroke-width="1.2" />
<line x1="320.00" y1="151.20" x2="323.00" y2="151.20" stroke="#222" stroke-width="0.8" />
<text x="317.40" y="153.80" font-size="7.4" text-anchor="end" stroke="#222" stroke-width="0.18" textLength="4.40" lengthAdjust="spacingAndGlyphs" >3</text>
<line x1="320.00" y1="167.50" x2="323.00" y2="167.50" stroke="#222" stroke-width="0.8" />
<text x="317.40" y="170.10" font-size="7.4" text-anchor="end" stroke="#222" stroke-width="0.18" textLength="4.40" lengthAdjust="spacingAndGlyphs" >2</text>
<line x1="320.00" y1="183.40" x2="323.00" y2="183.40" stroke="#222" stroke-width="0.8" />
<text x="317.40" y="186.00" font-size="7.4" text-anchor="end" stroke="#222" stroke-width="0.18" textLength="4.40" lengthAdjust="spacingAndGlyphs" >1</text>
<line x1="320.00" y1="199.40" x2="323.00" y2="199.40" stroke="#222" stroke-width="0.8" />
<text x="317.40" y="202.00" font-size="7.4" text-anchor="end" stroke="#222" stroke-width="0.18" textLength="4.40" lengthAdjust="spacingAndGlyphs" >0</text>
<rect x="325.90" y="183.70" width="5.00" height="15.70" fill="#c8102e" />
<line x1="328.40" y1="183.70" x2="328.40" y2="180.10" stroke="#222" stroke-width="0.7" />
<line x1="327.20" y1="180.10" x2="329.60" y2="180.10" stroke="#222" stroke-width="0.7" />
<line x1="328.40" y1="199.40" x2="328.40" y2="201.90" stroke="#222" stroke-width="0.9" />
<rect x="340.30" y="162.60" width="5.40" height="36.80" fill="#3db54a" />
<line x1="343.00" y1="162.60" x2="343.00" y2="157.90" stroke="#222" stroke-width="0.7" />
<line x1="341.80" y1="157.90" x2="344.20" y2="157.90" stroke="#222" stroke-width="0.7" />
<line x1="343.00" y1="199.40" x2="343.00" y2="201.90" stroke="#222" stroke-width="0.9" />
<line x1="328.80" y1="155.20" x2="342.90" y2="155.20" stroke="#222" stroke-width="0.9" />
<text x="335.85" y="156.10" font-size="7.4" text-anchor="middle" fill="#222" stroke="#222" stroke-width="0.2" textLength="5.80" lengthAdjust="spacing">**</text>
<text x="330.90" y="209.60" font-size="8.2" text-anchor="end" stroke="#222" stroke-width="0.06" textLength="24.82" lengthAdjust="spacingAndGlyphs" transform="rotate(-45 330.90 209.60)" >Vehicle</text>
<text x="345.00" y="212.00" font-size="8.2" text-anchor="end" stroke="#222" stroke-width="0.06" textLength="19.25" lengthAdjust="spacingAndGlyphs" transform="rotate(-45 345.00 212.00)" >BALF</text>
<text x="291.80" y="174.35" font-size="9.3" text-anchor="middle" fill="#222" stroke="#222" stroke-width="0.08" transform="rotate(-90 291.80 174.35)" textLength="78.30" lengthAdjust="spacingAndGlyphs"><tspan font-style="italic">Cd14</tspan> mRNA expression</text>
<text x="304.30" y="173.55" font-size="9.3" text-anchor="middle" stroke="#222" stroke-width="0.08" textLength="45.30" lengthAdjust="spacingAndGlyphs" transform="rotate(-90 304.30 173.55)" >(fold change)</text>
<line x1="394.10" y1="147.40" x2="394.10" y2="199.90" stroke="#222" stroke-width="1.2" />
<line x1="393.60" y1="199.40" x2="419.50" y2="199.40" stroke="#222" stroke-width="1.2" />
<line x1="391.10" y1="151.20" x2="394.10" y2="151.20" stroke="#222" stroke-width="0.8" />
<text x="388.50" y="153.80" font-size="7.4" text-anchor="end" stroke="#222" stroke-width="0.18" textLength="4.40" lengthAdjust="spacingAndGlyphs" >3</text>
<line x1="391.10" y1="167.50" x2="394.10" y2="167.50" stroke="#222" stroke-width="0.8" />
<text x="388.50" y="170.10" font-size="7.4" text-anchor="end" stroke="#222" stroke-width="0.18" textLength="4.40" lengthAdjust="spacingAndGlyphs" >2</text>
<line x1="391.10" y1="183.40" x2="394.10" y2="183.40" stroke="#222" stroke-width="0.8" />
<text x="388.50" y="186.00" font-size="7.4" text-anchor="end" stroke="#222" stroke-width="0.18" textLength="4.40" lengthAdjust="spacingAndGlyphs" >1</text>
<line x1="391.10" y1="199.40" x2="394.10" y2="199.40" stroke="#222" stroke-width="0.8" />
<text x="388.50" y="202.00" font-size="7.4" text-anchor="end" stroke="#222" stroke-width="0.18" textLength="4.40" lengthAdjust="spacingAndGlyphs" >0</text>
<rect x="396.90" y="184.00" width="5.10" height="15.40" fill="#c8102e" />
<line x1="399.45" y1="184.00" x2="399.45" y2="180.10" stroke="#222" stroke-width="0.7" />
<line x1="398.25" y1="180.10" x2="400.65" y2="180.10" stroke="#222" stroke-width="0.7" />
<line x1="399.45" y1="199.40" x2="399.45" y2="201.90" stroke="#222" stroke-width="0.9" />
<rect x="411.70" y="163.90" width="5.10" height="35.50" fill="#3db54a" />
<line x1="414.25" y1="163.90" x2="414.25" y2="153.70" stroke="#222" stroke-width="0.7" />
<line x1="413.05" y1="153.70" x2="415.45" y2="153.70" stroke="#222" stroke-width="0.7" />
<line x1="414.25" y1="199.40" x2="414.25" y2="201.90" stroke="#222" stroke-width="0.9" />
<line x1="400.00" y1="151.20" x2="414.20" y2="151.20" stroke="#222" stroke-width="0.9" />
<text x="407.10" y="152.10" font-size="7.4" text-anchor="middle" fill="#222" stroke="#222" stroke-width="0.2" textLength="2.40" lengthAdjust="spacing">*</text>
<text x="402.00" y="209.60" font-size="8.2" text-anchor="end" stroke="#222" stroke-width="0.06" textLength="24.82" lengthAdjust="spacingAndGlyphs" transform="rotate(-45 402.00 209.60)" >Vehicle</text>
<text x="416.00" y="212.00" font-size="8.2" text-anchor="end" stroke="#222" stroke-width="0.06" textLength="19.25" lengthAdjust="spacingAndGlyphs" transform="rotate(-45 416.00 212.00)" >BALF</text>
<text x="366.80" y="173.55" font-size="9.3" text-anchor="middle" fill="#222" stroke="#222" stroke-width="0.08" transform="rotate(-90 366.80 173.55)" textLength="79.90" lengthAdjust="spacingAndGlyphs"><tspan font-style="italic">Tgm2</tspan> mRNA expression</text>
<text x="379.30" y="173.55" font-size="9.3" text-anchor="middle" stroke="#222" stroke-width="0.08" textLength="45.30" lengthAdjust="spacingAndGlyphs" transform="rotate(-90 379.30 173.55)" >(fold change)</text>
<line x1="323.00" y1="237.60" x2="323.00" y2="289.40" stroke="#222" stroke-width="1.2" />
<line x1="322.50" y1="288.90" x2="348.50" y2="288.90" stroke="#222" stroke-width="1.2" />
<line x1="320.00" y1="241.20" x2="323.00" y2="241.20" stroke="#222" stroke-width="0.8" />
<text x="317.40" y="243.80" font-size="7.4" text-anchor="end" stroke="#222" stroke-width="0.18" textLength="8.81" lengthAdjust="spacingAndGlyphs" >15</text>
<line x1="320.00" y1="257.10" x2="323.00" y2="257.10" stroke="#222" stroke-width="0.8" />
<text x="317.40" y="259.70" font-size="7.4" text-anchor="end" stroke="#222" stroke-width="0.18" textLength="8.81" lengthAdjust="spacingAndGlyphs" >10</text>
<line x1="320.00" y1="273.10" x2="323.00" y2="273.10" stroke="#222" stroke-width="0.8" />
<text x="317.40" y="275.70" font-size="7.4" text-anchor="end" stroke="#222" stroke-width="0.18" textLength="4.40" lengthAdjust="spacingAndGlyphs" >5</text>
<line x1="320.00" y1="288.90" x2="323.00" y2="288.90" stroke="#222" stroke-width="0.8" />
<text x="317.40" y="291.50" font-size="7.4" text-anchor="end" stroke="#222" stroke-width="0.18" textLength="4.40" lengthAdjust="spacingAndGlyphs" >0</text>
<rect x="325.90" y="286.00" width="5.00" height="2.90" fill="#c8102e" />
<line x1="328.40" y1="286.00" x2="328.40" y2="284.30" stroke="#222" stroke-width="0.7" />
<line x1="327.20" y1="284.30" x2="329.60" y2="284.30" stroke="#222" stroke-width="0.7" />
<line x1="328.40" y1="288.90" x2="328.40" y2="291.40" stroke="#222" stroke-width="0.9" />
<rect x="340.30" y="250.90" width="5.40" height="38.00" fill="#3db54a" />
<line x1="343.00" y1="250.90" x2="343.00" y2="249.80" stroke="#222" stroke-width="0.7" />
<line x1="341.80" y1="249.80" x2="344.20" y2="249.80" stroke="#222" stroke-width="0.7" />
<line x1="343.00" y1="288.90" x2="343.00" y2="291.40" stroke="#222" stroke-width="0.9" />
<line x1="328.50" y1="247.00" x2="342.90" y2="247.00" stroke="#222" stroke-width="0.9" />
<text x="335.70" y="247.90" font-size="7.4" text-anchor="middle" fill="#222" stroke="#222" stroke-width="0.2" textLength="12.60" lengthAdjust="spacing">****</text>
<text x="330.90" y="298.70" font-size="8.2" text-anchor="end" stroke="#222" stroke-width="0.06" textLength="24.82" lengthAdjust="spacingAndGlyphs" transform="rotate(-45 330.90 298.70)" >Vehicle</text>
<text x="345.00" y="301.00" font-size="8.2" text-anchor="end" stroke="#222" stroke-width="0.06" textLength="19.25" lengthAdjust="spacingAndGlyphs" transform="rotate(-45 345.00 301.00)" >BALF</text>
<text x="291.80" y="263.80" font-size="9.3" text-anchor="middle" fill="#222" stroke="#222" stroke-width="0.08" transform="rotate(-90 291.80 263.80)" textLength="82.20" lengthAdjust="spacingAndGlyphs"><tspan font-style="italic">Nr4a2</tspan> mRNA expression</text>
<text x="304.30" y="263.00" font-size="9.3" text-anchor="middle" stroke="#222" stroke-width="0.08" textLength="44.60" lengthAdjust="spacingAndGlyphs" transform="rotate(-90 304.30 263.00)" >(fold change)</text>
<line x1="394.10" y1="237.60" x2="394.10" y2="289.40" stroke="#222" stroke-width="1.2" />
<line x1="393.60" y1="288.90" x2="419.50" y2="288.90" stroke="#222" stroke-width="1.2" />
<line x1="391.10" y1="241.50" x2="394.10" y2="241.50" stroke="#222" stroke-width="0.8" />
<text x="388.50" y="244.10" font-size="7.4" text-anchor="end" stroke="#222" stroke-width="0.18" textLength="4.40" lengthAdjust="spacingAndGlyphs" >8</text>
<line x1="391.10" y1="253.20" x2="394.10" y2="253.20" stroke="#222" stroke-width="0.8" />
<text x="388.50" y="255.80" font-size="7.4" text-anchor="end" stroke="#222" stroke-width="0.18" textLength="4.40" lengthAdjust="spacingAndGlyphs" >6</text>
<line x1="391.10" y1="265.00" x2="394.10" y2="265.00" stroke="#222" stroke-width="0.8" />
<text x="388.50" y="267.60" font-size="7.4" text-anchor="end" stroke="#222" stroke-width="0.18" textLength="4.40" lengthAdjust="spacingAndGlyphs" >4</text>
<line x1="391.10" y1="277.20" x2="394.10" y2="277.20" stroke="#222" stroke-width="0.8" />
<text x="388.50" y="279.80" font-size="7.4" text-anchor="end" stroke="#222" stroke-width="0.18" textLength="4.40" lengthAdjust="spacingAndGlyphs" >2</text>
<line x1="391.10" y1="288.90" x2="394.10" y2="288.90" stroke="#222" stroke-width="0.8" />
<text x="388.50" y="291.50" font-size="7.4" text-anchor="end" stroke="#222" stroke-width="0.18" textLength="4.40" lengthAdjust="spacingAndGlyphs" >0</text>
<rect x="396.90" y="285.00" width="5.10" height="3.90" fill="#c8102e" />
<line x1="399.45" y1="285.00" x2="399.45" y2="281.40" stroke="#222" stroke-width="0.7" />
<line x1="398.25" y1="281.40" x2="400.65" y2="281.40" stroke="#222" stroke-width="0.7" />
<line x1="399.45" y1="288.90" x2="399.45" y2="291.40" stroke="#222" stroke-width="0.9" />
<rect x="411.70" y="250.10" width="5.10" height="38.80" fill="#3db54a" />
<line x1="414.25" y1="250.10" x2="414.25" y2="248.50" stroke="#222" stroke-width="0.7" />
<line x1="413.05" y1="248.50" x2="415.45" y2="248.50" stroke="#222" stroke-width="0.7" />
<line x1="414.25" y1="288.90" x2="414.25" y2="291.40" stroke="#222" stroke-width="0.9" />
<line x1="400.00" y1="246.20" x2="413.70" y2="246.20" stroke="#222" stroke-width="0.9" />
<text x="406.85" y="247.10" font-size="7.4" text-anchor="middle" fill="#222" stroke="#222" stroke-width="0.2" textLength="12.60" lengthAdjust="spacing">****</text>
<text x="402.00" y="298.70" font-size="8.2" text-anchor="end" stroke="#222" stroke-width="0.06" textLength="24.82" lengthAdjust="spacingAndGlyphs" transform="rotate(-45 402.00 298.70)" >Vehicle</text>
<text x="416.00" y="301.00" font-size="8.2" text-anchor="end" stroke="#222" stroke-width="0.06" textLength="19.25" lengthAdjust="spacingAndGlyphs" transform="rotate(-45 416.00 301.00)" >BALF</text>
<text x="366.80" y="263.80" font-size="9.3" text-anchor="middle" fill="#222" stroke="#222" stroke-width="0.08" transform="rotate(-90 366.80 263.80)" textLength="82.20" lengthAdjust="spacingAndGlyphs"><tspan font-style="italic">Nr4a3</tspan> mRNA expression</text>
<text x="379.30" y="263.00" font-size="9.3" text-anchor="middle" stroke="#222" stroke-width="0.08" textLength="44.60" lengthAdjust="spacingAndGlyphs" transform="rotate(-90 379.30 263.00)" >(fold change)</text>
<text x="444.40" y="131.20" font-size="10.5" fill="#000" font-weight="bold" >F</text>
<line x1="456.00" y1="134.40" x2="462.90" y2="134.40" stroke="#c8102e" stroke-width="1.1" />
<text x="466.70" y="137.00" font-size="7.4" fill="#111" stroke="#111" stroke-width="0.18" textLength="23.90" lengthAdjust="spacingAndGlyphs" >Vehicle</text>
<line x1="456.00" y1="144.00" x2="462.90" y2="144.00" stroke="#16528e" stroke-width="1.1" />
<text x="466.70" y="146.60" font-size="7.4" fill="#111" stroke="#111" stroke-width="0.18" textLength="11.70" lengthAdjust="spacingAndGlyphs" >IL-6</text>
<line x1="485.00" y1="144.00" x2="492.00" y2="144.00" stroke="#fd8c0a" stroke-width="1.1" />
<text x="494.90" y="146.60" font-size="7.4" fill="#111" stroke="#111" stroke-width="0.18" >PGE<tspan font-size="5" dy="1.8">2</tspan></text>
<rect x="452.10" y="150.50" width="56.60" height="60.10" fill="#fff" stroke="#111" stroke-width="1.3" />
<line x1="449.90" y1="152.00" x2="452.10" y2="152.00" stroke="#333" stroke-width="0.55" />
<line x1="449.90" y1="154.30" x2="452.10" y2="154.30" stroke="#333" stroke-width="0.55" />
<line x1="449.90" y1="156.60" x2="452.10" y2="156.60" stroke="#333" stroke-width="0.55" />
<line x1="449.90" y1="158.90" x2="452.10" y2="158.90" stroke="#333" stroke-width="0.55" />
<line x1="449.90" y1="161.20" x2="452.10" y2="161.20" stroke="#333" stroke-width="0.55" />
<line x1="449.90" y1="163.50" x2="452.10" y2="163.50" stroke="#333" stroke-width="0.55" />
<line x1="449.90" y1="165.80" x2="452.10" y2="165.80" stroke="#333" stroke-width="0.55" />
<line x1="449.90" y1="168.10" x2="452.10" y2="168.10" stroke="#333" stroke-width="0.55" />
<line x1="449.90" y1="170.40" x2="452.10" y2="170.40" stroke="#333" stroke-width="0.55" />
<line x1="449.90" y1="172.70" x2="452.10" y2="172.70" stroke="#333" stroke-width="0.55" />
<line x1="449.90" y1="175.00" x2="452.10" y2="175.00" stroke="#333" stroke-width="0.55" />
<line x1="449.90" y1="177.30" x2="452.10" y2="177.30" stroke="#333" stroke-width="0.55" />
<line x1="449.90" y1="179.60" x2="452.10" y2="179.60" stroke="#333" stroke-width="0.55" />
<line x1="449.90" y1="181.90" x2="452.10" y2="181.90" stroke="#333" stroke-width="0.55" />
<line x1="449.90" y1="184.20" x2="452.10" y2="184.20" stroke="#333" stroke-width="0.55" />
<line x1="449.90" y1="186.50" x2="452.10" y2="186.50" stroke="#333" stroke-width="0.55" />
<line x1="449.90" y1="188.80" x2="452.10" y2="188.80" stroke="#333" stroke-width="0.55" />
<line x1="449.90" y1="191.10" x2="452.10" y2="191.10" stroke="#333" stroke-width="0.55" />
<line x1="449.90" y1="193.40" x2="452.10" y2="193.40" stroke="#333" stroke-width="0.55" />
<line x1="449.90" y1="195.70" x2="452.10" y2="195.70" stroke="#333" stroke-width="0.55" />
<line x1="449.90" y1="198.00" x2="452.10" y2="198.00" stroke="#333" stroke-width="0.55" />
<line x1="449.90" y1="200.30" x2="452.10" y2="200.30" stroke="#333" stroke-width="0.55" />
<line x1="449.90" y1="202.60" x2="452.10" y2="202.60" stroke="#333" stroke-width="0.55" />
<line x1="449.90" y1="204.90" x2="452.10" y2="204.90" stroke="#333" stroke-width="0.55" />
<line x1="449.90" y1="207.20" x2="452.10" y2="207.20" stroke="#333" stroke-width="0.55" />
<line x1="449.90" y1="209.50" x2="452.10" y2="209.50" stroke="#333" stroke-width="0.55" />
<line x1="455.10" y1="210.60" x2="455.10" y2="211.80" stroke="#333" stroke-width="0.4" />
<line x1="457.30" y1="210.60" x2="457.30" y2="211.80" stroke="#333" stroke-width="0.4" />
<line x1="459.50" y1="210.60" x2="459.50" y2="211.80" stroke="#333" stroke-width="0.4" />
<line x1="461.70" y1="210.60" x2="461.70" y2="211.80" stroke="#333" stroke-width="0.4" />
<line x1="463.90" y1="210.60" x2="463.90" y2="211.80" stroke="#333" stroke-width="0.4" />
<line x1="466.10" y1="210.60" x2="466.10" y2="211.80" stroke="#333" stroke-width="0.4" />
<line x1="468.30" y1="210.60" x2="468.30" y2="211.80" stroke="#333" stroke-width="0.4" />
<line x1="470.50" y1="210.60" x2="470.50" y2="211.80" stroke="#333" stroke-width="0.4" />
<line x1="472.70" y1="210.60" x2="472.70" y2="211.80" stroke="#333" stroke-width="0.4" />
<line x1="474.90" y1="210.60" x2="474.90" y2="211.80" stroke="#333" stroke-width="0.4" />
<line x1="477.10" y1="210.60" x2="477.10" y2="211.80" stroke="#333" stroke-width="0.4" />
<line x1="479.30" y1="210.60" x2="479.30" y2="211.80" stroke="#333" stroke-width="0.4" />
<line x1="481.50" y1="210.60" x2="481.50" y2="211.80" stroke="#333" stroke-width="0.4" />
<line x1="483.70" y1="210.60" x2="483.70" y2="211.80" stroke="#333" stroke-width="0.4" />
<line x1="485.90" y1="210.60" x2="485.90" y2="211.80" stroke="#333" stroke-width="0.4" />
<line x1="488.10" y1="210.60" x2="488.10" y2="211.80" stroke="#333" stroke-width="0.4" />
<line x1="490.30" y1="210.60" x2="490.30" y2="211.80" stroke="#333" stroke-width="0.4" />
<line x1="492.50" y1="210.60" x2="492.50" y2="211.80" stroke="#333" stroke-width="0.4" />
<line x1="494.70" y1="210.60" x2="494.70" y2="211.80" stroke="#333" stroke-width="0.4" />
<line x1="496.90" y1="210.60" x2="496.90" y2="211.80" stroke="#333" stroke-width="0.4" />
<line x1="499.10" y1="210.60" x2="499.10" y2="211.80" stroke="#333" stroke-width="0.4" />
<line x1="501.30" y1="210.60" x2="501.30" y2="211.80" stroke="#333" stroke-width="0.4" />
<line x1="503.50" y1="210.60" x2="503.50" y2="211.80" stroke="#333" stroke-width="0.4" />
<line x1="505.70" y1="210.60" x2="505.70" y2="211.80" stroke="#333" stroke-width="0.4" />
<line x1="507.90" y1="210.60" x2="507.90" y2="211.80" stroke="#333" stroke-width="0.4" />
<path d="M485.00,210.40 L484.28,210.40 L483.56,210.40 L482.84,210.40 L482.12,210.40 L481.41,210.40 L480.69,210.40 L479.97,210.40 L479.25,210.40 L478.53,210.40 L477.81,210.40 L477.09,210.40 L476.38,210.40 L475.66,210.40 L474.94,210.40 L474.22,210.40 L473.50,210.40 L472.78,210.40 L472.06,210.40 L471.34,210.40 L470.62,210.40 L469.91,210.40 L469.19,210.40 L468.47,210.40 L467.75,210.40 L467.03,210.40 L466.31,210.40 L465.59,210.40 L464.88,210.40 L464.16,210.40 L463.44,210.40 L462.72,210.40 L462.00,210.40 L463.00,209.95 L464.00,209.50 L464.70,208.94 L465.40,208.11 L466.10,207.93 L466.80,206.36 L467.50,206.50 L468.25,205.34 L469.00,205.72 L469.75,205.28 L470.50,204.68 L471.20,205.04 L471.90,204.60 L472.60,204.54 L473.30,204.70 L474.00,203.71 L474.90,203.01 L475.80,202.96 L476.70,203.01 L477.47,201.34 L478.23,200.20 L479.00,199.99 L479.73,198.34 L480.45,196.73 L481.17,195.92 L481.90,193.89 L482.77,191.60 L483.63,188.34 L484.50,185.92 L485.37,182.73 L486.23,179.23 L487.10,175.56 L487.90,171.59 L488.70,168.47 L489.50,164.78 L490.80,159.56 L491.40,159.50 L492.30,162.40 L493.20,160.42 L494.00,166.65 L495.30,178.54 L496.60,190.43 L498.00,202.60 L499.00,208.94 L499.75,209.70 L500.50,210.40 L501.29,210.40 L502.07,210.40 L502.86,210.40 L503.64,210.40 L504.43,210.40 L505.21,210.40 L506.00,210.40" fill="none" stroke="#fd8c0a" stroke-width="1.0" stroke-linejoin="round"/>
<path d="M462.50,210.40 L463.70,207.73 L464.60,198.66 L465.50,189.90 L466.35,177.65 L467.20,164.99 L468.40,154.48 L469.10,159.26 L469.80,163.58 L471.00,171.94 L472.40,178.09 L473.27,179.50 L474.13,181.98 L475.00,182.45 L475.83,185.08 L476.67,186.75 L477.50,188.27 L478.40,190.72 L479.30,191.66 L480.20,193.66 L480.90,195.27 L481.60,195.98 L482.30,198.17 L483.00,198.68 L483.75,199.82 L484.50,200.96 L485.25,202.91 L486.00,203.94 L486.70,205.23 L487.40,206.34 L488.10,207.59 L488.80,208.85 L489.70,209.57 L490.60,210.40" fill="none" stroke="#16528e" stroke-width="1.0" stroke-linejoin="round"/>
<path d="M462.50,210.40 L463.70,207.64 L464.60,198.97 L465.50,189.61 L466.35,176.91 L467.20,164.97 L468.40,155.46 L469.10,158.96 L469.80,163.23 L471.00,172.31 L472.40,179.54 L473.27,180.72 L474.13,182.24 L475.00,183.81 L475.83,185.21 L476.67,187.52 L477.50,189.49 L478.40,190.37 L479.30,193.25 L480.20,194.87 L480.90,195.38 L481.60,196.99 L482.30,198.43 L483.00,199.99 L483.75,200.58 L484.50,202.03 L485.25,203.63 L486.00,204.76 L486.70,205.98 L487.40,206.46 L488.10,207.73 L488.80,208.25 L489.70,209.50 L490.60,210.40" fill="none" stroke="#c8102e" stroke-width="0.9" stroke-linejoin="round"/>
<text x="448.60" y="174.70" font-size="8.0" text-anchor="middle" fill="#111" stroke="#111" stroke-width="0.18" textLength="32.00" lengthAdjust="spacingAndGlyphs" transform="rotate(-90 448.60 174.70)" >% of max</text>
<line x1="445.20" y1="210.60" x2="445.20" y2="198.00" stroke="#111" stroke-width="1.3" />
<path d="M445.20,195.00 L442.30,200.20 L448.10,200.20 Z" fill="#111" />
<line x1="453.40" y1="219.20" x2="465.90" y2="219.20" stroke="#111" stroke-width="1.3" />
<path d="M468.90,219.20 L463.70,216.30 L463.70,222.10 Z" fill="#111" />
<text x="471.50" y="222.00" font-size="7.6" fill="#111" stroke="#111" stroke-width="0.18" textLength="20.80" lengthAdjust="spacingAndGlyphs" >CD14</text>
<line x1="474.10" y1="231.50" x2="474.10" y2="298.60" stroke="#222" stroke-width="1.2" />
<line x1="473.60" y1="298.10" x2="512.70" y2="298.10" stroke="#222" stroke-width="1.2" />
<line x1="471.10" y1="235.30" x2="474.10" y2="235.30" stroke="#222" stroke-width="0.8" />
<text x="468.50" y="237.90" font-size="7.4" text-anchor="end" stroke="#222" stroke-width="0.18" textLength="19.81" lengthAdjust="spacingAndGlyphs" >6,000</text>
<line x1="471.10" y1="256.40" x2="474.10" y2="256.40" stroke="#222" stroke-width="0.8" />
<text x="468.50" y="259.00" font-size="7.4" text-anchor="end" stroke="#222" stroke-width="0.18" textLength="19.81" lengthAdjust="spacingAndGlyphs" >4,000</text>
<line x1="471.10" y1="277.30" x2="474.10" y2="277.30" stroke="#222" stroke-width="0.8" />
<text x="468.50" y="279.90" font-size="7.4" text-anchor="end" stroke="#222" stroke-width="0.18" textLength="19.81" lengthAdjust="spacingAndGlyphs" >2,000</text>
<line x1="471.10" y1="298.10" x2="474.10" y2="298.10" stroke="#222" stroke-width="0.8" />
<text x="468.50" y="300.70" font-size="7.4" text-anchor="end" stroke="#222" stroke-width="0.18" textLength="4.40" lengthAdjust="spacingAndGlyphs" >0</text>
<rect x="476.70" y="291.00" width="4.30" height="7.10" fill="#c8102e" />
<line x1="478.85" y1="291.00" x2="478.85" y2="289.80" stroke="#222" stroke-width="0.7" />
<line x1="477.65" y1="289.80" x2="480.05" y2="289.80" stroke="#222" stroke-width="0.7" />
<line x1="478.85" y1="298.10" x2="478.85" y2="300.60" stroke="#222" stroke-width="0.9" />
<rect x="490.60" y="291.50" width="4.30" height="6.60" fill="#16528e" />
<line x1="492.75" y1="291.50" x2="492.75" y2="290.30" stroke="#222" stroke-width="0.7" />
<line x1="491.55" y1="290.30" x2="493.95" y2="290.30" stroke="#222" stroke-width="0.7" />
<line x1="492.75" y1="298.10" x2="492.75" y2="300.60" stroke="#222" stroke-width="0.9" />
<rect x="504.40" y="244.80" width="4.30" height="53.30" fill="#fd8c0a" />
<line x1="506.55" y1="244.80" x2="506.55" y2="243.60" stroke="#222" stroke-width="0.7" />
<line x1="505.35" y1="243.60" x2="507.75" y2="243.60" stroke="#222" stroke-width="0.7" />
<line x1="506.55" y1="298.10" x2="506.55" y2="300.60" stroke="#222" stroke-width="0.9" />
<line x1="479.30" y1="234.10" x2="506.10" y2="234.10" stroke="#222" stroke-width="0.9" />
<text x="492.70" y="235.00" font-size="7.4" text-anchor="middle" fill="#222" stroke="#222" stroke-width="0.2" textLength="12.60" lengthAdjust="spacing">****</text>
<line x1="492.60" y1="241.00" x2="506.10" y2="241.00" stroke="#222" stroke-width="0.9" />
<text x="499.35" y="241.90" font-size="7.4" text-anchor="middle" fill="#222" stroke="#222" stroke-width="0.2" textLength="12.60" lengthAdjust="spacing">****</text>
<text x="442.70" y="264.90" font-size="9.3" text-anchor="middle" stroke="#222" stroke-width="0.08" textLength="62.00" lengthAdjust="spacingAndGlyphs" transform="rotate(-90 442.70 264.90)" >Geo. mean (CD14)</text>
<text x="481.00" y="309.40" font-size="8.2" text-anchor="end" stroke="#222" stroke-width="0.06" textLength="24.82" lengthAdjust="spacingAndGlyphs" transform="rotate(-45 481.00 309.40)" >Vehicle</text>
<text x="494.90" y="309.40" font-size="8.2" text-anchor="end" stroke="#222" stroke-width="0.06" textLength="13.26" lengthAdjust="spacingAndGlyphs" transform="rotate(-45 494.90 309.40)" >IL-6</text>
<text x="511.3" y="313.7" font-size="8.2" fill="#222" stroke="#222" stroke-width="0.06" text-anchor="end" transform="rotate(-45 511.3 313.7)" textLength="19" lengthAdjust="spacingAndGlyphs">PGE<tspan font-size="5.5" dy="1.8">2</tspan></text>
<text x="7.60" y="456.60" font-size="10.5" fill="#000" font-weight="bold" >G</text>
<line x1="46.60" y1="475.60" x2="46.60" y2="529.50" stroke="#222" stroke-width="1.2" />
<line x1="46.10" y1="529.00" x2="89.60" y2="529.00" stroke="#222" stroke-width="1.2" />
<line x1="43.60" y1="478.00" x2="46.60" y2="478.00" stroke="#222" stroke-width="0.8" />
<text x="41.00" y="480.60" font-size="7.4" text-anchor="end" stroke="#222" stroke-width="0.18" textLength="8.81" lengthAdjust="spacingAndGlyphs" >10</text>
<line x1="43.60" y1="488.40" x2="46.60" y2="488.40" stroke="#222" stroke-width="0.8" />
<text x="41.00" y="491.00" font-size="7.4" text-anchor="end" stroke="#222" stroke-width="0.18" textLength="4.40" lengthAdjust="spacingAndGlyphs" >8</text>
<line x1="43.60" y1="498.50" x2="46.60" y2="498.50" stroke="#222" stroke-width="0.8" />
<text x="41.00" y="501.10" font-size="7.4" text-anchor="end" stroke="#222" stroke-width="0.18" textLength="4.40" lengthAdjust="spacingAndGlyphs" >6</text>
<line x1="43.60" y1="508.90" x2="46.60" y2="508.90" stroke="#222" stroke-width="0.8" />
<text x="41.00" y="511.50" font-size="7.4" text-anchor="end" stroke="#222" stroke-width="0.18" textLength="4.40" lengthAdjust="spacingAndGlyphs" >4</text>
<line x1="43.60" y1="519.00" x2="46.60" y2="519.00" stroke="#222" stroke-width="0.8" />
<text x="41.00" y="521.60" font-size="7.4" text-anchor="end" stroke="#222" stroke-width="0.18" textLength="4.40" lengthAdjust="spacingAndGlyphs" >2</text>
<line x1="43.60" y1="529.00" x2="46.60" y2="529.00" stroke="#222" stroke-width="0.8" />
<text x="41.00" y="531.60" font-size="7.4" text-anchor="end" stroke="#222" stroke-width="0.18" textLength="4.40" lengthAdjust="spacingAndGlyphs" >0</text>
<rect x="50.30" y="524.50" width="4.80" height="4.50" fill="#c8102e" />
<line x1="52.70" y1="524.50" x2="52.70" y2="522.30" stroke="#222" stroke-width="0.7" />
<line x1="51.50" y1="522.30" x2="53.90" y2="522.30" stroke="#222" stroke-width="0.7" />
<line x1="52.70" y1="529.00" x2="52.70" y2="531.50" stroke="#222" stroke-width="0.9" />
<rect x="58.80" y="524.50" width="4.80" height="4.50" fill="#3db54a" />
<line x1="61.20" y1="529.00" x2="61.20" y2="531.50" stroke="#222" stroke-width="0.9" />
<rect x="67.10" y="524.50" width="4.80" height="4.50" fill="#5a1f7c" />
<line x1="69.50" y1="524.50" x2="69.50" y2="522.00" stroke="#222" stroke-width="0.7" />
<line x1="68.30" y1="522.00" x2="70.70" y2="522.00" stroke="#222" stroke-width="0.7" />
<line x1="69.50" y1="529.00" x2="69.50" y2="531.50" stroke="#222" stroke-width="0.9" />
<rect x="75.80" y="497.00" width="4.80" height="32.00" fill="#fd8c0a" />
<line x1="78.20" y1="497.00" x2="78.20" y2="487.20" stroke="#222" stroke-width="0.7" />
<line x1="77.00" y1="487.20" x2="79.40" y2="487.20" stroke="#222" stroke-width="0.7" />
<line x1="78.20" y1="529.00" x2="78.20" y2="531.50" stroke="#222" stroke-width="0.9" />
<rect x="84.10" y="523.50" width="4.80" height="5.50" fill="#16528e" />
<line x1="86.50" y1="523.50" x2="86.50" y2="521.40" stroke="#222" stroke-width="0.7" />
<line x1="85.30" y1="521.40" x2="87.70" y2="521.40" stroke="#222" stroke-width="0.7" />
<line x1="86.50" y1="529.00" x2="86.50" y2="531.50" stroke="#222" stroke-width="0.9" />
<line x1="53.00" y1="474.70" x2="78.20" y2="474.70" stroke="#222" stroke-width="0.9" />
<text x="65.60" y="475.60" font-size="7.4" text-anchor="middle" fill="#222" stroke="#222" stroke-width="0.2" textLength="12.60" lengthAdjust="spacing">****</text>
<line x1="60.30" y1="479.90" x2="78.20" y2="479.90" stroke="#222" stroke-width="0.9" />
<text x="69.25" y="480.80" font-size="7.4" text-anchor="middle" fill="#222" stroke="#222" stroke-width="0.2" textLength="12.60" lengthAdjust="spacing">****</text>
<line x1="68.60" y1="484.80" x2="78.20" y2="484.80" stroke="#222" stroke-width="0.9" />
<text x="73.40" y="485.70" font-size="7.4" text-anchor="middle" fill="#222" stroke="#222" stroke-width="0.2" textLength="12.60" lengthAdjust="spacing">****</text>
<line x1="76.80" y1="470.70" x2="88.70" y2="470.70" stroke="#222" stroke-width="0.9" />
<text x="82.75" y="471.60" font-size="7.4" text-anchor="middle" fill="#222" stroke="#222" stroke-width="0.2" textLength="12.60" lengthAdjust="spacing">****</text>
<text x="16.00" y="502.20" font-size="9.3" text-anchor="middle" fill="#222" stroke="#222" stroke-width="0.08" transform="rotate(-90 16.00 502.20)" textLength="78.60" lengthAdjust="spacingAndGlyphs"><tspan font-style="italic">Cd14</tspan> mRNA expression</text>
<text x="27.90" y="502.10" font-size="9.3" text-anchor="middle" stroke="#222" stroke-width="0.08" textLength="42.20" lengthAdjust="spacingAndGlyphs" transform="rotate(-90 27.90 502.10)" >(fold change)</text>
<text x="55.20" y="533.30" font-size="8.2" text-anchor="end" stroke="#222" stroke-width="0.06" textLength="26.00" lengthAdjust="spacingAndGlyphs" transform="rotate(-90 55.20 533.30)" >Vehicle</text>
<text x="63.70" y="533.30" font-size="8.2" text-anchor="end" stroke="#222" stroke-width="0.06" textLength="29.30" lengthAdjust="spacingAndGlyphs" transform="rotate(-90 63.70 533.30)" >GM-CSF</text>
<text x="72.00" y="533.30" font-size="8.2" text-anchor="end" stroke="#222" stroke-width="0.06" textLength="22.00" lengthAdjust="spacingAndGlyphs" transform="rotate(-90 72.00 533.30)" >TGF-β</text>
<text x="80.70" y="533.30" font-size="8.2" fill="#222" stroke="#222" stroke-width="0.06" text-anchor="end" transform="rotate(-90 80.70 533.30)" textLength="18.2" lengthAdjust="spacingAndGlyphs">PGE<tspan font-size="5.5" dy="1.8">2</tspan></text>
<text x="89.00" y="533.30" font-size="8.2" text-anchor="end" stroke="#222" stroke-width="0.06" textLength="12.50" lengthAdjust="spacingAndGlyphs" transform="rotate(-90 89.00 533.30)" >IL-6</text>
<line x1="131.10" y1="473.80" x2="131.10" y2="529.50" stroke="#222" stroke-width="1.2" />
<line x1="130.60" y1="529.00" x2="175.90" y2="529.00" stroke="#222" stroke-width="1.2" />
<line x1="128.10" y1="478.40" x2="131.10" y2="478.40" stroke="#222" stroke-width="0.8" />
<text x="125.50" y="481.00" font-size="7.4" text-anchor="end" stroke="#222" stroke-width="0.18" textLength="4.40" lengthAdjust="spacingAndGlyphs" >5</text>
<line x1="128.10" y1="488.40" x2="131.10" y2="488.40" stroke="#222" stroke-width="0.8" />
<text x="125.50" y="491.00" font-size="7.4" text-anchor="end" stroke="#222" stroke-width="0.18" textLength="4.40" lengthAdjust="spacingAndGlyphs" >4</text>
<line x1="128.10" y1="498.90" x2="131.10" y2="498.90" stroke="#222" stroke-width="0.8" />
<text x="125.50" y="501.50" font-size="7.4" text-anchor="end" stroke="#222" stroke-width="0.18" textLength="4.40" lengthAdjust="spacingAndGlyphs" >3</text>
<line x1="128.10" y1="508.90" x2="131.10" y2="508.90" stroke="#222" stroke-width="0.8" />
<text x="125.50" y="511.50" font-size="7.4" text-anchor="end" stroke="#222" stroke-width="0.18" textLength="4.40" lengthAdjust="spacingAndGlyphs" >2</text>
<line x1="128.10" y1="519.00" x2="131.10" y2="519.00" stroke="#222" stroke-width="0.8" />
<text x="125.50" y="521.60" font-size="7.4" text-anchor="end" stroke="#222" stroke-width="0.18" textLength="4.40" lengthAdjust="spacingAndGlyphs" >1</text>
<line x1="128.10" y1="529.00" x2="131.10" y2="529.00" stroke="#222" stroke-width="0.8" />
<text x="125.50" y="531.60" font-size="7.4" text-anchor="end" stroke="#222" stroke-width="0.18" textLength="4.40" lengthAdjust="spacingAndGlyphs" >0</text>
<rect x="134.80" y="518.20" width="4.80" height="10.80" fill="#c8102e" />
<line x1="137.20" y1="518.20" x2="137.20" y2="514.60" stroke="#222" stroke-width="0.7" />
<line x1="136.00" y1="514.60" x2="138.40" y2="514.60" stroke="#222" stroke-width="0.7" />
<line x1="137.20" y1="529.00" x2="137.20" y2="531.50" stroke="#222" stroke-width="0.9" />
<rect x="143.20" y="519.30" width="4.80" height="9.70" fill="#3db54a" />
<line x1="145.60" y1="519.30" x2="145.60" y2="517.50" stroke="#222" stroke-width="0.7" />
<line x1="144.40" y1="517.50" x2="146.80" y2="517.50" stroke="#222" stroke-width="0.7" />
<line x1="145.60" y1="529.00" x2="145.60" y2="531.50" stroke="#222" stroke-width="0.9" />
<rect x="151.60" y="518.70" width="4.80" height="10.30" fill="#5a1f7c" />
<line x1="154.00" y1="518.70" x2="154.00" y2="514.60" stroke="#222" stroke-width="0.7" />
<line x1="152.80" y1="514.60" x2="155.20" y2="514.60" stroke="#222" stroke-width="0.7" />
<line x1="154.00" y1="529.00" x2="154.00" y2="531.50" stroke="#222" stroke-width="0.9" />
<rect x="160.20" y="494.00" width="4.80" height="35.00" fill="#fd8c0a" />
<line x1="162.60" y1="494.00" x2="162.60" y2="484.80" stroke="#222" stroke-width="0.7" />
<line x1="161.40" y1="484.80" x2="163.80" y2="484.80" stroke="#222" stroke-width="0.7" />
<line x1="162.60" y1="529.00" x2="162.60" y2="531.50" stroke="#222" stroke-width="0.9" />
<rect x="168.60" y="519.30" width="4.80" height="9.70" fill="#16528e" />
<line x1="171.00" y1="519.30" x2="171.00" y2="516.80" stroke="#222" stroke-width="0.7" />
<line x1="169.80" y1="516.80" x2="172.20" y2="516.80" stroke="#222" stroke-width="0.7" />
<line x1="171.00" y1="529.00" x2="171.00" y2="531.50" stroke="#222" stroke-width="0.9" />
<line x1="137.20" y1="473.30" x2="162.60" y2="473.30" stroke="#222" stroke-width="0.9" />
<text x="149.90" y="474.20" font-size="7.4" text-anchor="middle" fill="#222" stroke="#222" stroke-width="0.2" textLength="9.20" lengthAdjust="spacing">***</text>
<line x1="144.50" y1="478.40" x2="162.60" y2="478.40" stroke="#222" stroke-width="0.9" />
<text x="153.55" y="479.30" font-size="7.4" text-anchor="middle" fill="#222" stroke="#222" stroke-width="0.2" textLength="12.60" lengthAdjust="spacing">****</text>
<line x1="153.00" y1="483.50" x2="162.60" y2="483.50" stroke="#222" stroke-width="0.9" />
<text x="157.80" y="484.40" font-size="7.4" text-anchor="middle" fill="#222" stroke="#222" stroke-width="0.2" textLength="12.60" lengthAdjust="spacing">****</text>
<line x1="161.00" y1="468.90" x2="173.20" y2="468.90" stroke="#222" stroke-width="0.9" />
<text x="167.10" y="469.80" font-size="7.4" text-anchor="middle" fill="#222" stroke="#222" stroke-width="0.2" textLength="12.60" lengthAdjust="spacing">****</text>
<text x="104.50" y="501.55" font-size="9.3" text-anchor="middle" fill="#222" stroke="#222" stroke-width="0.08" transform="rotate(-90 104.50 501.55)" textLength="79.90" lengthAdjust="spacingAndGlyphs"><tspan font-style="italic">Tgm2</tspan> mRNA expression</text>
<text x="116.60" y="501.25" font-size="9.3" text-anchor="middle" stroke="#222" stroke-width="0.08" textLength="43.90" lengthAdjust="spacingAndGlyphs" transform="rotate(-90 116.60 501.25)" >(fold change)</text>
<text x="139.70" y="533.30" font-size="8.2" text-anchor="end" stroke="#222" stroke-width="0.06" textLength="26.00" lengthAdjust="spacingAndGlyphs" transform="rotate(-90 139.70 533.30)" >Vehicle</text>
<text x="148.10" y="533.30" font-size="8.2" text-anchor="end" stroke="#222" stroke-width="0.06" textLength="29.30" lengthAdjust="spacingAndGlyphs" transform="rotate(-90 148.10 533.30)" >GM-CSF</text>
<text x="156.50" y="533.30" font-size="8.2" text-anchor="end" stroke="#222" stroke-width="0.06" textLength="22.00" lengthAdjust="spacingAndGlyphs" transform="rotate(-90 156.50 533.30)" >TGF-β</text>
<text x="165.10" y="533.30" font-size="8.2" fill="#222" stroke="#222" stroke-width="0.06" text-anchor="end" transform="rotate(-90 165.10 533.30)" textLength="18.2" lengthAdjust="spacingAndGlyphs">PGE<tspan font-size="5.5" dy="1.8">2</tspan></text>
<text x="173.50" y="533.30" font-size="8.2" text-anchor="end" stroke="#222" stroke-width="0.06" textLength="12.50" lengthAdjust="spacingAndGlyphs" transform="rotate(-90 173.50 533.30)" >IL-6</text>
<line x1="46.60" y1="606.50" x2="46.60" y2="660.00" stroke="#222" stroke-width="1.2" />
<line x1="46.10" y1="659.50" x2="91.40" y2="659.50" stroke="#222" stroke-width="1.2" />
<line x1="43.60" y1="608.30" x2="46.60" y2="608.30" stroke="#222" stroke-width="0.8" />
<text x="41.00" y="610.90" font-size="7.4" text-anchor="end" stroke="#222" stroke-width="0.18" textLength="8.81" lengthAdjust="spacingAndGlyphs" >10</text>
<line x1="43.60" y1="618.80" x2="46.60" y2="618.80" stroke="#222" stroke-width="0.8" />
<text x="41.00" y="621.40" font-size="7.4" text-anchor="end" stroke="#222" stroke-width="0.18" textLength="4.40" lengthAdjust="spacingAndGlyphs" >8</text>
<line x1="43.60" y1="629.00" x2="46.60" y2="629.00" stroke="#222" stroke-width="0.8" />
<text x="41.00" y="631.60" font-size="7.4" text-anchor="end" stroke="#222" stroke-width="0.18" textLength="4.40" lengthAdjust="spacingAndGlyphs" >6</text>
<line x1="43.60" y1="639.00" x2="46.60" y2="639.00" stroke="#222" stroke-width="0.8" />
<text x="41.00" y="641.60" font-size="7.4" text-anchor="end" stroke="#222" stroke-width="0.18" textLength="4.40" lengthAdjust="spacingAndGlyphs" >4</text>
<line x1="43.60" y1="649.10" x2="46.60" y2="649.10" stroke="#222" stroke-width="0.8" />
<text x="41.00" y="651.70" font-size="7.4" text-anchor="end" stroke="#222" stroke-width="0.18" textLength="4.40" lengthAdjust="spacingAndGlyphs" >2</text>
<line x1="43.60" y1="659.50" x2="46.60" y2="659.50" stroke="#222" stroke-width="0.8" />
<text x="41.00" y="662.10" font-size="7.4" text-anchor="end" stroke="#222" stroke-width="0.18" textLength="4.40" lengthAdjust="spacingAndGlyphs" >0</text>
<rect x="50.30" y="653.10" width="4.80" height="6.40" fill="#c8102e" />
<line x1="52.70" y1="653.10" x2="52.70" y2="651.30" stroke="#222" stroke-width="0.7" />
<line x1="51.50" y1="651.30" x2="53.90" y2="651.30" stroke="#222" stroke-width="0.7" />
<line x1="52.70" y1="659.50" x2="52.70" y2="662.00" stroke="#222" stroke-width="0.9" />
<rect x="58.80" y="657.70" width="4.80" height="1.80" fill="#3db54a" />
<line x1="61.20" y1="657.70" x2="61.20" y2="656.00" stroke="#222" stroke-width="0.7" />
<line x1="60.00" y1="656.00" x2="62.40" y2="656.00" stroke="#222" stroke-width="0.7" />
<line x1="61.20" y1="659.50" x2="61.20" y2="662.00" stroke="#222" stroke-width="0.9" />
<rect x="67.10" y="656.80" width="4.80" height="2.70" fill="#5a1f7c" />
<line x1="69.50" y1="656.80" x2="69.50" y2="654.60" stroke="#222" stroke-width="0.7" />
<line x1="68.30" y1="654.60" x2="70.70" y2="654.60" stroke="#222" stroke-width="0.7" />
<line x1="69.50" y1="659.50" x2="69.50" y2="662.00" stroke="#222" stroke-width="0.9" />
<rect x="75.80" y="620.60" width="4.80" height="38.90" fill="#fd8c0a" />
<line x1="78.20" y1="620.60" x2="78.20" y2="612.00" stroke="#222" stroke-width="0.7" />
<line x1="77.00" y1="612.00" x2="79.40" y2="612.00" stroke="#222" stroke-width="0.7" />
<line x1="78.20" y1="659.50" x2="78.20" y2="662.00" stroke="#222" stroke-width="0.9" />
<rect x="84.10" y="654.00" width="4.80" height="5.50" fill="#16528e" />
<line x1="86.50" y1="654.00" x2="86.50" y2="652.20" stroke="#222" stroke-width="0.7" />
<line x1="85.30" y1="652.20" x2="87.70" y2="652.20" stroke="#222" stroke-width="0.7" />
<line x1="86.50" y1="659.50" x2="86.50" y2="662.00" stroke="#222" stroke-width="0.9" />
<line x1="53.00" y1="596.10" x2="78.20" y2="596.10" stroke="#222" stroke-width="0.9" />
<text x="65.60" y="597.00" font-size="7.4" text-anchor="middle" fill="#222" stroke="#222" stroke-width="0.2" textLength="12.60" lengthAdjust="spacing">****</text>
<line x1="60.30" y1="602.90" x2="78.20" y2="602.90" stroke="#222" stroke-width="0.9" />
<text x="69.25" y="603.80" font-size="7.4" text-anchor="middle" fill="#222" stroke="#222" stroke-width="0.2" textLength="12.60" lengthAdjust="spacing">****</text>
<line x1="68.60" y1="607.40" x2="78.20" y2="607.40" stroke="#222" stroke-width="0.9" />
<text x="73.40" y="608.30" font-size="7.4" text-anchor="middle" fill="#222" stroke="#222" stroke-width="0.2" textLength="12.60" lengthAdjust="spacing">****</text>
<line x1="76.80" y1="592.40" x2="88.70" y2="592.40" stroke="#222" stroke-width="0.9" />
<text x="82.75" y="593.30" font-size="7.4" text-anchor="middle" fill="#222" stroke="#222" stroke-width="0.2" textLength="12.60" lengthAdjust="spacing">****</text>
<text x="16.00" y="632.55" font-size="9.3" text-anchor="middle" fill="#222" stroke="#222" stroke-width="0.08" transform="rotate(-90 16.00 632.55)" textLength="79.50" lengthAdjust="spacingAndGlyphs"><tspan font-style="italic">Nr4a2</tspan> mRNA expression</text>
<text x="27.90" y="633.00" font-size="9.3" text-anchor="middle" stroke="#222" stroke-width="0.08" textLength="44.00" lengthAdjust="spacingAndGlyphs" transform="rotate(-90 27.90 633.00)" >(fold change)</text>
<text x="55.20" y="664.00" font-size="8.2" text-anchor="end" stroke="#222" stroke-width="0.06" textLength="26.00" lengthAdjust="spacingAndGlyphs" transform="rotate(-90 55.20 664.00)" >Vehicle</text>
<text x="63.70" y="664.00" font-size="8.2" text-anchor="end" stroke="#222" stroke-width="0.06" textLength="29.30" lengthAdjust="spacingAndGlyphs" transform="rotate(-90 63.70 664.00)" >GM-CSF</text>
<text x="72.00" y="664.00" font-size="8.2" text-anchor="end" stroke="#222" stroke-width="0.06" textLength="22.00" lengthAdjust="spacingAndGlyphs" transform="rotate(-90 72.00 664.00)" >TGF-β</text>
<text x="80.70" y="664.00" font-size="8.2" fill="#222" stroke="#222" stroke-width="0.06" text-anchor="end" transform="rotate(-90 80.70 664.00)" textLength="18.2" lengthAdjust="spacingAndGlyphs">PGE<tspan font-size="5.5" dy="1.8">2</tspan></text>
<text x="89.00" y="664.00" font-size="8.2" text-anchor="end" stroke="#222" stroke-width="0.06" textLength="12.50" lengthAdjust="spacingAndGlyphs" transform="rotate(-90 89.00 664.00)" >IL-6</text>
<line x1="130.60" y1="606.50" x2="130.60" y2="660.00" stroke="#222" stroke-width="1.2" />
<line x1="130.10" y1="659.50" x2="175.90" y2="659.50" stroke="#222" stroke-width="1.2" />
<line x1="127.60" y1="608.90" x2="130.60" y2="608.90" stroke="#222" stroke-width="0.8" />
<text x="125.00" y="611.50" font-size="7.4" text-anchor="end" stroke="#222" stroke-width="0.18" textLength="4.40" lengthAdjust="spacingAndGlyphs" >4</text>
<line x1="127.60" y1="621.70" x2="130.60" y2="621.70" stroke="#222" stroke-width="0.8" />
<text x="125.00" y="624.30" font-size="7.4" text-anchor="end" stroke="#222" stroke-width="0.18" textLength="4.40" lengthAdjust="spacingAndGlyphs" >3</text>
<line x1="127.60" y1="634.30" x2="130.60" y2="634.30" stroke="#222" stroke-width="0.8" />
<text x="125.00" y="636.90" font-size="7.4" text-anchor="end" stroke="#222" stroke-width="0.18" textLength="4.40" lengthAdjust="spacingAndGlyphs" >2</text>
<line x1="127.60" y1="646.70" x2="130.60" y2="646.70" stroke="#222" stroke-width="0.8" />
<text x="125.00" y="649.30" font-size="7.4" text-anchor="end" stroke="#222" stroke-width="0.18" textLength="4.40" lengthAdjust="spacingAndGlyphs" >1</text>
<line x1="127.60" y1="659.50" x2="130.60" y2="659.50" stroke="#222" stroke-width="0.8" />
<text x="125.00" y="662.10" font-size="7.4" text-anchor="end" stroke="#222" stroke-width="0.18" textLength="4.40" lengthAdjust="spacingAndGlyphs" >0</text>
<rect x="134.80" y="641.80" width="4.80" height="17.70" fill="#c8102e" />
<line x1="137.20" y1="641.80" x2="137.20" y2="630.30" stroke="#222" stroke-width="0.7" />
<line x1="136.00" y1="630.30" x2="138.40" y2="630.30" stroke="#222" stroke-width="0.7" />
<line x1="137.20" y1="659.50" x2="137.20" y2="662.00" stroke="#222" stroke-width="0.9" />
<rect x="143.20" y="646.70" width="4.80" height="12.80" fill="#3db54a" />
<line x1="145.60" y1="646.70" x2="145.60" y2="644.00" stroke="#222" stroke-width="0.7" />
<line x1="144.40" y1="644.00" x2="146.80" y2="644.00" stroke="#222" stroke-width="0.7" />
<line x1="145.60" y1="659.50" x2="145.60" y2="662.00" stroke="#222" stroke-width="0.9" />
<rect x="151.60" y="642.70" width="4.80" height="16.80" fill="#5a1f7c" />
<line x1="154.00" y1="642.70" x2="154.00" y2="636.30" stroke="#222" stroke-width="0.7" />
<line x1="152.80" y1="636.30" x2="155.20" y2="636.30" stroke="#222" stroke-width="0.7" />
<line x1="154.00" y1="659.50" x2="154.00" y2="662.00" stroke="#222" stroke-width="0.9" />
<rect x="160.20" y="621.70" width="4.80" height="37.80" fill="#fd8c0a" />
<line x1="162.60" y1="621.70" x2="162.60" y2="615.60" stroke="#222" stroke-width="0.7" />
<line x1="161.40" y1="615.60" x2="163.80" y2="615.60" stroke="#222" stroke-width="0.7" />
<line x1="162.60" y1="659.50" x2="162.60" y2="662.00" stroke="#222" stroke-width="0.9" />
<rect x="168.60" y="639.00" width="4.80" height="20.50" fill="#16528e" />
<line x1="171.00" y1="639.00" x2="171.00" y2="630.30" stroke="#222" stroke-width="0.7" />
<line x1="169.80" y1="630.30" x2="172.20" y2="630.30" stroke="#222" stroke-width="0.7" />
<line x1="171.00" y1="659.50" x2="171.00" y2="662.00" stroke="#222" stroke-width="0.9" />
<line x1="137.20" y1="602.90" x2="162.60" y2="602.90" stroke="#222" stroke-width="0.9" />
<text x="149.90" y="603.80" font-size="7.4" text-anchor="middle" fill="#222" stroke="#222" stroke-width="0.2" textLength="2.40" lengthAdjust="spacing">*</text>
<line x1="144.50" y1="608.00" x2="162.60" y2="608.00" stroke="#222" stroke-width="0.9" />
<text x="153.55" y="608.90" font-size="7.4" text-anchor="middle" fill="#222" stroke="#222" stroke-width="0.2" textLength="5.80" lengthAdjust="spacing">**</text>
<line x1="154.00" y1="612.90" x2="162.60" y2="612.90" stroke="#222" stroke-width="0.9" />
<text x="158.30" y="613.80" font-size="7.4" text-anchor="middle" fill="#222" stroke="#222" stroke-width="0.2" textLength="5.80" lengthAdjust="spacing">**</text>
<line x1="163.10" y1="598.80" x2="171.00" y2="598.80" stroke="#222" stroke-width="0.9" />
<text x="167.05" y="599.70" font-size="7.4" text-anchor="middle" fill="#222" stroke="#222" stroke-width="0.2" textLength="2.40" lengthAdjust="spacing">*</text>
<text x="104.50" y="633.00" font-size="9.3" text-anchor="middle" fill="#222" stroke="#222" stroke-width="0.08" transform="rotate(-90 104.50 633.00)" textLength="80.40" lengthAdjust="spacingAndGlyphs"><tspan font-style="italic">Nr4a3</tspan> mRNA expression</text>
<text x="116.60" y="633.00" font-size="9.3" text-anchor="middle" stroke="#222" stroke-width="0.08" textLength="44.00" lengthAdjust="spacingAndGlyphs" transform="rotate(-90 116.60 633.00)" >(fold change)</text>
<text x="139.70" y="664.00" font-size="8.2" text-anchor="end" stroke="#222" stroke-width="0.06" textLength="26.00" lengthAdjust="spacingAndGlyphs" transform="rotate(-90 139.70 664.00)" >Vehicle</text>
<text x="148.10" y="664.00" font-size="8.2" text-anchor="end" stroke="#222" stroke-width="0.06" textLength="29.30" lengthAdjust="spacingAndGlyphs" transform="rotate(-90 148.10 664.00)" >GM-CSF</text>
<text x="156.50" y="664.00" font-size="8.2" text-anchor="end" stroke="#222" stroke-width="0.06" textLength="22.00" lengthAdjust="spacingAndGlyphs" transform="rotate(-90 156.50 664.00)" >TGF-β</text>
<text x="165.10" y="664.00" font-size="8.2" fill="#222" stroke="#222" stroke-width="0.06" text-anchor="end" transform="rotate(-90 165.10 664.00)" textLength="18.2" lengthAdjust="spacingAndGlyphs">PGE<tspan font-size="5.5" dy="1.8">2</tspan></text>
<text x="173.50" y="664.00" font-size="8.2" text-anchor="end" stroke="#222" stroke-width="0.06" textLength="12.50" lengthAdjust="spacingAndGlyphs" transform="rotate(-90 173.50 664.00)" >IL-6</text>
<text x="279.50" y="352.00" font-size="10.5" fill="#000" font-weight="bold" >H</text>
<text x="331.90" y="366.50" font-size="8.2" text-anchor="middle" stroke="#222" stroke-width="0.1" textLength="85.40" lengthAdjust="spacingAndGlyphs" >Chemnitz_response_to_</text>
<text x="332.90" y="375.30" font-size="8.2" text-anchor="middle" stroke="#222" stroke-width="0.1" textLength="75.00" lengthAdjust="spacingAndGlyphs" >prostaglandin_E2_up</text>
<rect x="290.00" y="378.80" width="82.70" height="35.20" fill="#fff" stroke="#bbb" stroke-width="0.5" />
<line x1="300.30" y1="379.00" x2="300.30" y2="414.00" stroke="#eee" stroke-width="0.4" />
<line x1="310.60" y1="379.00" x2="310.60" y2="414.00" stroke="#eee" stroke-width="0.4" />
<line x1="321.00" y1="379.00" x2="321.00" y2="414.00" stroke="#eee" stroke-width="0.4" />
<line x1="331.30" y1="379.00" x2="331.30" y2="414.00" stroke="#eee" stroke-width="0.4" />
<line x1="341.60" y1="379.00" x2="341.60" y2="414.00" stroke="#eee" stroke-width="0.4" />
<line x1="352.00" y1="379.00" x2="352.00" y2="414.00" stroke="#eee" stroke-width="0.4" />
<line x1="362.30" y1="379.00" x2="362.30" y2="414.00" stroke="#eee" stroke-width="0.4" />
<line x1="290.00" y1="408.30" x2="372.70" y2="408.30" stroke="#999" stroke-width="0.5" />
<path d="M290.60,408.30 L291.30,401.00 L292.50,397.70 L294.00,395.50 L296.30,392.90 L298.00,393.50 L299.50,391.00 L301.20,389.00 L303.00,385.00 L305.00,381.30 L306.50,382.00 L308.50,384.20 L310.50,381.50 L312.70,380.40 L315.00,381.00 L318.50,382.70 L323.00,386.50 L328.00,390.40 L333.00,394.50 L337.70,397.70 L341.00,400.00 L343.50,401.20 L345.50,400.20 L347.30,400.00 L350.00,401.00 L353.00,402.50 L356.00,405.50 L359.80,410.80 L362.00,411.50 L363.70,412.10 L365.00,410.50 L366.50,409.20 L368.00,410.80 L369.40,410.20 L370.50,408.50 L372.00,407.00" fill="none" stroke="#30e030" stroke-width="1.3" stroke-linejoin="round"/>
<rect x="290.00" y="414.50" width="82.70" height="12.00" fill="#fff" stroke="#ccc" stroke-width="0.4" />
<line x1="290.50" y1="415.00" x2="290.50" y2="426.50" stroke="#666" stroke-width="0.4" />
<line x1="291.25" y1="415.00" x2="291.25" y2="426.50" stroke="#aaa" stroke-width="0.4" />
<line x1="292.00" y1="415.00" x2="292.00" y2="426.50" stroke="#888" stroke-width="0.4" />
<line x1="292.75" y1="415.00" x2="292.75" y2="426.50" stroke="#666" stroke-width="0.7" />
<line x1="294.25" y1="415.00" x2="294.25" y2="426.50" stroke="#aaa" stroke-width="0.4" />
<line x1="295.00" y1="415.00" x2="295.00" y2="426.50" stroke="#444" stroke-width="0.4" />
<line x1="296.50" y1="415.00" x2="296.50" y2="426.50" stroke="#666" stroke-width="0.4" />
<line x1="297.25" y1="415.00" x2="297.25" y2="426.50" stroke="#666" stroke-width="0.4" />
<line x1="298.75" y1="415.00" x2="298.75" y2="426.50" stroke="#666" stroke-width="0.4" />
<line x1="300.25" y1="415.00" x2="300.25" y2="426.50" stroke="#222" stroke-width="0.4" />
<line x1="301.75" y1="415.00" x2="301.75" y2="426.50" stroke="#222" stroke-width="0.4" />
<line x1="304.00" y1="415.00" x2="304.00" y2="426.50" stroke="#666" stroke-width="0.7" />
<line x1="306.25" y1="415.00" x2="306.25" y2="426.50" stroke="#666" stroke-width="0.4" />
<line x1="307.75" y1="415.00" x2="307.75" y2="426.50" stroke="#666" stroke-width="0.4" />
<line x1="308.50" y1="415.00" x2="308.50" y2="426.50" stroke="#444" stroke-width="0.4" />
<line x1="309.25" y1="415.00" x2="309.25" y2="426.50" stroke="#666" stroke-width="0.4" />
<line x1="310.75" y1="415.00" x2="310.75" y2="426.50" stroke="#666" stroke-width="0.7" />
<line x1="314.50" y1="415.00" x2="314.50" y2="426.50" stroke="#888" stroke-width="0.4" />
<line x1="316.00" y1="415.00" x2="316.00" y2="426.50" stroke="#222" stroke-width="0.4" />
<line x1="318.25" y1="415.00" x2="318.25" y2="426.50" stroke="#444" stroke-width="0.7" />
<line x1="319.00" y1="415.00" x2="319.00" y2="426.50" stroke="#444" stroke-width="0.4" />
<line x1="319.75" y1="415.00" x2="319.75" y2="426.50" stroke="#666" stroke-width="0.4" />
<line x1="321.25" y1="415.00" x2="321.25" y2="426.50" stroke="#444" stroke-width="0.4" />
<line x1="322.75" y1="415.00" x2="322.75" y2="426.50" stroke="#222" stroke-width="0.4" />
<line x1="323.50" y1="415.00" x2="323.50" y2="426.50" stroke="#666" stroke-width="0.4" />
<line x1="324.25" y1="415.00" x2="324.25" y2="426.50" stroke="#444" stroke-width="0.7" />
<line x1="325.00" y1="415.00" x2="325.00" y2="426.50" stroke="#444" stroke-width="0.4" />
<line x1="325.75" y1="415.00" x2="325.75" y2="426.50" stroke="#444" stroke-width="0.4" />
<line x1="326.50" y1="415.00" x2="326.50" y2="426.50" stroke="#888" stroke-width="0.7" />
<line x1="331.75" y1="415.00" x2="331.75" y2="426.50" stroke="#222" stroke-width="0.4" />
<line x1="334.75" y1="415.00" x2="334.75" y2="426.50" stroke="#444" stroke-width="0.4" />
<line x1="336.25" y1="415.00" x2="336.25" y2="426.50" stroke="#aaa" stroke-width="0.4" />
<line x1="337.75" y1="415.00" x2="337.75" y2="426.50" stroke="#666" stroke-width="0.4" />
<line x1="338.50" y1="415.00" x2="338.50" y2="426.50" stroke="#222" stroke-width="0.4" />
<line x1="339.25" y1="415.00" x2="339.25" y2="426.50" stroke="#666" stroke-width="0.7" />
<line x1="341.50" y1="415.00" x2="341.50" y2="426.50" stroke="#888" stroke-width="0.4" />
<line x1="343.00" y1="415.00" x2="343.00" y2="426.50" stroke="#666" stroke-width="0.4" />
<line x1="343.75" y1="415.00" x2="343.75" y2="426.50" stroke="#888" stroke-width="0.4" />
<line x1="344.50" y1="415.00" x2="344.50" y2="426.50" stroke="#aaa" stroke-width="0.4" />
<line x1="346.75" y1="415.00" x2="346.75" y2="426.50" stroke="#888" stroke-width="0.4" />
<line x1="348.25" y1="415.00" x2="348.25" y2="426.50" stroke="#222" stroke-width="0.4" />
<line x1="354.25" y1="415.00" x2="354.25" y2="426.50" stroke="#aaa" stroke-width="0.4" />
<line x1="355.75" y1="415.00" x2="355.75" y2="426.50" stroke="#888" stroke-width="0.7" />
<line x1="356.50" y1="415.00" x2="356.50" y2="426.50" stroke="#444" stroke-width="0.4" />
<line x1="358.75" y1="415.00" x2="358.75" y2="426.50" stroke="#888" stroke-width="0.4" />
<line x1="359.50" y1="415.00" x2="359.50" y2="426.50" stroke="#aaa" stroke-width="0.7" />
<line x1="371.50" y1="415.00" x2="371.50" y2="426.50" stroke="#aaa" stroke-width="0.7" />
<rect x="290.00" y="426.80" width="13.05" height="2.60" fill="#e84048" />
<rect x="303.00" y="426.80" width="13.05" height="2.60" fill="#e85868" />
<rect x="316.00" y="426.80" width="11.05" height="2.60" fill="#e8a8d8" />
<rect x="327.00" y="426.80" width="10.05" height="2.60" fill="#d4ccf2" />
<rect x="337.00" y="426.80" width="9.05" height="2.60" fill="#bcb8f0" />
<rect x="346.00" y="426.80" width="10.05" height="2.60" fill="#8a86ee" />
<rect x="356.00" y="426.80" width="10.05" height="2.60" fill="#4a44e0" />
<rect x="366.00" y="426.80" width="6.75" height="2.60" fill="#1c18b0" />
<text x="349.20" y="384.60" font-size="6.0" stroke="#222" stroke-width="0.05" textLength="21.50" lengthAdjust="spacingAndGlyphs" >NES:1.31</text>
<text x="349.20" y="391.20" font-size="6.0" stroke="#222" stroke-width="0.05" textLength="25.50" lengthAdjust="spacingAndGlyphs" >P val&lt;0.05</text>
<text x="349.20" y="397.80" font-size="6.0" stroke="#222" stroke-width="0.05" textLength="21.50" lengthAdjust="spacingAndGlyphs" >FDR:0.18</text>
<text x="290.30" y="438.40" font-size="8.2" stroke="#222" stroke-width="0.08" textLength="9.80" lengthAdjust="spacingAndGlyphs" >LN</text>
<text x="366.30" y="438.40" font-size="8.2" stroke="#222" stroke-width="0.08" textLength="10.50" lengthAdjust="spacingAndGlyphs" >BN</text>
<text x="159.40" y="346.80" font-size="10.5" fill="#000" font-weight="bold" >I</text>
<defs><linearGradient id="gI" x1="0" y1="0" x2="0" y2="1"><stop offset="0" stop-color="#fff200"/><stop offset="0.5" stop-color="#ffffff"/><stop offset="1" stop-color="#0010e8"/></linearGradient></defs>
<rect x="170.00" y="363.50" width="3.80" height="44.20" fill="url(#gI)" stroke="#666" stroke-width="0.3" />
<line x1="173.80" y1="372.50" x2="175.60" y2="372.50" stroke="#333" stroke-width="0.6" />
<line x1="173.80" y1="385.00" x2="175.60" y2="385.00" stroke="#333" stroke-width="0.6" />
<line x1="173.80" y1="396.50" x2="175.60" y2="396.50" stroke="#333" stroke-width="0.6" />
<text x="183.80" y="372.50" font-size="7.2" text-anchor="middle" stroke="#222" stroke-width="0.18" transform="rotate(-90 183.80 372.50)" >5</text>
<text x="183.80" y="396.50" font-size="7.2" text-anchor="middle" stroke="#222" stroke-width="0.18" transform="rotate(-90 183.80 396.50)" >−5</text>
<text x="166.3" y="386" font-size="8.2" text-anchor="middle" fill="#222" stroke="#222" stroke-width="0.1" transform="rotate(-90 166.3 386)">log<tspan font-size="5.5" dy="1.5">2</tspan><tspan dy="-1.5" font-style="italic">FC</tspan></text>
<rect x="197.80" y="358.80" width="16.40" height="1.55" fill="#fff875" />
<rect x="214.20" y="358.80" width="16.10" height="1.55" fill="#fff75d" />
<rect x="197.80" y="360.30" width="16.40" height="1.55" fill="#fff767" />
<rect x="214.20" y="360.30" width="16.10" height="1.55" fill="#fff760" />
<rect x="197.80" y="361.80" width="16.40" height="1.55" fill="#fff76c" />
<rect x="214.20" y="361.80" width="16.10" height="1.55" fill="#fff654" />
<rect x="197.80" y="363.30" width="16.40" height="1.55" fill="#fff880" />
<rect x="214.20" y="363.30" width="16.10" height="1.55" fill="#fff64e" />
<rect x="197.80" y="364.80" width="16.40" height="1.55" fill="#fff881" />
<rect x="214.20" y="364.80" width="16.10" height="1.55" fill="#fff651" />
<rect x="197.80" y="366.30" width="16.40" height="0.75" fill="#fff87f" />
<rect x="214.20" y="366.30" width="16.10" height="0.75" fill="#fff75f" />
<rect x="197.80" y="367.00" width="16.40" height="1.55" fill="#fffde1" />
<rect x="214.20" y="367.00" width="16.10" height="1.55" fill="#fff535" />
<rect x="197.80" y="368.50" width="16.40" height="1.55" fill="#fffeea" />
<rect x="214.20" y="368.50" width="16.10" height="1.55" fill="#fff648" />
<rect x="197.80" y="370.00" width="16.40" height="1.55" fill="#fffdda" />
<rect x="214.20" y="370.00" width="16.10" height="1.55" fill="#fff531" />
<rect x="197.80" y="371.50" width="16.40" height="1.55" fill="#fffddc" />
<rect x="214.20" y="371.50" width="16.10" height="1.55" fill="#fff542" />
<rect x="197.80" y="373.00" width="16.40" height="1.55" fill="#fffcd0" />
<rect x="214.20" y="373.00" width="16.10" height="1.55" fill="#fff64d" />
<rect x="197.80" y="374.50" width="16.40" height="1.55" fill="#fffcd3" />
<rect x="214.20" y="374.50" width="16.10" height="1.55" fill="#fff646" />
<rect x="197.80" y="376.00" width="16.40" height="1.55" fill="#fffde9" />
<rect x="214.20" y="376.00" width="16.10" height="1.55" fill="#fff64b" />
<rect x="197.80" y="377.50" width="16.40" height="1.35" fill="#fffde4" />
<rect x="214.20" y="377.50" width="16.10" height="1.35" fill="#fff535" />
<rect x="197.80" y="378.80" width="16.40" height="1.55" fill="#c5c9f5" />
<rect x="214.20" y="378.80" width="16.10" height="1.55" fill="#dfe1f9" />
<rect x="197.80" y="380.30" width="16.40" height="1.55" fill="#c0c4f4" />
<rect x="214.20" y="380.30" width="16.10" height="1.55" fill="#e1e3fa" />
<rect x="197.80" y="381.80" width="16.40" height="1.55" fill="#c1c5f4" />
<rect x="214.20" y="381.80" width="16.10" height="1.55" fill="#e5e6fa" />
<rect x="197.80" y="383.30" width="16.40" height="1.55" fill="#c6caf5" />
<rect x="214.20" y="383.30" width="16.10" height="1.55" fill="#e3e5fa" />
<rect x="197.80" y="384.80" width="16.40" height="0.25" fill="#c0c4f4" />
<rect x="214.20" y="384.80" width="16.10" height="0.25" fill="#e1e3fa" />
<rect x="197.80" y="385.00" width="16.40" height="1.55" fill="#eeeffc" />
<rect x="214.20" y="385.00" width="16.10" height="1.55" fill="#c1c5f4" />
<rect x="197.80" y="386.50" width="16.40" height="1.55" fill="#ecedfb" />
<rect x="214.20" y="386.50" width="16.10" height="1.55" fill="#c4c7f5" />
<rect x="197.80" y="388.00" width="16.40" height="1.55" fill="#e6e8fa" />
<rect x="214.20" y="388.00" width="16.10" height="1.55" fill="#c0c4f4" />
<rect x="197.80" y="389.50" width="16.40" height="1.55" fill="#eff0fc" />
<rect x="214.20" y="389.50" width="16.10" height="1.55" fill="#c1c5f4" />
<rect x="197.80" y="391.00" width="16.40" height="1.55" fill="#eaecfb" />
<rect x="214.20" y="391.00" width="16.10" height="1.55" fill="#bec2f4" />
<rect x="197.80" y="392.50" width="16.40" height="1.55" fill="#e7e9fb" />
<rect x="214.20" y="392.50" width="16.10" height="1.55" fill="#c4c8f5" />
<rect x="197.80" y="394.00" width="16.40" height="1.55" fill="#e4e5fa" />
<rect x="214.20" y="394.00" width="16.10" height="1.55" fill="#c6c9f5" />
<rect x="197.80" y="395.50" width="16.40" height="1.55" fill="#ecedfb" />
<rect x="214.20" y="395.50" width="16.10" height="1.55" fill="#bfc3f4" />
<rect x="197.80" y="397.00" width="16.40" height="1.55" fill="#f0f1fc" />
<rect x="214.20" y="397.00" width="16.10" height="1.55" fill="#c2c6f4" />
<rect x="197.80" y="398.50" width="16.40" height="1.55" fill="#f2f3fc" />
<rect x="214.20" y="398.50" width="16.10" height="1.55" fill="#c0c4f4" />
<rect x="197.80" y="400.00" width="16.40" height="1.05" fill="#e7e8fb" />
<rect x="214.20" y="400.00" width="16.10" height="1.05" fill="#c1c5f4" />
<rect x="197.80" y="401.00" width="16.40" height="1.55" fill="#d9dbf8" />
<rect x="214.20" y="401.00" width="16.10" height="1.55" fill="#f1f1fc" />
<rect x="197.80" y="402.50" width="16.40" height="1.55" fill="#dee0f9" />
<rect x="214.20" y="402.50" width="16.10" height="1.55" fill="#edeefc" />
<rect x="197.80" y="404.00" width="16.40" height="1.55" fill="#e1e2f9" />
<rect x="214.20" y="404.00" width="16.10" height="1.55" fill="#eff0fc" />
<rect x="197.80" y="405.50" width="16.40" height="1.55" fill="#dadcf8" />
<rect x="214.20" y="405.50" width="16.10" height="1.55" fill="#e9eafb" />
<rect x="197.80" y="407.00" width="16.40" height="1.55" fill="#e3e5fa" />
<rect x="214.20" y="407.00" width="16.10" height="1.55" fill="#ecedfb" />
<rect x="197.80" y="408.50" width="16.40" height="1.55" fill="#eeeffc" />
<rect x="214.20" y="408.50" width="16.10" height="1.55" fill="#ecedfb" />
<rect x="197.80" y="410.00" width="16.40" height="1.55" fill="#dfe1f9" />
<rect x="214.20" y="410.00" width="16.10" height="1.55" fill="#e8eafb" />
<rect x="197.80" y="411.50" width="16.40" height="1.55" fill="#dbddf8" />
<rect x="214.20" y="411.50" width="16.10" height="1.55" fill="#f1f2fc" />
<rect x="197.80" y="413.00" width="16.40" height="1.55" fill="#e6e7fa" />
<rect x="214.20" y="413.00" width="16.10" height="1.55" fill="#ecedfb" />
<rect x="197.80" y="414.50" width="16.40" height="1.55" fill="#eff0fc" />
<rect x="214.20" y="414.50" width="16.10" height="1.55" fill="#eff0fc" />
<rect x="197.80" y="416.00" width="16.40" height="1.55" fill="#ebecfb" />
<rect x="214.20" y="416.00" width="16.10" height="1.55" fill="#f3f4fd" />
<rect x="197.80" y="417.50" width="16.40" height="1.55" fill="#eeeffc" />
<rect x="214.20" y="417.50" width="16.10" height="1.55" fill="#ebecfb" />
<rect x="197.80" y="419.00" width="16.40" height="1.55" fill="#eff0fc" />
<rect x="214.20" y="419.00" width="16.10" height="1.55" fill="#d3d6f7" />
<rect x="197.80" y="420.50" width="16.40" height="1.55" fill="#e9eafb" />
<rect x="214.20" y="420.50" width="16.10" height="1.55" fill="#cccff6" />
<rect x="197.80" y="422.00" width="16.40" height="1.55" fill="#f0f1fc" />
<rect x="214.20" y="422.00" width="16.10" height="1.55" fill="#d1d3f7" />
<rect x="197.80" y="423.50" width="16.40" height="1.55" fill="#e5e6fa" />
<rect x="214.20" y="423.50" width="16.10" height="1.55" fill="#cbcef6" />
<rect x="197.80" y="425.00" width="16.40" height="1.55" fill="#dee0f9" />
<rect x="214.20" y="425.00" width="16.10" height="1.55" fill="#cccff6" />
<rect x="197.80" y="426.50" width="16.40" height="1.55" fill="#ebecfb" />
<rect x="214.20" y="426.50" width="16.10" height="1.55" fill="#d1d4f7" />
<rect x="197.80" y="428.00" width="16.40" height="1.55" fill="#e9ebfb" />
<rect x="214.20" y="428.00" width="16.10" height="1.55" fill="#cbcef6" />
<rect x="197.80" y="429.50" width="16.40" height="1.55" fill="#dadcf8" />
<rect x="214.20" y="429.50" width="16.10" height="1.55" fill="#d4d7f7" />
<rect x="197.80" y="431.00" width="16.40" height="1.55" fill="#eeeffc" />
<rect x="214.20" y="431.00" width="16.10" height="1.55" fill="#d3d6f7" />
<rect x="197.80" y="432.50" width="16.40" height="1.55" fill="#eceefb" />
<rect x="214.20" y="432.50" width="16.10" height="1.55" fill="#d0d3f7" />
<rect x="197.80" y="434.00" width="16.40" height="1.55" fill="#e4e5fa" />
<rect x="214.20" y="434.00" width="16.10" height="1.55" fill="#d3d6f7" />
<rect x="197.80" y="435.50" width="16.40" height="1.55" fill="#f2f3fc" />
<rect x="214.20" y="435.50" width="16.10" height="1.55" fill="#d1d4f7" />
<rect x="197.80" y="437.00" width="16.40" height="1.55" fill="#e9eafb" />
<rect x="214.20" y="437.00" width="16.10" height="1.55" fill="#cfd2f7" />
<rect x="197.80" y="438.50" width="16.40" height="1.55" fill="#dadcf8" />
<rect x="214.20" y="438.50" width="16.10" height="1.55" fill="#ced1f6" />
<rect x="197.80" y="440.00" width="16.40" height="1.55" fill="#e5e7fa" />
<rect x="214.20" y="440.00" width="16.10" height="1.55" fill="#cfd1f6" />
<rect x="197.80" y="441.50" width="16.40" height="1.55" fill="#e1e3fa" />
<rect x="214.20" y="441.50" width="16.10" height="1.55" fill="#d5d8f8" />
<rect x="197.80" y="443.00" width="16.40" height="1.55" fill="#dcdef9" />
<rect x="214.20" y="443.00" width="16.10" height="1.55" fill="#cdd0f6" />
<rect x="197.80" y="444.50" width="16.40" height="1.55" fill="#dcdef9" />
<rect x="214.20" y="444.50" width="16.10" height="1.55" fill="#cccff6" />
<rect x="197.80" y="446.00" width="16.40" height="1.55" fill="#e8eafb" />
<rect x="214.20" y="446.00" width="16.10" height="1.55" fill="#d1d4f7" />
<rect x="197.80" y="447.50" width="16.40" height="1.55" fill="#f0f1fc" />
<rect x="214.20" y="447.50" width="16.10" height="1.55" fill="#ced1f6" />
<rect x="197.80" y="449.00" width="16.40" height="1.55" fill="#f4f4fd" />
<rect x="214.20" y="449.00" width="16.10" height="1.55" fill="#f2f3fc" />
<rect x="197.80" y="450.50" width="16.40" height="1.55" fill="#f2f3fc" />
<rect x="214.20" y="450.50" width="16.10" height="1.55" fill="#f1f2fc" />
<rect x="197.80" y="452.00" width="16.40" height="1.55" fill="#f1f2fc" />
<rect x="214.20" y="452.00" width="16.10" height="1.55" fill="#f2f3fc" />
<rect x="197.80" y="453.50" width="16.40" height="1.55" fill="#f4f5fd" />
<rect x="214.20" y="453.50" width="16.10" height="1.55" fill="#f1f2fc" />
<rect x="197.80" y="455.00" width="16.40" height="1.05" fill="#f3f4fd" />
<rect x="214.20" y="455.00" width="16.10" height="1.05" fill="#eff0fc" />
<rect x="197.80" y="456.00" width="16.40" height="1.55" fill="#f4f5fd" />
<rect x="214.20" y="456.00" width="16.10" height="1.55" fill="#dfe1f9" />
<rect x="197.80" y="457.50" width="16.40" height="1.55" fill="#ebecfb" />
<rect x="214.20" y="457.50" width="16.10" height="1.55" fill="#e7e8fb" />
<rect x="197.80" y="459.00" width="16.40" height="1.55" fill="#f1f1fc" />
<rect x="214.20" y="459.00" width="16.10" height="1.55" fill="#e5e6fa" />
<rect x="197.80" y="460.50" width="16.40" height="1.55" fill="#eff0fc" />
<rect x="214.20" y="460.50" width="16.10" height="1.55" fill="#e7e8fb" />
<rect x="197.80" y="462.00" width="16.40" height="1.55" fill="#e8e9fb" />
<rect x="214.20" y="462.00" width="16.10" height="1.55" fill="#dee0f9" />
<rect x="197.80" y="463.50" width="16.40" height="1.55" fill="#edeefc" />
<rect x="214.20" y="463.50" width="16.10" height="1.55" fill="#e3e5fa" />
<rect x="197.80" y="465.00" width="16.40" height="1.55" fill="#f3f4fd" />
<rect x="214.20" y="465.00" width="16.10" height="1.55" fill="#e7e9fb" />
<rect x="197.80" y="466.50" width="16.40" height="1.55" fill="#eff0fc" />
<rect x="214.20" y="466.50" width="16.10" height="1.55" fill="#e6e7fa" />
<rect x="197.80" y="468.00" width="16.40" height="1.55" fill="#e8e9fb" />
<rect x="214.20" y="468.00" width="16.10" height="1.55" fill="#e7e8fa" />
<rect x="197.80" y="469.50" width="16.40" height="1.55" fill="#f4f5fd" />
<rect x="214.20" y="469.50" width="16.10" height="1.55" fill="#dfe1f9" />
<rect x="197.80" y="471.00" width="16.40" height="1.55" fill="#ecedfb" />
<rect x="214.20" y="471.00" width="16.10" height="1.55" fill="#e7e8fb" />
<rect x="197.80" y="472.50" width="16.40" height="1.55" fill="#ecedfb" />
<rect x="214.20" y="472.50" width="16.10" height="1.55" fill="#e8e9fb" />
<rect x="197.80" y="474.00" width="16.40" height="0.65" fill="#ecedfb" />
<rect x="214.20" y="474.00" width="16.10" height="0.65" fill="#dee0f9" />
<rect x="197.80" y="474.60" width="16.40" height="1.60" fill="#6870e0" />
<rect x="214.20" y="474.60" width="16.10" height="1.60" fill="#a0a8f0" />
<rect x="197.80" y="476.20" width="16.40" height="1.55" fill="#fffddc" />
<rect x="214.20" y="476.20" width="16.10" height="1.55" fill="#fffbbc" />
<rect x="197.80" y="477.70" width="16.40" height="1.55" fill="#fffde5" />
<rect x="214.20" y="477.70" width="16.10" height="1.55" fill="#fffcc3" />
<rect x="197.80" y="479.20" width="16.40" height="1.55" fill="#fffde7" />
<rect x="214.20" y="479.20" width="16.10" height="1.55" fill="#fffbbb" />
<rect x="197.80" y="480.70" width="16.40" height="1.55" fill="#fffde1" />
<rect x="214.20" y="480.70" width="16.10" height="1.55" fill="#fffbbb" />
<rect x="197.80" y="482.20" width="16.40" height="1.55" fill="#fffde4" />
<rect x="214.20" y="482.20" width="16.10" height="1.55" fill="#fffcc6" />
<rect x="197.80" y="483.70" width="16.40" height="1.55" fill="#fffddc" />
<rect x="214.20" y="483.70" width="16.10" height="1.55" fill="#fffbb6" />
<rect x="197.80" y="485.20" width="16.40" height="1.55" fill="#fffddc" />
<rect x="214.20" y="485.20" width="16.10" height="1.55" fill="#fffbba" />
<rect x="197.80" y="486.70" width="16.40" height="1.55" fill="#fffddc" />
<rect x="214.20" y="486.70" width="16.10" height="1.55" fill="#fffbbb" />
<rect x="197.80" y="488.20" width="16.40" height="1.55" fill="#fffde6" />
<rect x="214.20" y="488.20" width="16.10" height="1.55" fill="#fffbc0" />
<rect x="197.80" y="489.70" width="16.40" height="0.35" fill="#fffde4" />
<rect x="214.20" y="489.70" width="16.10" height="0.35" fill="#fffcca" />
<rect x="197.80" y="490.00" width="16.40" height="1.55" fill="#fffde9" />
<rect x="214.20" y="490.00" width="16.10" height="1.55" fill="#fffbb9" />
<rect x="197.80" y="491.50" width="16.40" height="1.55" fill="#fffde6" />
<rect x="214.20" y="491.50" width="16.10" height="1.55" fill="#fffbaf" />
<rect x="197.80" y="493.00" width="16.40" height="1.55" fill="#fffdda" />
<rect x="214.20" y="493.00" width="16.10" height="1.55" fill="#fffbb5" />
<rect x="197.80" y="494.50" width="16.40" height="1.55" fill="#fffdda" />
<rect x="214.20" y="494.50" width="16.10" height="1.55" fill="#fffaa8" />
<rect x="197.80" y="496.00" width="16.40" height="1.55" fill="#fffdda" />
<rect x="214.20" y="496.00" width="16.10" height="1.55" fill="#fffbb7" />
<rect x="197.80" y="497.50" width="16.40" height="1.55" fill="#fffde6" />
<rect x="214.20" y="497.50" width="16.10" height="1.55" fill="#fffbbb" />
<rect x="197.80" y="499.00" width="16.40" height="1.55" fill="#fffde7" />
<rect x="214.20" y="499.00" width="16.10" height="1.55" fill="#fffbbb" />
<rect x="197.80" y="500.50" width="16.40" height="1.25" fill="#fffddf" />
<rect x="214.20" y="500.50" width="16.10" height="1.25" fill="#fffaaa" />
<rect x="197.80" y="501.70" width="16.40" height="1.55" fill="#fffddd" />
<rect x="214.20" y="501.70" width="16.10" height="1.55" fill="#fffdda" />
<rect x="197.80" y="503.20" width="16.40" height="1.55" fill="#fffde2" />
<rect x="214.20" y="503.20" width="16.10" height="1.55" fill="#fffcd2" />
<rect x="197.80" y="504.70" width="16.40" height="1.55" fill="#fffef0" />
<rect x="214.20" y="504.70" width="16.10" height="1.55" fill="#fffdd5" />
<rect x="197.80" y="506.20" width="16.40" height="1.55" fill="#fffddb" />
<rect x="214.20" y="506.20" width="16.10" height="1.55" fill="#fffcd2" />
<rect x="197.80" y="507.70" width="16.40" height="1.55" fill="#fffddf" />
<rect x="214.20" y="507.70" width="16.10" height="1.55" fill="#fffdda" />
<rect x="197.80" y="509.20" width="16.40" height="1.55" fill="#fffeee" />
<rect x="214.20" y="509.20" width="16.10" height="1.55" fill="#fffcd2" />
<rect x="197.80" y="510.70" width="16.40" height="1.55" fill="#fffeea" />
<rect x="214.20" y="510.70" width="16.10" height="1.55" fill="#fffcd2" />
<rect x="197.80" y="512.20" width="16.40" height="1.55" fill="#fffdda" />
<rect x="214.20" y="512.20" width="16.10" height="1.55" fill="#fffddc" />
<rect x="197.80" y="513.70" width="16.40" height="1.55" fill="#fffde8" />
<rect x="214.20" y="513.70" width="16.10" height="1.55" fill="#fffcce" />
<rect x="197.80" y="515.20" width="16.40" height="1.55" fill="#fffde0" />
<rect x="214.20" y="515.20" width="16.10" height="1.55" fill="#fffde1" />
<rect x="197.80" y="516.70" width="16.40" height="1.55" fill="#fffeef" />
<rect x="214.20" y="516.70" width="16.10" height="1.55" fill="#fffde2" />
<rect x="197.80" y="518.20" width="16.40" height="1.55" fill="#fffddc" />
<rect x="214.20" y="518.20" width="16.10" height="1.55" fill="#fffcd2" />
<rect x="197.80" y="519.70" width="16.40" height="1.55" fill="#fffeee" />
<rect x="214.20" y="519.70" width="16.10" height="1.55" fill="#fffcd1" />
<rect x="197.80" y="521.20" width="16.40" height="1.55" fill="#fffdda" />
<rect x="214.20" y="521.20" width="16.10" height="1.55" fill="#fffdd5" />
<rect x="197.80" y="522.70" width="16.40" height="1.55" fill="#fffde9" />
<rect x="214.20" y="522.70" width="16.10" height="1.55" fill="#fffdd8" />
<rect x="197.80" y="524.20" width="16.40" height="1.55" fill="#fffeef" />
<rect x="214.20" y="524.20" width="16.10" height="1.55" fill="#fffde5" />
<rect x="197.80" y="525.70" width="16.40" height="1.55" fill="#fffdda" />
<rect x="214.20" y="525.70" width="16.10" height="1.55" fill="#fffdd6" />
<rect x="197.80" y="527.20" width="16.40" height="1.55" fill="#fffde5" />
<rect x="214.20" y="527.20" width="16.10" height="1.55" fill="#fffcce" />
<rect x="197.80" y="528.70" width="16.40" height="1.55" fill="#fffde7" />
<rect x="214.20" y="528.70" width="16.10" height="1.55" fill="#fffcd0" />
<rect x="197.80" y="530.20" width="16.40" height="1.55" fill="#fffdde" />
<rect x="214.20" y="530.20" width="16.10" height="1.55" fill="#fffde0" />
<rect x="197.80" y="531.70" width="16.40" height="1.55" fill="#fffeec" />
<rect x="214.20" y="531.70" width="16.10" height="1.55" fill="#fffdde" />
<rect x="197.80" y="533.20" width="16.40" height="1.55" fill="#fffeec" />
<rect x="214.20" y="533.20" width="16.10" height="1.55" fill="#fffdd7" />
<rect x="197.80" y="534.70" width="16.40" height="1.55" fill="#fffeec" />
<rect x="214.20" y="534.70" width="16.10" height="1.55" fill="#fffddb" />
<rect x="197.80" y="536.20" width="16.40" height="1.55" fill="#fffeef" />
<rect x="214.20" y="536.20" width="16.10" height="1.55" fill="#fffccf" />
<rect x="197.80" y="537.70" width="16.40" height="1.55" fill="#fffde9" />
<rect x="214.20" y="537.70" width="16.10" height="1.55" fill="#fffdda" />
<rect x="197.80" y="539.20" width="16.40" height="1.55" fill="#fffde4" />
<rect x="214.20" y="539.20" width="16.10" height="1.55" fill="#fffccf" />
<rect x="197.80" y="540.70" width="16.40" height="1.55" fill="#fffde8" />
<rect x="214.20" y="540.70" width="16.10" height="1.55" fill="#fffccf" />
<rect x="197.80" y="542.20" width="16.40" height="1.55" fill="#fffde6" />
<rect x="214.20" y="542.20" width="16.10" height="1.55" fill="#fffdd8" />
<rect x="197.80" y="543.70" width="16.40" height="1.55" fill="#fffde5" />
<rect x="214.20" y="543.70" width="16.10" height="1.55" fill="#fffde5" />
<rect x="197.80" y="545.20" width="16.40" height="1.55" fill="#fffde7" />
<rect x="214.20" y="545.20" width="16.10" height="1.55" fill="#fffde1" />
<rect x="197.80" y="546.70" width="16.40" height="1.55" fill="#fffef2" />
<rect x="214.20" y="546.70" width="16.10" height="1.55" fill="#fffcd2" />
<rect x="197.80" y="548.20" width="16.40" height="1.55" fill="#fffeee" />
<rect x="214.20" y="548.20" width="16.10" height="1.55" fill="#fffdda" />
<rect x="197.80" y="549.70" width="16.40" height="1.55" fill="#fffde0" />
<rect x="214.20" y="549.70" width="16.10" height="1.55" fill="#fffdd8" />
<rect x="197.80" y="551.20" width="16.40" height="1.55" fill="#fffeea" />
<rect x="214.20" y="551.20" width="16.10" height="1.55" fill="#fffdd9" />
<rect x="197.80" y="552.70" width="16.40" height="1.55" fill="#fffde4" />
<rect x="214.20" y="552.70" width="16.10" height="1.55" fill="#fffcd2" />
<rect x="197.80" y="554.20" width="16.40" height="1.55" fill="#fffeef" />
<rect x="214.20" y="554.20" width="16.10" height="1.55" fill="#fffdd8" />
<rect x="197.80" y="555.70" width="16.40" height="1.55" fill="#fffeec" />
<rect x="214.20" y="555.70" width="16.10" height="1.55" fill="#fffddf" />
<rect x="197.80" y="557.20" width="16.40" height="1.55" fill="#fffddf" />
<rect x="214.20" y="557.20" width="16.10" height="1.55" fill="#fffdd9" />
<rect x="197.80" y="558.70" width="16.40" height="1.55" fill="#fffde4" />
<rect x="214.20" y="558.70" width="16.10" height="1.55" fill="#fffcd3" />
<rect x="197.80" y="560.20" width="16.40" height="1.55" fill="#fffddb" />
<rect x="214.20" y="560.20" width="16.10" height="1.55" fill="#fffddb" />
<rect x="197.80" y="561.70" width="16.40" height="1.55" fill="#fffde3" />
<rect x="214.20" y="561.70" width="16.10" height="1.55" fill="#fffdd9" />
<rect x="197.80" y="563.20" width="16.40" height="1.55" fill="#fffde5" />
<rect x="214.20" y="563.20" width="16.10" height="1.55" fill="#fffcd4" />
<rect x="197.80" y="564.70" width="16.40" height="1.35" fill="#fffde7" />
<rect x="214.20" y="564.70" width="16.10" height="1.35" fill="#fffdd8" />
<rect x="197.80" y="566.00" width="16.40" height="1.55" fill="#fffcc1" />
<rect x="214.20" y="566.00" width="16.10" height="1.55" fill="#fffccc" />
<rect x="197.80" y="567.50" width="16.40" height="1.55" fill="#fffbbc" />
<rect x="214.20" y="567.50" width="16.10" height="1.55" fill="#fffccd" />
<rect x="197.80" y="569.00" width="16.40" height="1.55" fill="#fffbb7" />
<rect x="214.20" y="569.00" width="16.10" height="1.55" fill="#fffdda" />
<rect x="197.80" y="570.50" width="16.40" height="1.55" fill="#fffbbf" />
<rect x="214.20" y="570.50" width="16.10" height="1.55" fill="#fffccc" />
<rect x="197.80" y="572.00" width="16.40" height="1.55" fill="#fffbb9" />
<rect x="214.20" y="572.00" width="16.10" height="1.55" fill="#fffddd" />
<rect x="197.80" y="573.50" width="16.40" height="1.55" fill="#fffcc8" />
<rect x="214.20" y="573.50" width="16.10" height="1.55" fill="#fffdd6" />
<rect x="197.80" y="575.00" width="16.40" height="0.55" fill="#fffcc9" />
<rect x="214.20" y="575.00" width="16.10" height="0.55" fill="#fffdda" />
<rect x="197.80" y="575.50" width="16.40" height="1.55" fill="#e9ebfb" />
<rect x="214.20" y="575.50" width="16.10" height="1.55" fill="#fffddf" />
<rect x="197.80" y="577.00" width="16.40" height="1.55" fill="#e1e3fa" />
<rect x="214.20" y="577.00" width="16.10" height="1.55" fill="#fffddb" />
<rect x="197.80" y="578.50" width="16.40" height="1.55" fill="#e8eafb" />
<rect x="214.20" y="578.50" width="16.10" height="1.55" fill="#fffdde" />
<rect x="197.80" y="580.00" width="16.40" height="1.55" fill="#e2e4fa" />
<rect x="214.20" y="580.00" width="16.10" height="1.55" fill="#fffde7" />
<rect x="197.80" y="581.50" width="16.40" height="1.55" fill="#e0e1f9" />
<rect x="214.20" y="581.50" width="16.10" height="1.55" fill="#fffdda" />
<rect x="197.80" y="583.00" width="16.40" height="1.55" fill="#e8e9fb" />
<rect x="214.20" y="583.00" width="16.10" height="1.55" fill="#fffdda" />
<rect x="197.80" y="584.50" width="16.40" height="1.55" fill="#e5e7fa" />
<rect x="214.20" y="584.50" width="16.10" height="1.55" fill="#fffde2" />
<rect x="197.80" y="586.00" width="16.40" height="1.55" fill="#dee0f9" />
<rect x="214.20" y="586.00" width="16.10" height="1.55" fill="#fffddc" />
<rect x="197.80" y="587.50" width="16.40" height="1.55" fill="#e8eafb" />
<rect x="214.20" y="587.50" width="16.10" height="1.55" fill="#fffde3" />
<rect x="197.80" y="589.00" width="16.40" height="1.55" fill="#e4e6fa" />
<rect x="214.20" y="589.00" width="16.10" height="1.55" fill="#fffde4" />
<rect x="197.80" y="590.50" width="16.40" height="0.25" fill="#e8e9fb" />
<rect x="214.20" y="590.50" width="16.10" height="0.25" fill="#fffde5" />
<rect x="197.80" y="590.70" width="16.40" height="2.50" fill="#d0d4f4" />
<rect x="214.20" y="590.70" width="16.10" height="2.50" fill="#e8e070" />
<path d="M197,359 L196,362 M197,365 L195,368 M197,372 L194,375" fill="none" stroke="#444" stroke-width="0.5" />
<line x1="196.40" y1="359.00" x2="196.40" y2="592.00" stroke="#333" stroke-width="0.9" />
<line x1="195.00" y1="360.00" x2="195.00" y2="378.00" stroke="#555" stroke-width="0.5" />
<line x1="192.80" y1="364.00" x2="192.80" y2="376.00" stroke="#777" stroke-width="0.5" />
<line x1="188.00" y1="366.00" x2="188.00" y2="372.00" stroke="#999" stroke-width="0.4" />
<line x1="183.50" y1="368.00" x2="183.50" y2="592.00" stroke="#999" stroke-width="0.5" />
<line x1="187.80" y1="445.00" x2="187.80" y2="590.00" stroke="#999" stroke-width="0.5" />
<line x1="192.80" y1="420.00" x2="192.80" y2="590.00" stroke="#999" stroke-width="0.5" />
<line x1="186.00" y1="508.00" x2="186.00" y2="592.00" stroke="#aaa" stroke-width="0.5" />
<line x1="180.50" y1="520.00" x2="180.50" y2="592.00" stroke="#aaa" stroke-width="0.5" />
<line x1="183.50" y1="368.00" x2="196.00" y2="368.00" stroke="#999" stroke-width="0.4" />
<line x1="188.00" y1="366.00" x2="196.00" y2="366.00" stroke="#999" stroke-width="0.4" />
<line x1="192.80" y1="420.00" x2="196.00" y2="420.00" stroke="#999" stroke-width="0.4" />
<line x1="187.80" y1="445.00" x2="196.00" y2="445.00" stroke="#999" stroke-width="0.4" />
<line x1="186.00" y1="508.00" x2="192.80" y2="508.00" stroke="#999" stroke-width="0.4" />
<line x1="180.50" y1="520.00" x2="186.00" y2="520.00" stroke="#999" stroke-width="0.4" />
<line x1="183.50" y1="400.00" x2="187.80" y2="400.00" stroke="#999" stroke-width="0.4" />
<line x1="192.80" y1="470.00" x2="196.40" y2="470.00" stroke="#999" stroke-width="0.4" />
<line x1="180.50" y1="591.50" x2="196.40" y2="591.50" stroke="#999" stroke-width="0.4" />
<line x1="195.58" y1="360.00" x2="196.80" y2="360.00" stroke="#666" stroke-width="0.3" />
<line x1="194.53" y1="363.00" x2="196.80" y2="363.00" stroke="#666" stroke-width="0.3" />
<line x1="195.33" y1="366.00" x2="196.80" y2="366.00" stroke="#666" stroke-width="0.3" />
<line x1="195.16" y1="369.00" x2="196.80" y2="369.00" stroke="#666" stroke-width="0.3" />
<line x1="194.53" y1="372.00" x2="196.80" y2="372.00" stroke="#666" stroke-width="0.3" />
<line x1="195.00" y1="375.00" x2="196.80" y2="375.00" stroke="#666" stroke-width="0.3" />
<line x1="195.44" y1="378.00" x2="196.80" y2="378.00" stroke="#666" stroke-width="0.3" />
<line x1="195.27" y1="381.00" x2="196.80" y2="381.00" stroke="#666" stroke-width="0.3" />
<line x1="194.60" y1="384.00" x2="196.80" y2="384.00" stroke="#666" stroke-width="0.3" />
<line x1="195.98" y1="387.00" x2="196.80" y2="387.00" stroke="#666" stroke-width="0.3" />
<line x1="195.68" y1="390.00" x2="196.80" y2="390.00" stroke="#666" stroke-width="0.3" />
<line x1="195.96" y1="393.00" x2="196.80" y2="393.00" stroke="#666" stroke-width="0.3" />
<line x1="194.66" y1="396.00" x2="196.80" y2="396.00" stroke="#666" stroke-width="0.3" />
<line x1="194.90" y1="399.00" x2="196.80" y2="399.00" stroke="#666" stroke-width="0.3" />
<line x1="194.56" y1="402.00" x2="196.80" y2="402.00" stroke="#666" stroke-width="0.3" />
<line x1="195.67" y1="405.00" x2="196.80" y2="405.00" stroke="#666" stroke-width="0.3" />
<line x1="194.91" y1="408.00" x2="196.80" y2="408.00" stroke="#666" stroke-width="0.3" />
<line x1="194.69" y1="411.00" x2="196.80" y2="411.00" stroke="#666" stroke-width="0.3" />
<line x1="195.13" y1="414.00" x2="196.80" y2="414.00" stroke="#666" stroke-width="0.3" />
<line x1="195.87" y1="417.00" x2="196.80" y2="417.00" stroke="#666" stroke-width="0.3" />
<line x1="195.73" y1="420.00" x2="196.80" y2="420.00" stroke="#666" stroke-width="0.3" />
<line x1="194.89" y1="423.00" x2="196.80" y2="423.00" stroke="#666" stroke-width="0.3" />
<line x1="194.72" y1="426.00" x2="196.80" y2="426.00" stroke="#666" stroke-width="0.3" />
<line x1="195.88" y1="429.00" x2="196.80" y2="429.00" stroke="#666" stroke-width="0.3" />
<line x1="195.36" y1="432.00" x2="196.80" y2="432.00" stroke="#666" stroke-width="0.3" />
<line x1="195.55" y1="435.00" x2="196.80" y2="435.00" stroke="#666" stroke-width="0.3" />
<line x1="194.63" y1="438.00" x2="196.80" y2="438.00" stroke="#666" stroke-width="0.3" />
<line x1="194.59" y1="441.00" x2="196.80" y2="441.00" stroke="#666" stroke-width="0.3" />
<line x1="195.53" y1="444.00" x2="196.80" y2="444.00" stroke="#666" stroke-width="0.3" />
<line x1="195.14" y1="447.00" x2="196.80" y2="447.00" stroke="#666" stroke-width="0.3" />
<line x1="194.61" y1="450.00" x2="196.80" y2="450.00" stroke="#666" stroke-width="0.3" />
<line x1="195.91" y1="453.00" x2="196.80" y2="453.00" stroke="#666" stroke-width="0.3" />
<line x1="195.45" y1="456.00" x2="196.80" y2="456.00" stroke="#666" stroke-width="0.3" />
<line x1="195.70" y1="459.00" x2="196.80" y2="459.00" stroke="#666" stroke-width="0.3" />
<line x1="194.63" y1="462.00" x2="196.80" y2="462.00" stroke="#666" stroke-width="0.3" />
<line x1="195.78" y1="465.00" x2="196.80" y2="465.00" stroke="#666" stroke-width="0.3" />
<line x1="194.60" y1="468.00" x2="196.80" y2="468.00" stroke="#666" stroke-width="0.3" />
<line x1="195.79" y1="471.00" x2="196.80" y2="471.00" stroke="#666" stroke-width="0.3" />
<line x1="195.18" y1="474.00" x2="196.80" y2="474.00" stroke="#666" stroke-width="0.3" />
<line x1="195.01" y1="477.00" x2="196.80" y2="477.00" stroke="#666" stroke-width="0.3" />
<line x1="195.33" y1="480.00" x2="196.80" y2="480.00" stroke="#666" stroke-width="0.3" />
<line x1="195.89" y1="483.00" x2="196.80" y2="483.00" stroke="#666" stroke-width="0.3" />
<line x1="194.90" y1="486.00" x2="196.80" y2="486.00" stroke="#666" stroke-width="0.3" />
<line x1="194.69" y1="489.00" x2="196.80" y2="489.00" stroke="#666" stroke-width="0.3" />
<line x1="195.29" y1="492.00" x2="196.80" y2="492.00" stroke="#666" stroke-width="0.3" />
<line x1="194.86" y1="495.00" x2="196.80" y2="495.00" stroke="#666" stroke-width="0.3" />
<line x1="194.66" y1="498.00" x2="196.80" y2="498.00" stroke="#666" stroke-width="0.3" />
<line x1="194.74" y1="501.00" x2="196.80" y2="501.00" stroke="#666" stroke-width="0.3" />
<line x1="194.58" y1="504.00" x2="196.80" y2="504.00" stroke="#666" stroke-width="0.3" />
<line x1="194.80" y1="507.00" x2="196.80" y2="507.00" stroke="#666" stroke-width="0.3" />
<line x1="194.97" y1="510.00" x2="196.80" y2="510.00" stroke="#666" stroke-width="0.3" />
<line x1="194.96" y1="513.00" x2="196.80" y2="513.00" stroke="#666" stroke-width="0.3" />
<line x1="195.64" y1="516.00" x2="196.80" y2="516.00" stroke="#666" stroke-width="0.3" />
<line x1="194.93" y1="519.00" x2="196.80" y2="519.00" stroke="#666" stroke-width="0.3" />
<line x1="195.25" y1="522.00" x2="196.80" y2="522.00" stroke="#666" stroke-width="0.3" />
<line x1="194.77" y1="525.00" x2="196.80" y2="525.00" stroke="#666" stroke-width="0.3" />
<line x1="195.02" y1="528.00" x2="196.80" y2="528.00" stroke="#666" stroke-width="0.3" />
<line x1="194.53" y1="531.00" x2="196.80" y2="531.00" stroke="#666" stroke-width="0.3" />
<line x1="194.88" y1="534.00" x2="196.80" y2="534.00" stroke="#666" stroke-width="0.3" />
<line x1="194.52" y1="537.00" x2="196.80" y2="537.00" stroke="#666" stroke-width="0.3" />
<line x1="195.60" y1="540.00" x2="196.80" y2="540.00" stroke="#666" stroke-width="0.3" />
<line x1="195.33" y1="543.00" x2="196.80" y2="543.00" stroke="#666" stroke-width="0.3" />
<line x1="194.78" y1="546.00" x2="196.80" y2="546.00" stroke="#666" stroke-width="0.3" />
<line x1="195.21" y1="549.00" x2="196.80" y2="549.00" stroke="#666" stroke-width="0.3" />
<line x1="195.90" y1="552.00" x2="196.80" y2="552.00" stroke="#666" stroke-width="0.3" />
<line x1="194.66" y1="555.00" x2="196.80" y2="555.00" stroke="#666" stroke-width="0.3" />
<line x1="195.73" y1="558.00" x2="196.80" y2="558.00" stroke="#666" stroke-width="0.3" />
<line x1="195.15" y1="561.00" x2="196.80" y2="561.00" stroke="#666" stroke-width="0.3" />
<line x1="195.24" y1="564.00" x2="196.80" y2="564.00" stroke="#666" stroke-width="0.3" />
<line x1="195.75" y1="567.00" x2="196.80" y2="567.00" stroke="#666" stroke-width="0.3" />
<line x1="195.09" y1="570.00" x2="196.80" y2="570.00" stroke="#666" stroke-width="0.3" />
<line x1="195.26" y1="573.00" x2="196.80" y2="573.00" stroke="#666" stroke-width="0.3" />
<line x1="195.53" y1="576.00" x2="196.80" y2="576.00" stroke="#666" stroke-width="0.3" />
<line x1="195.97" y1="579.00" x2="196.80" y2="579.00" stroke="#666" stroke-width="0.3" />
<line x1="195.01" y1="582.00" x2="196.80" y2="582.00" stroke="#666" stroke-width="0.3" />
<line x1="195.75" y1="585.00" x2="196.80" y2="585.00" stroke="#666" stroke-width="0.3" />
<line x1="195.56" y1="588.00" x2="196.80" y2="588.00" stroke="#666" stroke-width="0.3" />
<line x1="230.50" y1="359.60" x2="234.00" y2="359.60" stroke="#222" stroke-width="0.6" />
<text x="235.00" y="362.20" font-size="7.6" stroke="#222" stroke-width="0.08" font-style="italic" >Nr4a3</text>
<path d="M231.2,365 L233.5,366.5 M231.2,365 L233.5,374" fill="none" stroke="#222" stroke-width="0.6" />
<text x="235.00" y="368.80" font-size="7.6" stroke="#222" stroke-width="0.08" font-style="italic" >Cd14</text>
<text x="235.00" y="376.60" font-size="7.6" stroke="#222" stroke-width="0.08" font-style="italic" >Tgm2</text>
<text x="191.40" y="597.00" font-size="7.6" text-anchor="end" stroke="#222" stroke-width="0.12" transform="rotate(-90 191.40 597.00)" >FC</text>
<text x="203.4" y="597" font-size="7.4" text-anchor="end" fill="#222" stroke="#222" stroke-width="0.18" transform="rotate(-90 203.4 597)">PGE<tspan font-size="5" dy="1.8">2</tspan><tspan dy="-1.8">/</tspan></text>
<text x="214.00" y="597.00" font-size="7.6" text-anchor="end" stroke="#222" stroke-width="0.12" transform="rotate(-90 214.00 597.00)" >Vehicle</text>
<text x="225.50" y="597.00" font-size="7.6" text-anchor="end" stroke="#222" stroke-width="0.12" transform="rotate(-90 225.50 597.00)" >LN/BN</text>
<text x="393.50" y="352.00" font-size="10.5" fill="#000" font-weight="bold" >J</text>
<line x1="438.00" y1="347.30" x2="444.80" y2="347.30" stroke="#c8102e" stroke-width="1.1" />
<text x="447.30" y="350.20" font-size="7.4" stroke="#222" stroke-width="0.18" >Vehicle</text>
<line x1="481.20" y1="347.50" x2="487.50" y2="347.50" stroke="#fd8c0a" stroke-width="1.1" />
<text x="490.00" y="350.40" font-size="7.8" stroke="#222" stroke-width="0.18" >PGE<tspan font-size="5.2" dy="1.8">2</tspan></text>
<line x1="435.60" y1="357.70" x2="435.60" y2="407.80" stroke="#222" stroke-width="1.2" />
<line x1="435.10" y1="407.30" x2="511.20" y2="407.30" stroke="#222" stroke-width="1.2" />
<line x1="432.60" y1="361.20" x2="435.60" y2="361.20" stroke="#222" stroke-width="0.8" />
<text x="430.30" y="363.80" font-size="7.4" text-anchor="end" stroke="#222" stroke-width="0.18" textLength="8.81" lengthAdjust="spacingAndGlyphs" >50</text>
<line x1="432.60" y1="370.40" x2="435.60" y2="370.40" stroke="#222" stroke-width="0.8" />
<text x="430.30" y="373.00" font-size="7.4" text-anchor="end" stroke="#222" stroke-width="0.18" textLength="8.81" lengthAdjust="spacingAndGlyphs" >40</text>
<line x1="432.60" y1="379.80" x2="435.60" y2="379.80" stroke="#222" stroke-width="0.8" />
<text x="430.30" y="382.40" font-size="7.4" text-anchor="end" stroke="#222" stroke-width="0.18" textLength="8.81" lengthAdjust="spacingAndGlyphs" >30</text>
<line x1="432.60" y1="388.70" x2="435.60" y2="388.70" stroke="#222" stroke-width="0.8" />
<text x="430.30" y="391.30" font-size="7.4" text-anchor="end" stroke="#222" stroke-width="0.18" textLength="8.81" lengthAdjust="spacingAndGlyphs" >20</text>
<line x1="432.60" y1="398.10" x2="435.60" y2="398.10" stroke="#222" stroke-width="0.8" />
<text x="430.30" y="400.70" font-size="7.4" text-anchor="end" stroke="#222" stroke-width="0.18" textLength="8.81" lengthAdjust="spacingAndGlyphs" >10</text>
<line x1="432.60" y1="407.30" x2="435.60" y2="407.30" stroke="#222" stroke-width="0.8" />
<text x="430.30" y="409.90" font-size="7.4" text-anchor="end" stroke="#222" stroke-width="0.18" textLength="4.40" lengthAdjust="spacingAndGlyphs" >0</text>
<line x1="442.90" y1="407.30" x2="442.90" y2="409.80" stroke="#222" stroke-width="0.8" />
<text x="445.80" y="412.80" font-size="8.4" text-anchor="end" stroke="#222" stroke-width="0.18" transform="rotate(-90 445.80 412.80)" >−2 kb</text>
<line x1="457.70" y1="407.30" x2="457.70" y2="409.80" stroke="#222" stroke-width="0.8" />
<text x="460.60" y="412.80" font-size="8.4" text-anchor="end" stroke="#222" stroke-width="0.18" transform="rotate(-90 460.60 412.80)" >−1 kb</text>
<line x1="473.10" y1="407.30" x2="473.10" y2="409.80" stroke="#222" stroke-width="0.8" />
<text x="476.00" y="412.80" font-size="8.4" text-anchor="end" stroke="#222" stroke-width="0.18" transform="rotate(-90 476.00 412.80)" >0</text>
<line x1="488.00" y1="407.30" x2="488.00" y2="409.80" stroke="#222" stroke-width="0.8" />
<text x="490.90" y="412.80" font-size="8.4" text-anchor="end" stroke="#222" stroke-width="0.18" transform="rotate(-90 490.90 412.80)" >+1 kb</text>
<line x1="503.00" y1="407.30" x2="503.00" y2="409.80" stroke="#222" stroke-width="0.8" />
<text x="505.90" y="412.80" font-size="8.4" text-anchor="end" stroke="#222" stroke-width="0.18" transform="rotate(-90 505.90 412.80)" >+2 kb</text>
<path d="M442.00,404.96 L442.50,404.93 L443.00,404.90 L443.50,404.85 L444.00,404.78 L444.50,404.71 L445.00,404.62 L445.50,404.52 L446.00,404.42 L446.50,404.33 L447.00,404.26 L447.50,404.22 L448.00,404.20 L448.50,404.21 L449.00,404.26 L449.50,404.33 L450.00,404.42 L450.50,404.52 L451.00,404.61 L451.50,404.70 L452.00,404.77 L452.50,404.84 L453.00,404.88 L453.50,404.91 L454.00,404.93 L454.50,404.94 L455.00,404.95 L455.50,404.94 L456.00,404.94 L456.50,404.92 L457.00,404.91 L457.50,404.89 L458.00,404.87 L458.50,404.84 L459.00,404.81 L459.50,404.77 L460.00,404.73 L460.50,404.69 L461.00,404.63 L461.50,404.56 L462.00,404.48 L462.50,404.38 L463.00,404.26 L463.50,404.09 L464.00,403.86 L464.50,403.54 L465.00,403.09 L465.50,402.46 L466.00,401.61 L466.50,400.46 L467.00,398.94 L467.50,397.00 L468.00,394.59 L468.50,391.70 L469.00,388.36 L469.50,384.65 L470.00,380.70 L470.50,376.71 L471.00,372.90 L471.50,369.53 L472.00,366.83 L472.50,365.01 L473.00,364.23 L473.50,364.53 L474.00,365.90 L474.50,368.21 L475.00,371.29 L475.50,374.90 L476.00,378.79 L476.50,382.71 L477.00,386.47 L477.50,389.91 L478.00,392.92 L478.50,395.45 L479.00,397.52 L479.50,399.14 L480.00,400.38 L480.50,401.31 L481.00,401.99 L481.50,402.48 L482.00,402.84 L482.50,403.11 L483.00,403.32 L483.50,403.49 L484.00,403.64 L484.50,403.78 L485.00,403.90 L485.50,404.02 L486.00,404.14 L486.50,404.25 L487.00,404.35 L487.50,404.44 L488.00,404.53 L488.50,404.60 L489.00,404.67 L489.50,404.73 L490.00,404.78 L490.50,404.83 L491.00,404.86 L491.50,404.89 L492.00,404.92 L492.50,404.94 L493.00,404.95 L493.50,404.96 L494.00,404.97 L494.50,404.98 L495.00,404.99 L495.50,404.99 L496.00,404.99 L496.50,404.99 L497.00,405.00 L497.50,405.00 L498.00,405.00 L498.50,405.00 L499.00,405.00 L499.50,405.00 L500.00,405.00 L500.50,405.00 L501.00,405.00 L501.50,405.00 L502.00,405.00 L502.50,405.00 L503.00,405.00 L503.50,405.00 L504.00,405.00 L504.50,405.00" fill="none" stroke="#fd8c0a" stroke-width="1.3" />
<path d="M442.00,405.38 L442.50,405.37 L443.00,405.35 L443.50,405.32 L444.00,405.29 L444.50,405.25 L445.00,405.21 L445.50,405.16 L446.00,405.11 L446.50,405.07 L447.00,405.03 L447.50,405.01 L448.00,405.00 L448.50,405.01 L449.00,405.03 L449.50,405.07 L450.00,405.11 L450.50,405.16 L451.00,405.20 L451.50,405.25 L452.00,405.28 L452.50,405.31 L453.00,405.33 L453.50,405.35 L454.00,405.36 L454.50,405.36 L455.00,405.36 L455.50,405.35 L456.00,405.34 L456.50,405.33 L457.00,405.32 L457.50,405.30 L458.00,405.28 L458.50,405.26 L459.00,405.23 L459.50,405.20 L460.00,405.16 L460.50,405.12 L461.00,405.07 L461.50,405.01 L462.00,404.94 L462.50,404.86 L463.00,404.76 L463.50,404.64 L464.00,404.47 L464.50,404.25 L465.00,403.96 L465.50,403.56 L466.00,403.02 L466.50,402.30 L467.00,401.37 L467.50,400.19 L468.00,398.73 L468.50,396.99 L469.00,394.98 L469.50,392.75 L470.00,390.39 L470.50,388.00 L471.00,385.73 L471.50,383.71 L472.00,382.10 L472.50,381.01 L473.00,380.54 L473.50,380.72 L474.00,381.52 L474.50,382.90 L475.00,384.73 L475.50,386.87 L476.00,389.19 L476.50,391.52 L477.00,393.77 L477.50,395.82 L478.00,397.62 L478.50,399.14 L479.00,400.38 L479.50,401.37 L480.00,402.13 L480.50,402.70 L481.00,403.13 L481.50,403.45 L482.00,403.69 L482.50,403.88 L483.00,404.03 L483.50,404.17 L484.00,404.29 L484.50,404.40 L485.00,404.50 L485.50,404.60 L486.00,404.69 L486.50,404.78 L487.00,404.87 L487.50,404.94 L488.00,405.01 L488.50,405.08 L489.00,405.13 L489.50,405.18 L490.00,405.22 L490.50,405.26 L491.00,405.29 L491.50,405.31 L492.00,405.33 L492.50,405.35 L493.00,405.36 L493.50,405.37 L494.00,405.38 L494.50,405.38 L495.00,405.39 L495.50,405.39 L496.00,405.39 L496.50,405.40 L497.00,405.40 L497.50,405.40 L498.00,405.40 L498.50,405.40 L499.00,405.40 L499.50,405.40 L500.00,405.40 L500.50,405.40 L501.00,405.40 L501.50,405.40 L502.00,405.40 L502.50,405.40 L503.00,405.40 L503.50,405.40 L504.00,405.40 L504.50,405.40" fill="none" stroke="#c8102e" stroke-width="1.5" />
<text x="402.00" y="382.80" font-size="9.3" text-anchor="middle" stroke="#222" stroke-width="0.08" textLength="51.00" lengthAdjust="spacingAndGlyphs" transform="rotate(-90 402.00 382.80)" >Normalized tag</text>
<text x="413.50" y="382.80" font-size="9.3" text-anchor="middle" stroke="#222" stroke-width="0.08" textLength="26.00" lengthAdjust="spacingAndGlyphs" transform="rotate(-90 413.50 382.80)" >density</text>
<text x="471.90" y="446.80" font-size="9.3" text-anchor="middle" stroke="#222" stroke-width="0.08" textLength="81.20" lengthAdjust="spacingAndGlyphs" >Distance from the center</text>
<text x="240.20" y="463.00" font-size="10.5" fill="#000" font-weight="bold" >K</text>
<line x1="343.00" y1="458.20" x2="350.30" y2="458.20" stroke="#c8102e" stroke-width="1.1" />
<text x="352.90" y="461.00" font-size="7.6" stroke="#222" stroke-width="0.18" textLength="24.00" lengthAdjust="spacingAndGlyphs" >Vehicle</text>
<line x1="343.00" y1="465.60" x2="350.30" y2="465.60" stroke="#fd8c0a" stroke-width="1.1" />
<text x="352.90" y="468.40" font-size="7.6" stroke="#222" stroke-width="0.18" >PGE<tspan font-size="5" dy="1.8">2</tspan></text>
<text x="276.50" y="469.90" font-size="7.4" stroke="#222" stroke-width="0.1" >[0–11778]</text>
<text x="273.40" y="477.20" font-size="8.0" text-anchor="end" stroke="#222" stroke-width="0.12" >RNAseq</text>
<line x1="276.50" y1="478.30" x2="372.50" y2="478.30" stroke="#fd8c0a" stroke-width="1.0" />
<path d="M276.50,478.30 L296.00,478.30 L298.00,477.20 L310.00,477.00 L320.00,476.50 L330.00,476.20 L340.00,476.50 L345.00,477.50 L350.00,478.30" fill="none" stroke="#c8102e" stroke-width="0.8" />
<path d="M276.50,478.30 L290.00,478.30 L293.30,477.00 L295.00,474.00 L297.00,472.00 L299.60,470.20 L301.50,471.50 L303.00,473.50 L304.90,474.70 L307.00,474.50 L310.00,474.00 L313.00,473.50 L316.00,471.00 L318.00,467.00 L319.70,466.00 L321.00,467.50 L322.00,470.00 L323.90,471.90 L325.00,471.00 L327.00,470.20 L329.00,471.50 L332.40,473.00 L336.00,472.50 L339.80,472.30 L340.50,475.00 L341.20,478.30 L342.50,478.30 L343.00,473.00 L344.50,474.00 L346.00,476.00 L347.50,478.30 L372.50,478.30" fill="none" stroke="#fd8c0a" stroke-width="0.8" />
<text x="276.50" y="487.20" font-size="7.4" stroke="#222" stroke-width="0.1" >[0–267]</text>
<text x="273.40" y="493.80" font-size="8.0" text-anchor="end" stroke="#222" stroke-width="0.12" >ATACseq</text>
<line x1="276.50" y1="494.50" x2="372.50" y2="494.50" stroke="#fd8c0a" stroke-width="1.0" />
<path d="M276.50,494.50 L300.00,494.00 L310.00,492.80 L320.00,492.50 L335.00,492.30 L345.00,491.50 L349.00,490.50 L352.00,490.00 L355.00,490.30 L357.00,492.30 L360.00,494.20 L372.50,494.50" fill="none" stroke="#c8102e" stroke-width="0.8" />
<path d="M276.50,494.50 L285.00,494.00 L295.00,493.50 L300.00,492.80 L305.00,491.80 L310.00,490.80 L315.00,490.50 L320.00,490.00 L325.00,490.30 L330.00,490.00 L335.00,489.80 L340.00,489.50 L345.00,489.00 L347.30,488.50 L349.00,486.50 L350.50,484.00 L352.00,483.20 L353.50,484.50 L355.00,482.90 L356.50,484.00 L357.50,488.00 L358.50,492.00 L360.00,494.00 L372.50,494.20" fill="none" stroke="#fd8c0a" stroke-width="0.8" />
<line x1="349.00" y1="484.50" x2="351.50" y2="484.50" stroke="#333" stroke-width="0.6" />
<line x1="351.50" y1="484.50" x2="351.50" y2="486.00" stroke="#333" stroke-width="0.5" />
<line x1="292.70" y1="501.00" x2="356.50" y2="501.00" stroke="#1f4e8c" stroke-width="1.0" />
<rect x="292.70" y="499.70" width="8.50" height="2.60" fill="#1f4e8c" />
<rect x="301.20" y="498.50" width="40.00" height="5.00" fill="#1f4e8c" />
<rect x="341.20" y="499.70" width="15.30" height="2.60" fill="#1f4e8c" />
<rect x="307.20" y="500.0" width="1.3" height="2.0" rx="0.5" fill="#fff"/>
<rect x="311.65" y="500.0" width="1.3" height="2.0" rx="0.5" fill="#fff"/>
<rect x="316.10" y="500.0" width="1.3" height="2.0" rx="0.5" fill="#fff"/>
<rect x="320.55" y="500.0" width="1.3" height="2.0" rx="0.5" fill="#fff"/>
<rect x="325.00" y="500.0" width="1.3" height="2.0" rx="0.5" fill="#fff"/>
<rect x="329.45" y="500.0" width="1.3" height="2.0" rx="0.5" fill="#fff"/>
<rect x="333.90" y="500.0" width="1.3" height="2.0" rx="0.5" fill="#fff"/>
<rect x="338.35" y="500.0" width="1.3" height="2.0" rx="0.5" fill="#fff"/>
<path d="M342,499.3 L344,501 L342,502.7" fill="none" stroke="#fff" stroke-width="0.6" />
<text x="330.80" y="511.60" font-size="7.6" text-anchor="middle" stroke="#222" stroke-width="0.08" font-style="italic" >Cd14</text>
<text x="276.50" y="514.70" font-size="7.4" stroke="#222" stroke-width="0.1" >[0–977]</text>
<text x="273.40" y="524.90" font-size="8.0" text-anchor="end" stroke="#222" stroke-width="0.12" >RNAseq</text>
<line x1="276.50" y1="526.80" x2="372.50" y2="526.80" stroke="#fd8c0a" stroke-width="1.0" />
<path d="M279.5,526.8 L280.5,520 L281.6,516.6 L282.6,518 L283.5,517.5 L284.5,520.5 L285.9,526.8 Z" fill="#fd8c0a" />
<line x1="288.60" y1="526.80" x2="288.60" y2="522.00" stroke="#fd8c0a" stroke-width="0.9" />
<line x1="291.50" y1="526.80" x2="291.50" y2="523.00" stroke="#fd8c0a" stroke-width="0.9" />
<line x1="301.30" y1="526.80" x2="301.30" y2="520.20" stroke="#fd8c0a" stroke-width="0.9" />
<line x1="308.00" y1="526.80" x2="308.00" y2="520.50" stroke="#fd8c0a" stroke-width="0.9" />
<line x1="310.00" y1="526.80" x2="310.00" y2="522.20" stroke="#fd8c0a" stroke-width="0.9" />
<line x1="312.30" y1="526.80" x2="312.30" y2="522.00" stroke="#fd8c0a" stroke-width="0.9" />
<line x1="318.00" y1="526.80" x2="318.00" y2="524.00" stroke="#fd8c0a" stroke-width="0.9" />
<line x1="321.00" y1="526.80" x2="321.00" y2="523.50" stroke="#fd8c0a" stroke-width="0.9" />
<line x1="325.00" y1="526.80" x2="325.00" y2="524.60" stroke="#fd8c0a" stroke-width="0.9" />
<line x1="333.00" y1="526.80" x2="333.00" y2="525.00" stroke="#fd8c0a" stroke-width="0.9" />
<line x1="340.00" y1="526.80" x2="340.00" y2="525.30" stroke="#fd8c0a" stroke-width="0.9" />
<line x1="348.00" y1="526.80" x2="348.00" y2="525.20" stroke="#fd8c0a" stroke-width="0.9" />
<line x1="356.00" y1="526.80" x2="356.00" y2="525.50" stroke="#fd8c0a" stroke-width="0.9" />
<line x1="364.00" y1="526.80" x2="364.00" y2="525.80" stroke="#fd8c0a" stroke-width="0.9" />
<line x1="372.00" y1="526.80" x2="372.00" y2="525.60" stroke="#fd8c0a" stroke-width="0.9" />
<line x1="282.80" y1="526.80" x2="282.80" y2="523.50" stroke="#c8102e" stroke-width="0.9" />
<text x="276.50" y="536.10" font-size="7.4" stroke="#222" stroke-width="0.1" >[0–508]</text>
<text x="273.40" y="540.60" font-size="8.0" text-anchor="end" stroke="#222" stroke-width="0.12" >ATACseq</text>
<line x1="276.50" y1="541.40" x2="372.50" y2="541.40" stroke="#fd8c0a" stroke-width="1.0" />
<path d="M322.2,541.4 L323.3,530.4 L324.4,541.4 Z" fill="#fd8c0a" />
<path d="M354.5,541.4 L355.6,536.3 L356.7,541.4 Z" fill="#fd8c0a" />
<path d="M353.5,535 L355.5,535 M353.5,536.5 L355.5,536.5" fill="none" stroke="#333" stroke-width="0.4" />
<line x1="282.70" y1="545.20" x2="355.60" y2="545.20" stroke="#1f4e8c" stroke-width="1.0" />
<rect x="282.70" y="543.90" width="1.80" height="2.60" fill="#1f4e8c" />
<rect x="353.50" y="543.90" width="2.10" height="2.60" fill="#1f4e8c" />
<rect x="287.70" y="543.40" width="0.60" height="3.60" fill="#1f4e8c" />
<rect x="292.20" y="543.40" width="0.60" height="3.60" fill="#1f4e8c" />
<rect x="296.70" y="543.40" width="0.60" height="3.60" fill="#1f4e8c" />
<rect x="300.70" y="543.40" width="0.60" height="3.60" fill="#1f4e8c" />
<rect x="305.20" y="543.40" width="0.60" height="3.60" fill="#1f4e8c" />
<rect x="309.70" y="543.40" width="0.60" height="3.60" fill="#1f4e8c" />
<rect x="313.70" y="543.40" width="0.60" height="3.60" fill="#1f4e8c" />
<rect x="318.20" y="543.40" width="0.60" height="3.60" fill="#1f4e8c" />
<rect x="321.70" y="543.40" width="0.60" height="3.60" fill="#1f4e8c" />
<rect x="326.70" y="543.40" width="0.60" height="3.60" fill="#1f4e8c" />
<rect x="331.20" y="543.40" width="0.60" height="3.60" fill="#1f4e8c" />
<rect x="335.70" y="543.40" width="0.60" height="3.60" fill="#1f4e8c" />
<rect x="339.70" y="543.40" width="0.60" height="3.60" fill="#1f4e8c" />
<rect x="344.20" y="543.40" width="0.60" height="3.60" fill="#1f4e8c" />
<rect x="348.70" y="543.40" width="0.60" height="3.60" fill="#1f4e8c" />
<path d="M287,543.8 L285.5,545.2 L287,546.6" fill="none" stroke="#1f4e8c" stroke-width="0.5" />
<path d="M301,543.8 L299.5,545.2 L301,546.6" fill="none" stroke="#1f4e8c" stroke-width="0.5" />
<path d="M316,543.8 L314.5,545.2 L316,546.6" fill="none" stroke="#1f4e8c" stroke-width="0.5" />
<path d="M331,543.8 L329.5,545.2 L331,546.6" fill="none" stroke="#1f4e8c" stroke-width="0.5" />
<path d="M346,543.8 L344.5,545.2 L346,546.6" fill="none" stroke="#1f4e8c" stroke-width="0.5" />
<text x="323.70" y="555.80" font-size="7.6" text-anchor="middle" stroke="#222" stroke-width="0.08" font-style="italic" >Tgm2</text>
<text x="276.50" y="559.40" font-size="7.4" stroke="#222" stroke-width="0.1" >[0–23]</text>
<text x="273.40" y="569.60" font-size="8.0" text-anchor="end" stroke="#222" stroke-width="0.12" >RNAseq</text>
<line x1="276.50" y1="572.00" x2="372.50" y2="572.00" stroke="#fd8c0a" stroke-width="1.0" />
<path d="M282.5,572 L283.5,566 L284.5,562 L285.3,561.3 L286.2,563.5 L287.2,566 L288.5,568.5 L289.5,572 Z" fill="#fd8c0a" />
<line x1="291.00" y1="572.00" x2="291.00" y2="569.00" stroke="#fd8c0a" stroke-width="0.9" />
<line x1="293.00" y1="572.00" x2="293.00" y2="569.50" stroke="#fd8c0a" stroke-width="0.9" />
<line x1="296.00" y1="572.00" x2="296.00" y2="570.00" stroke="#fd8c0a" stroke-width="0.9" />
<line x1="299.00" y1="572.00" x2="299.00" y2="570.20" stroke="#fd8c0a" stroke-width="0.9" />
<line x1="303.00" y1="572.00" x2="303.00" y2="570.00" stroke="#fd8c0a" stroke-width="0.9" />
<line x1="306.30" y1="572.00" x2="306.30" y2="565.50" stroke="#fd8c0a" stroke-width="0.9" />
<line x1="308.00" y1="572.00" x2="308.00" y2="569.00" stroke="#fd8c0a" stroke-width="0.9" />
<line x1="311.00" y1="572.00" x2="311.00" y2="570.50" stroke="#fd8c0a" stroke-width="0.9" />
<line x1="318.00" y1="572.00" x2="318.00" y2="570.80" stroke="#fd8c0a" stroke-width="0.9" />
<line x1="325.00" y1="572.00" x2="325.00" y2="571.00" stroke="#fd8c0a" stroke-width="0.9" />
<line x1="337.50" y1="572.00" x2="337.50" y2="567.50" stroke="#fd8c0a" stroke-width="0.9" />
<line x1="339.00" y1="572.00" x2="339.00" y2="569.00" stroke="#fd8c0a" stroke-width="0.9" />
<line x1="341.00" y1="572.00" x2="341.00" y2="570.00" stroke="#fd8c0a" stroke-width="0.9" />
<line x1="345.00" y1="572.00" x2="345.00" y2="567.00" stroke="#fd8c0a" stroke-width="0.9" />
<line x1="347.00" y1="572.00" x2="347.00" y2="569.40" stroke="#fd8c0a" stroke-width="0.9" />
<line x1="350.00" y1="572.00" x2="350.00" y2="570.50" stroke="#fd8c0a" stroke-width="0.9" />
<line x1="358.00" y1="572.00" x2="358.00" y2="570.00" stroke="#fd8c0a" stroke-width="0.9" />
<line x1="360.00" y1="572.00" x2="360.00" y2="569.50" stroke="#fd8c0a" stroke-width="0.9" />
<line x1="365.00" y1="572.00" x2="365.00" y2="570.80" stroke="#fd8c0a" stroke-width="0.9" />
<line x1="370.00" y1="572.00" x2="370.00" y2="571.00" stroke="#fd8c0a" stroke-width="0.9" />
<line x1="286.00" y1="572.00" x2="286.00" y2="569.50" stroke="#c8102e" stroke-width="0.8" />
<line x1="290.00" y1="572.00" x2="290.00" y2="570.00" stroke="#c8102e" stroke-width="0.8" />
<line x1="297.00" y1="572.00" x2="297.00" y2="570.50" stroke="#c8102e" stroke-width="0.8" />
<line x1="312.00" y1="572.00" x2="312.00" y2="570.50" stroke="#c8102e" stroke-width="0.8" />
<line x1="337.00" y1="572.00" x2="337.00" y2="568.50" stroke="#c8102e" stroke-width="0.8" />
<line x1="338.50" y1="572.00" x2="338.50" y2="568.20" stroke="#c8102e" stroke-width="0.8" />
<line x1="344.00" y1="572.00" x2="344.00" y2="570.00" stroke="#c8102e" stroke-width="0.8" />
<text x="276.50" y="580.60" font-size="7.4" stroke="#222" stroke-width="0.1" >[0–67]</text>
<text x="273.40" y="585.10" font-size="8.0" text-anchor="end" stroke="#222" stroke-width="0.12" >ATACseq</text>
<line x1="276.50" y1="585.80" x2="372.50" y2="585.80" stroke="#fd8c0a" stroke-width="1.0" />
<path d="M276.50,585.79 L277.10,585.47 L277.70,585.65 L278.30,585.40 L278.90,585.52 L279.50,585.31 L280.10,585.41 L280.70,585.32 L281.30,585.59 L281.90,585.41 L282.50,585.36 L283.10,585.30 L283.70,585.59 L284.30,585.29 L284.90,585.28 L285.50,585.39 L286.10,585.21 L286.70,585.23 L287.30,585.49 L287.90,585.48 L288.50,585.70 L289.10,585.30 L289.70,585.24 L290.30,585.51 L290.90,585.39 L291.50,585.37 L292.10,585.36 L292.70,585.70 L293.30,585.33 L293.90,585.45 L294.50,585.40 L295.10,585.55 L295.70,585.43 L296.30,585.34 L296.90,585.42 L297.50,585.37 L298.10,585.78 L298.70,585.70 L299.30,585.54 L299.90,585.41 L300.50,585.67 L301.10,585.39 L301.70,585.42 L302.30,585.77 L302.90,585.52 L303.50,585.66 L304.10,585.77 L304.70,585.72 L305.30,585.61 L305.90,585.69 L306.50,585.68 L307.10,585.78 L307.70,585.52 L308.30,585.57 L308.90,585.43 L309.50,585.45 L310.10,585.66 L310.70,585.26 L311.30,585.80 L311.90,585.56 L312.50,585.63 L313.10,585.55 L313.70,585.73 L314.30,585.30 L314.90,585.56 L315.50,585.74 L316.10,585.30 L316.70,585.43 L317.30,584.75 L317.90,584.37 L318.50,583.56 L319.10,582.75 L319.70,582.81 L320.30,583.53 L320.90,583.77 L321.50,584.51 L322.10,585.14 L322.70,585.54 L323.30,585.37 L323.90,585.42 L324.50,585.16 L325.10,585.10 L325.70,585.22 L326.30,585.24 L326.90,584.67 L327.50,585.05 L328.10,584.71 L328.70,584.09 L329.30,583.85 L329.90,584.18 L330.50,583.78 L331.10,583.64 L331.70,584.08 L332.30,583.77 L332.90,583.45 L333.50,583.00 L334.10,582.46 L334.70,583.79 L335.30,584.20 L335.90,584.85 L336.50,585.33 L337.10,585.62 L337.70,585.21 L338.30,585.50 L338.90,585.55 L339.50,585.61 L340.10,585.21 L340.70,585.50 L341.30,585.63 L341.90,585.51 L342.50,585.73 L343.10,585.43 L343.70,585.53 L344.30,585.62 L344.90,585.33 L345.50,585.30 L346.10,585.79 L346.70,585.48 L347.30,585.64 L347.90,585.24 L348.50,585.33 L349.10,585.65 L349.70,585.64 L350.30,585.71 L350.90,585.21 L351.50,585.62 L352.10,585.44 L352.70,585.52 L353.30,585.41 L353.90,585.44 L354.50,585.35 L355.10,585.73 L355.70,585.34 L356.30,585.62 L356.90,585.48 L357.50,585.60 L358.10,585.62 L358.70,585.47 L359.30,585.47 L359.90,585.35 L360.50,584.49 L361.10,583.36 L361.70,582.37 L362.30,581.03 L362.90,580.99 L363.50,581.89 L364.10,583.59 L364.70,584.90 L365.30,585.65 L365.90,585.30 L366.50,585.54 L367.10,585.45 L367.70,585.38 L368.30,585.42 L368.90,585.51 L369.50,585.25 L370.10,585.57 L370.70,585.56 L371.30,585.29 L371.90,585.68" fill="none" stroke="#c8102e" stroke-width="0.6" />
<path d="M276.50,584.99 L277.10,584.84 L277.70,584.77 L278.30,584.57 L278.90,584.84 L279.50,584.60 L280.10,585.76 L280.70,585.19 L281.30,584.57 L281.90,584.96 L282.50,584.63 L283.10,585.65 L283.70,585.19 L284.30,585.48 L284.90,585.09 L285.50,585.05 L286.10,585.78 L286.70,585.52 L287.30,585.44 L287.90,584.61 L288.50,584.80 L289.10,585.59 L289.70,584.76 L290.30,585.62 L290.90,584.99 L291.50,585.63 L292.10,585.79 L292.70,584.66 L293.30,585.52 L293.90,585.50 L294.50,584.50 L295.10,584.63 L295.70,585.39 L296.30,584.49 L296.90,585.03 L297.50,584.83 L298.10,585.44 L298.70,584.43 L299.30,584.73 L299.90,584.32 L300.50,584.37 L301.10,585.15 L301.70,585.02 L302.30,585.25 L302.90,585.23 L303.50,585.29 L304.10,584.89 L304.70,584.38 L305.30,585.23 L305.90,584.14 L306.50,584.61 L307.10,584.61 L307.70,583.76 L308.30,584.27 L308.90,584.51 L309.50,584.23 L310.10,583.86 L310.70,584.91 L311.30,583.46 L311.90,585.01 L312.50,583.89 L313.10,583.79 L313.70,585.13 L314.30,583.99 L314.90,584.69 L315.50,584.40 L316.10,585.21 L316.70,584.93 L317.30,584.11 L317.90,581.34 L318.50,581.71 L319.10,578.98 L319.70,578.18 L320.30,578.77 L320.90,580.95 L321.50,580.86 L322.10,580.76 L322.70,581.68 L323.30,584.58 L323.90,584.41 L324.50,584.49 L325.10,584.06 L325.70,584.68 L326.30,582.13 L326.90,583.40 L327.50,583.12 L328.10,583.40 L328.70,583.65 L329.30,584.59 L329.90,582.47 L330.50,581.50 L331.10,581.42 L331.70,582.19 L332.30,583.06 L332.90,582.34 L333.50,580.74 L334.10,579.12 L334.70,580.37 L335.30,584.24 L335.90,585.37 L336.50,584.41 L337.10,585.07 L337.70,585.22 L338.30,585.41 L338.90,584.88 L339.50,584.49 L340.10,584.89 L340.70,584.81 L341.30,585.21 L341.90,583.72 L342.50,584.94 L343.10,584.02 L343.70,583.28 L344.30,584.41 L344.90,583.31 L345.50,582.95 L346.10,583.59 L346.70,583.47 L347.30,584.76 L347.90,584.41 L348.50,585.02 L349.10,584.14 L349.70,585.08 L350.30,584.97 L350.90,584.31 L351.50,584.58 L352.10,584.46 L352.70,585.18 L353.30,585.15 L353.90,584.84 L354.50,585.17 L355.10,585.42 L355.70,585.27 L356.30,585.60 L356.90,585.25 L357.50,584.21 L358.10,583.59 L358.70,582.93 L359.30,581.77 L359.90,581.26 L360.50,581.72 L361.10,580.58 L361.70,576.81 L362.30,574.36 L362.90,576.92 L363.50,576.45 L364.10,575.98 L364.70,577.03 L365.30,580.86 L365.90,583.71 L366.50,585.20 L367.10,584.88 L367.70,585.43 L368.30,585.17 L368.90,584.80 L369.50,584.90 L370.10,585.42 L370.70,584.57 L371.30,584.96 L371.90,585.05" fill="none" stroke="#fd8c0a" stroke-width="0.6" />
<path d="M360,578.5 L364,578.5 M361,581 L365,581 M364.5,576 L366.5,576" fill="none" stroke="#333" stroke-width="0.45" />
<line x1="283.50" y1="590.40" x2="366.60" y2="590.40" stroke="#1f4e8c" stroke-width="1.0" />
<rect x="283.50" y="589.10" width="6.50" height="2.60" fill="#1f4e8c" />
<rect x="318.00" y="589.20" width="16.00" height="2.40" fill="#1f4e8c" />
<rect x="300.50" y="589.20" width="3.00" height="2.40" fill="#1f4e8c" />
<rect x="293.60" y="588.60" width="0.60" height="3.60" fill="#1f4e8c" />
<rect x="296.20" y="588.60" width="0.60" height="3.60" fill="#1f4e8c" />
<rect x="298.20" y="588.60" width="0.60" height="3.60" fill="#1f4e8c" />
<rect x="310.70" y="588.60" width="0.60" height="3.60" fill="#1f4e8c" />
<rect x="313.70" y="588.60" width="0.60" height="3.60" fill="#1f4e8c" />
<rect x="336.70" y="588.60" width="0.60" height="3.60" fill="#1f4e8c" />
<rect x="340.70" y="588.60" width="0.60" height="3.60" fill="#1f4e8c" />
<rect x="344.70" y="588.60" width="0.60" height="3.60" fill="#1f4e8c" />
<rect x="348.70" y="588.60" width="0.60" height="3.60" fill="#1f4e8c" />
<rect x="352.70" y="588.60" width="0.60" height="3.60" fill="#1f4e8c" />
<rect x="356.70" y="588.60" width="0.60" height="3.60" fill="#1f4e8c" />
<circle cx="307.3" cy="590.4" r="2.1" fill="#1f4e8c"/>
<circle cx="362" cy="590.4" r="2.3" fill="#1f4e8c"/>
<circle cx="293.9" cy="590.4" r="1.3" fill="#1f4e8c"/>
<text x="298.00" y="600.00" font-size="7.6" stroke="#222" stroke-width="0.08" font-style="italic" textLength="100.00" lengthAdjust="spacingAndGlyphs" >Nr4a2Nr4a2 XM_017319363.1</text>
<text x="276.50" y="606.40" font-size="7.4" stroke="#222" stroke-width="0.1" >[0–56]</text>
<text x="273.40" y="612.60" font-size="8.0" text-anchor="end" stroke="#222" stroke-width="0.12" >RNAseq</text>
<line x1="276.50" y1="613.80" x2="372.50" y2="613.80" stroke="#fd8c0a" stroke-width="1.0" />
<line x1="282.00" y1="613.80" x2="282.00" y2="611.80" stroke="#fd8c0a" stroke-width="0.9" />
<line x1="285.00" y1="613.80" x2="285.00" y2="612.30" stroke="#fd8c0a" stroke-width="0.9" />
<line x1="290.00" y1="613.80" x2="290.00" y2="612.60" stroke="#fd8c0a" stroke-width="0.9" />
<line x1="296.00" y1="613.80" x2="296.00" y2="611.30" stroke="#fd8c0a" stroke-width="0.9" />
<line x1="300.00" y1="613.80" x2="300.00" y2="612.50" stroke="#fd8c0a" stroke-width="0.9" />
<line x1="305.00" y1="613.80" x2="305.00" y2="612.00" stroke="#fd8c0a" stroke-width="0.9" />
<line x1="312.00" y1="613.80" x2="312.00" y2="612.60" stroke="#fd8c0a" stroke-width="0.9" />
<line x1="318.00" y1="613.80" x2="318.00" y2="612.30" stroke="#fd8c0a" stroke-width="0.9" />
<line x1="325.00" y1="613.80" x2="325.00" y2="612.80" stroke="#fd8c0a" stroke-width="0.9" />
<line x1="333.00" y1="613.80" x2="333.00" y2="611.20" stroke="#fd8c0a" stroke-width="0.9" />
<line x1="340.00" y1="613.80" x2="340.00" y2="612.60" stroke="#fd8c0a" stroke-width="0.9" />
<line x1="348.00" y1="613.80" x2="348.00" y2="612.40" stroke="#fd8c0a" stroke-width="0.9" />
<line x1="308.90" y1="613.80" x2="308.90" y2="608.80" stroke="#fd8c0a" stroke-width="0.75" />
<line x1="334.30" y1="613.80" x2="334.30" y2="609.80" stroke="#fd8c0a" stroke-width="0.75" />
<line x1="355.50" y1="613.80" x2="355.50" y2="607.80" stroke="#fd8c0a" stroke-width="0.75" />
<line x1="356.30" y1="613.80" x2="356.30" y2="604.80" stroke="#fd8c0a" stroke-width="0.75" />
<line x1="357.10" y1="613.80" x2="357.10" y2="602.80" stroke="#fd8c0a" stroke-width="0.75" />
<line x1="357.90" y1="613.80" x2="357.90" y2="605.80" stroke="#fd8c0a" stroke-width="0.75" />
<line x1="358.70" y1="613.80" x2="358.70" y2="602.30" stroke="#fd8c0a" stroke-width="0.75" />
<line x1="359.50" y1="613.80" x2="359.50" y2="604.80" stroke="#fd8c0a" stroke-width="0.75" />
<line x1="360.30" y1="613.80" x2="360.30" y2="603.30" stroke="#fd8c0a" stroke-width="0.75" />
<line x1="361.10" y1="613.80" x2="361.10" y2="606.80" stroke="#fd8c0a" stroke-width="0.75" />
<line x1="361.90" y1="613.80" x2="361.90" y2="608.80" stroke="#fd8c0a" stroke-width="0.75" />
<line x1="356.50" y1="613.80" x2="356.50" y2="610.80" stroke="#c8102e" stroke-width="0.6" />
<line x1="358.30" y1="613.80" x2="358.30" y2="609.80" stroke="#c8102e" stroke-width="0.6" />
<line x1="360.00" y1="613.80" x2="360.00" y2="610.30" stroke="#c8102e" stroke-width="0.6" />
<line x1="361.50" y1="613.80" x2="361.50" y2="611.30" stroke="#c8102e" stroke-width="0.6" />
<text x="276.50" y="621.40" font-size="7.4" stroke="#222" stroke-width="0.1" >[0–771]</text>
<text x="273.40" y="628.60" font-size="8.0" text-anchor="end" stroke="#222" stroke-width="0.12" >ATACseq</text>
<line x1="276.50" y1="633.00" x2="372.50" y2="633.00" stroke="#fd8c0a" stroke-width="1.0" />
<path d="M283,633 L283.8,626 L284.5,622 L285.2,627 L286,633 Z" fill="#fd8c0a" />
<path d="M286,629.5 L288.5,629.5 M286.8,631 L288.8,631 M286.8,628 L288.8,628" fill="none" stroke="#333" stroke-width="0.4" />
<line x1="288.10" y1="637.00" x2="362.00" y2="637.00" stroke="#1f4e8c" stroke-width="1.0" />
<rect x="353.90" y="635.50" width="8.10" height="3.00" fill="#1f4e8c" />
<rect x="299.50" y="635.40" width="1.50" height="3.20" fill="#1f4e8c" />
<rect x="307.00" y="635.40" width="1.50" height="3.20" fill="#1f4e8c" />
<rect x="291.70" y="635.20" width="0.60" height="3.60" fill="#1f4e8c" />
<rect x="294.70" y="635.20" width="0.60" height="3.60" fill="#1f4e8c" />
<rect x="303.70" y="635.20" width="0.60" height="3.60" fill="#1f4e8c" />
<rect x="311.70" y="635.20" width="0.60" height="3.60" fill="#1f4e8c" />
<rect x="315.70" y="635.20" width="0.60" height="3.60" fill="#1f4e8c" />
<rect x="319.70" y="635.20" width="0.60" height="3.60" fill="#1f4e8c" />
<rect x="323.70" y="635.20" width="0.60" height="3.60" fill="#1f4e8c" />
<rect x="327.70" y="635.20" width="0.60" height="3.60" fill="#1f4e8c" />
<rect x="331.70" y="635.20" width="0.60" height="3.60" fill="#1f4e8c" />
<rect x="335.70" y="635.20" width="0.60" height="3.60" fill="#1f4e8c" />
<rect x="339.70" y="635.20" width="0.60" height="3.60" fill="#1f4e8c" />
<rect x="343.70" y="635.20" width="0.60" height="3.60" fill="#1f4e8c" />
<rect x="347.70" y="635.20" width="0.60" height="3.60" fill="#1f4e8c" />
<path d="M293,635.8 L294.5,637 L293,638.2" fill="none" stroke="#1f4e8c" stroke-width="0.5" />
<path d="M309,635.8 L310.5,637 L309,638.2" fill="none" stroke="#1f4e8c" stroke-width="0.5" />
<path d="M325,635.8 L326.5,637 L325,638.2" fill="none" stroke="#1f4e8c" stroke-width="0.5" />
<path d="M341,635.8 L342.5,637 L341,638.2" fill="none" stroke="#1f4e8c" stroke-width="0.5" />
<text x="330.40" y="647.70" font-size="7.6" text-anchor="middle" stroke="#222" stroke-width="0.08" font-style="italic" >Nr4a3</text>
<text x="276.50" y="648.90" font-size="7.4" stroke="#222" stroke-width="0.1" >[0–1312]</text>
<text x="273.40" y="660.40" font-size="8.0" text-anchor="end" stroke="#222" stroke-width="0.12" >RNAseq</text>
<line x1="276.50" y1="662.00" x2="372.50" y2="662.00" stroke="#fd8c0a" stroke-width="1.0" />
<path d="M276.50,662.00 L294.40,662.00 L295.50,659.00 L298.00,658.20 L301.00,658.80 L304.00,658.20 L308.00,658.50 L311.00,658.80 L315.00,658.30 L318.30,658.80 L318.60,662.00 L327.20,662.00 L328.00,658.30 L331.00,658.80 L332.60,662.00" fill="none" stroke="#c8102e" stroke-width="0.8" />
<path d="M276.50,662.00 L294.20,662.00 L295.20,655.00 L296.20,651.50 L297.30,650.60 L299.00,652.50 L301.20,654.40 L302.50,652.80 L304.00,651.90 L306.00,652.30 L307.90,652.50 L309.50,654.00 L310.80,655.80 L314.00,655.80 L318.30,655.80 L318.80,662.00 L327.00,662.00 L327.50,655.00 L328.10,653.50 L329.50,655.50 L331.00,658.00 L331.90,659.20 L332.90,662.00 L372.50,662.00" fill="none" stroke="#fd8c0a" stroke-width="0.9" />
<text x="276.50" y="670.60" font-size="7.4" stroke="#222" stroke-width="0.1" >[0–126]</text>
<text x="273.40" y="673.40" font-size="8.0" text-anchor="end" stroke="#222" stroke-width="0.12" >ATACseq</text>
<line x1="276.50" y1="677.00" x2="372.50" y2="677.00" stroke="#fd8c0a" stroke-width="1.6" />
<path d="M276.50,677.00 L295.00,676.50 L305.00,675.50 L315.00,673.50 L322.00,672.00 L328.00,671.00 L333.00,670.50 L337.00,671.00 L339.00,673.00 L341.00,671.00 L345.00,670.00 L350.00,671.00 L354.00,674.00 L360.00,676.00 L372.50,676.80" fill="none" stroke="#c8102e" stroke-width="0.9" />
<path d="M276.50,676.00 L285.00,676.30 L295.00,675.50 L300.00,674.00 L305.00,673.50 L310.00,672.00 L315.00,670.50 L320.00,668.50 L325.00,667.00 L328.00,665.00 L330.00,664.00 L333.00,664.80 L335.00,665.00 L337.00,667.00 L338.80,672.00 L340.50,668.00 L342.50,665.00 L345.00,664.00 L348.00,664.50 L350.00,665.00 L352.50,668.00 L354.00,672.00 L357.00,674.50 L362.00,676.00 L372.50,676.30" fill="none" stroke="#fd8c0a" stroke-width="0.8" />
<path d="M329,667 L332,667 M330,669 L333,669 M340,666 L343,666 M342,668.5 L345,668.5" fill="none" stroke="#333" stroke-width="0.45" />
<line x1="290.60" y1="682.70" x2="336.70" y2="682.70" stroke="#1f4e8c" stroke-width="1.0" />
<rect x="290.60" y="681.20" width="13.40" height="3.00" fill="#1f4e8c" />
<rect x="304.00" y="680.20" width="12.50" height="5.00" fill="#1f4e8c" />
<rect x="324.90" y="680.90" width="0.60" height="3.60" fill="#1f4e8c" />
<rect x="328.70" y="680.90" width="0.60" height="3.60" fill="#1f4e8c" />
<rect x="331.70" y="680.90" width="0.60" height="3.60" fill="#1f4e8c" />
<rect x="335.50" y="680.90" width="0.60" height="3.60" fill="#1f4e8c" />
<path d="M316.5,680.2 L319,682.7 L316.5,685.2 Z" fill="#1f4e8c" />
<ellipse cx="309.8" cy="682.7" rx="1.2" ry="1.6" fill="#fff"/>
<ellipse cx="315.0" cy="682.7" rx="1.2" ry="1.6" fill="#fff"/>
<text x="317.50" y="694.50" font-size="7.6" text-anchor="middle" stroke="#222" stroke-width="0.08" font-style="italic" >G0s2</text>
<text x="400.20" y="463.00" font-size="10.5" fill="#000" font-weight="bold" >L</text>
<line x1="433.50" y1="478.00" x2="433.50" y2="624.70" stroke="#222" stroke-width="1.1" />
<line x1="433.00" y1="624.20" x2="513.00" y2="624.20" stroke="#222" stroke-width="1.1" />
<line x1="430.50" y1="617.60" x2="433.50" y2="617.60" stroke="#222" stroke-width="0.8" />
<text x="428.50" y="620.20" font-size="7.4" text-anchor="end" stroke="#222" stroke-width="0.18" textLength="4.40" lengthAdjust="spacingAndGlyphs" >0</text>
<line x1="430.50" y1="581.50" x2="433.50" y2="581.50" stroke="#222" stroke-width="0.8" />
<text x="428.50" y="584.10" font-size="7.4" text-anchor="end" stroke="#222" stroke-width="0.18" textLength="13.21" lengthAdjust="spacingAndGlyphs" >300</text>
<line x1="430.50" y1="545.40" x2="433.50" y2="545.40" stroke="#222" stroke-width="0.8" />
<text x="428.50" y="548.00" font-size="7.4" text-anchor="end" stroke="#222" stroke-width="0.18" textLength="13.21" lengthAdjust="spacingAndGlyphs" >600</text>
<line x1="430.50" y1="509.30" x2="433.50" y2="509.30" stroke="#222" stroke-width="0.8" />
<text x="428.50" y="511.90" font-size="7.4" text-anchor="end" stroke="#222" stroke-width="0.18" textLength="13.21" lengthAdjust="spacingAndGlyphs" >900</text>
<line x1="439.50" y1="601.20" x2="439.50" y2="616.30" stroke="#4a4a4a" stroke-width="1.0" />
<rect x="437.00" y="606.20" width="5.00" height="5.10" fill="#c8102e" />
<line x1="437.00" y1="607.50" x2="442.00" y2="607.50" stroke="#111" stroke-width="0.9" />
<circle cx="439.5" cy="596.3" r="1.45" fill="#c8102e"/>
<line x1="444.80" y1="572.00" x2="444.80" y2="617.00" stroke="#4a4a4a" stroke-width="1.0" />
<rect x="442.15" y="584.50" width="5.30" height="20.00" fill="#fd8c0a" />
<line x1="442.15" y1="593.30" x2="447.45" y2="593.30" stroke="#111" stroke-width="0.9" />
<circle cx="445" cy="550.5" r="1.45" fill="#fd8c0a"/>
<line x1="454.80" y1="606.50" x2="454.80" y2="612.50" stroke="#4a4a4a" stroke-width="1.0" />
<rect x="452.55" y="608.00" width="4.50" height="3.30" fill="#c8102e" />
<line x1="452.55" y1="609.50" x2="457.05" y2="609.50" stroke="#111" stroke-width="0.9" />
<line x1="460.60" y1="602.00" x2="460.60" y2="610.50" stroke="#4a4a4a" stroke-width="1.0" />
<rect x="458.00" y="604.50" width="5.20" height="4.30" fill="#fd8c0a" />
<line x1="458.00" y1="606.20" x2="463.20" y2="606.20" stroke="#111" stroke-width="0.9" />
<line x1="470.20" y1="611.50" x2="470.20" y2="616.80" stroke="#4a4a4a" stroke-width="1.0" />
<rect x="467.95" y="613.00" width="4.50" height="2.50" fill="#c8102e" />
<line x1="467.95" y1="614.20" x2="472.45" y2="614.20" stroke="#111" stroke-width="0.9" />
<line x1="476.20" y1="609.00" x2="476.20" y2="617.00" stroke="#4a4a4a" stroke-width="1.0" />
<rect x="473.70" y="611.80" width="5.00" height="3.20" fill="#fd8c0a" />
<line x1="473.70" y1="613.50" x2="478.70" y2="613.50" stroke="#111" stroke-width="0.9" />
<line x1="485.80" y1="543.00" x2="485.80" y2="617.60" stroke="#4a4a4a" stroke-width="1.0" />
<rect x="483.30" y="551.20" width="5.00" height="28.80" fill="#c8102e" />
<line x1="483.30" y1="560.00" x2="488.30" y2="560.00" stroke="#111" stroke-width="0.9" />
<line x1="491.90" y1="485.00" x2="491.90" y2="617.60" stroke="#4a4a4a" stroke-width="1.0" />
<rect x="489.25" y="491.20" width="5.30" height="70.80" fill="#fd8c0a" />
<line x1="489.25" y1="517.00" x2="494.55" y2="517.00" stroke="#111" stroke-width="0.9" />
<line x1="501.50" y1="598.00" x2="501.50" y2="603.50" stroke="#4a4a4a" stroke-width="1.0" />
<rect x="499.25" y="599.50" width="4.50" height="3.00" fill="#c8102e" />
<line x1="499.25" y1="600.80" x2="503.75" y2="600.80" stroke="#111" stroke-width="0.9" />
<circle cx="501.3" cy="616.3" r="1.45" fill="#c8102e"/>
<line x1="507.20" y1="577.00" x2="507.20" y2="616.30" stroke="#4a4a4a" stroke-width="1.0" />
<rect x="504.90" y="581.30" width="4.60" height="18.00" fill="#fd8c0a" />
<line x1="504.90" y1="587.00" x2="509.50" y2="587.00" stroke="#111" stroke-width="0.9" />
<line x1="438.80" y1="569.50" x2="447.00" y2="569.50" stroke="#222" stroke-width="0.8" />
<text x="442.90" y="570.40" font-size="7.4" text-anchor="middle" fill="#222" stroke="#222" stroke-width="0.2" textLength="8.90" lengthAdjust="spacing">***</text>
<line x1="453.00" y1="599.50" x2="462.00" y2="599.50" stroke="#222" stroke-width="0.8" />
<text x="457.50" y="600.40" font-size="7.4" text-anchor="middle" fill="#222" stroke="#222" stroke-width="0.2" textLength="8.90" lengthAdjust="spacing">***</text>
<line x1="469.00" y1="605.50" x2="478.00" y2="605.50" stroke="#222" stroke-width="0.8" />
<text x="473.50" y="606.40" font-size="7.4" text-anchor="middle" fill="#222" stroke="#222" stroke-width="0.2" textLength="8.90" lengthAdjust="spacing">***</text>
<line x1="500.00" y1="573.80" x2="509.00" y2="573.80" stroke="#222" stroke-width="0.8" />
<text x="504.50" y="574.70" font-size="7.4" text-anchor="middle" fill="#222" stroke="#222" stroke-width="0.2" textLength="5.60" lengthAdjust="spacing">**</text>
<line x1="486.00" y1="482.60" x2="491.80" y2="482.60" stroke="#222" stroke-width="0.8" />
<text x="488.90" y="483.50" font-size="7.4" text-anchor="middle" fill="#222" stroke="#222" stroke-width="0.2" textLength="5.60" lengthAdjust="spacing">**</text>
<line x1="441.20" y1="624.20" x2="441.20" y2="626.60" stroke="#222" stroke-width="0.8" />
<text x="443.40" y="633.60" font-size="7.6" text-anchor="end" stroke="#222" stroke-width="0.18" font-style="italic" transform="rotate(-45 443.40 633.60)" >Cd14</text>
<line x1="457.00" y1="624.20" x2="457.00" y2="626.60" stroke="#222" stroke-width="0.8" />
<text x="459.20" y="633.60" font-size="7.6" text-anchor="end" stroke="#222" stroke-width="0.18" font-style="italic" transform="rotate(-45 459.20 633.60)" >Tgm2</text>
<line x1="472.50" y1="624.20" x2="472.50" y2="626.60" stroke="#222" stroke-width="0.8" />
<text x="474.70" y="633.60" font-size="7.6" text-anchor="end" stroke="#222" stroke-width="0.18" font-style="italic" transform="rotate(-45 474.70 633.60)" >Nr4a2</text>
<line x1="488.80" y1="624.20" x2="488.80" y2="626.60" stroke="#222" stroke-width="0.8" />
<text x="491.00" y="633.60" font-size="7.6" text-anchor="end" stroke="#222" stroke-width="0.18" font-style="italic" transform="rotate(-45 491.00 633.60)" >Nr4a3</text>
<line x1="503.80" y1="624.20" x2="503.80" y2="626.60" stroke="#222" stroke-width="0.8" />
<text x="506.00" y="633.60" font-size="7.6" text-anchor="end" stroke="#222" stroke-width="0.18" font-style="italic" transform="rotate(-45 506.00 633.60)" >G0s2</text>
<text x="472.90" y="662.00" font-size="9.0" text-anchor="middle" stroke="#222" stroke-width="0.18" textLength="17.60" lengthAdjust="spacingAndGlyphs" >Gene</text>
<text x="408.30" y="551.40" font-size="9.3" text-anchor="middle" stroke="#222" stroke-width="0.08" textLength="73.60" lengthAdjust="spacingAndGlyphs" transform="rotate(-90 408.30 551.40)" >Normalized tag counts</text>
<rect x="441.30" y="672.30" width="5.00" height="5.10" fill="#c8102e" />
<text x="449.40" y="677.40" font-size="7.6" stroke="#222" stroke-width="0.18" textLength="23.60" lengthAdjust="spacingAndGlyphs" >Vehicle</text>
<rect x="479.10" y="672.30" width="5.30" height="5.10" fill="#fd8c0a" />
<text x="486.80" y="677.40" font-size="7.6" stroke="#222" stroke-width="0.18" >PGE<tspan font-size="5" dy="1.8">2</tspan></text>
<rect x="0.6" y="0.6" width="518.8" height="700.8" fill="none" stroke="#000" stroke-width="1.3"/>
</svg></body></html>
